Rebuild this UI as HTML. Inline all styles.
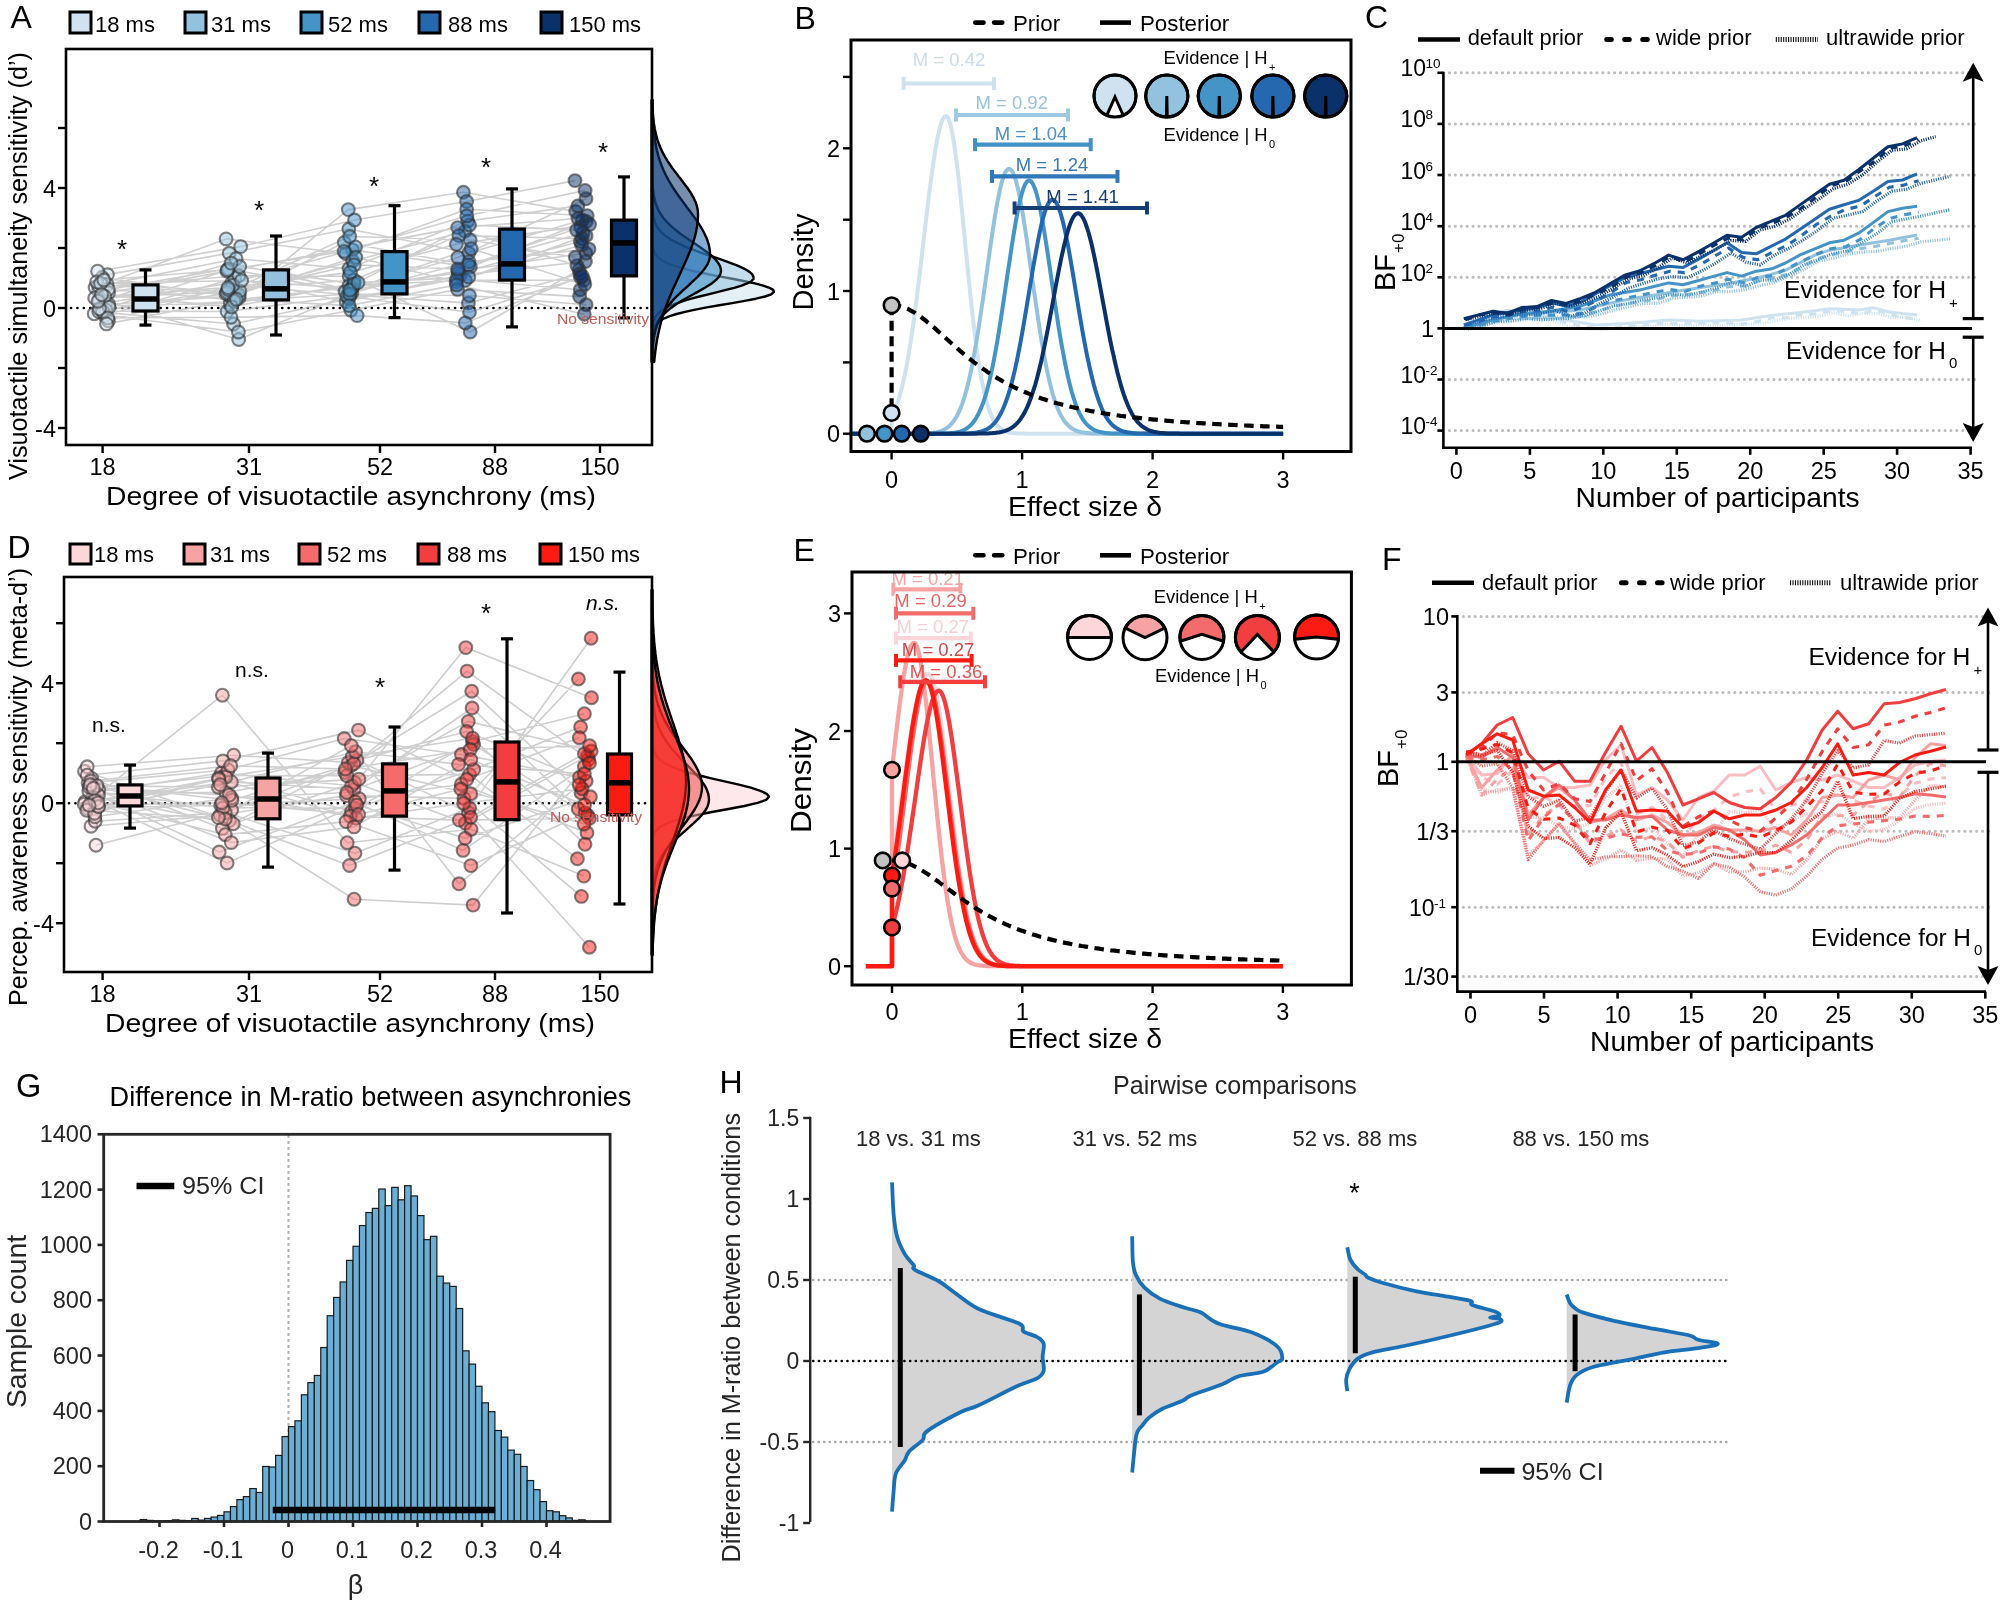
<!DOCTYPE html>
<html><head><meta charset="utf-8"><style>
html,body{margin:0;padding:0;background:#fff;overflow:hidden;width:2000px;height:1607px;}
svg{display:block;will-change:transform;}
text{font-family:"Liberation Sans",sans-serif;}
</style></head><body>
<svg width="2000" height="1607" viewBox="0 0 2000 1607">
<rect width="2000" height="1607" fill="#fff"/>
<text x="10.5" y="28.0" font-size="32" >A</text>
<rect x="70.0" y="12.0" width="21.0" height="21.0" fill="#cfe2ef" stroke="#000" stroke-width="3" />
<text x="95.0" y="32.0" font-size="22" textLength="59.9" lengthAdjust="spacingAndGlyphs" >18 ms</text>
<rect x="185.0" y="12.0" width="21.0" height="21.0" fill="#93c2df" stroke="#000" stroke-width="3" />
<text x="211.0" y="32.0" font-size="22" textLength="59.9" lengthAdjust="spacingAndGlyphs" >31 ms</text>
<rect x="301.0" y="12.0" width="21.0" height="21.0" fill="#4594c8" stroke="#000" stroke-width="3" />
<text x="328.0" y="32.0" font-size="22" textLength="59.9" lengthAdjust="spacingAndGlyphs" >52 ms</text>
<rect x="419.0" y="12.0" width="21.0" height="21.0" fill="#2468b0" stroke="#000" stroke-width="3" />
<text x="448.0" y="32.0" font-size="22" textLength="59.9" lengthAdjust="spacingAndGlyphs" >88 ms</text>
<rect x="541.0" y="12.0" width="21.0" height="21.0" fill="#0a3169" stroke="#000" stroke-width="3" />
<text x="569.0" y="32.0" font-size="22" textLength="72.1" lengthAdjust="spacingAndGlyphs" >150 ms</text>
<line x1="71" y1="308" x2="648" y2="308" stroke="#000" stroke-width="2.6" stroke-dasharray="0.1,6.3" stroke-linecap="round"/>
<path d="M105.9,302.8 L231.6,282.9 M107.4,274.6 L229.2,253.2 M104.6,315.6 L234.6,278.2 M102.3,277.5 L239.1,297.8 M98.6,291.1 L228.7,268.7 M99.5,299.8 L238.7,339.5 M97.6,271.2 L240.7,246.6 M95.1,287.5 L238.9,275.8 M103.4,284.8 L239.2,295.0 M98.6,285.8 L226.1,238.9 M107.0,284.4 L236.1,258.7 M94.7,298.1 L239.8,290.9 M108.5,292.8 L226.8,271.1 M105.1,305.8 L230.3,303.5 M108.8,304.2 L230.3,296.4 M108.3,289.3 L234.4,300.0 M108.4,320.7 L232.8,285.3 M103.2,312.4 L233.6,324.0 M94.2,313.8 L238.4,332.0 M105.9,310.2 L226.0,293.7 M96.7,281.9 L226.9,292.3 M98.8,311.5 L228.0,289.5 M104.6,296.4 L228.0,287.6 M102.4,311.1 L227.1,311.5 M100.6,283.4 L241.6,280.5 M109.0,307.2 L239.7,266.5 M103.8,280.0 L227.4,269.8 M99.5,308.8 L234.0,301.2 M98.0,301.2 L231.1,263.1 M107.8,317.9 L231.0,317.2 M101.6,294.6 L231.6,306.9 M106.5,323.9 L236.4,299.2 M231.6,282.9 L352.4,249.9 M229.2,253.2 L348.8,229.0 M234.6,278.2 L346.1,301.7 M239.1,297.8 L348.3,209.6 M228.7,268.7 L345.0,291.6 M238.7,339.5 L351.9,293.1 M240.7,246.6 L354.5,220.0 M238.9,275.8 L349.1,276.2 M239.2,295.0 L344.3,242.5 M226.1,238.9 L345.9,253.5 M236.1,258.7 L349.0,268.6 M239.8,290.9 L352.7,261.1 M226.8,271.1 L355.5,246.9 M230.3,303.5 L349.1,285.6 M230.3,296.4 L355.8,257.3 M234.4,300.0 L353.0,287.1 M232.8,285.3 L349.9,294.8 M233.6,324.0 L349.0,298.6 M238.4,332.0 L350.9,310.2 M226.0,293.7 L354.2,264.9 M226.9,292.3 L349.7,236.5 M228.0,289.5 L354.1,280.0 M228.0,287.6 L350.4,272.4 M227.1,311.5 L346.9,296.3 M241.6,280.5 L351.6,288.6 M239.7,266.5 L354.1,284.1 M227.4,269.8 L344.1,251.4 M234.0,301.2 L349.8,294.0 M231.1,263.1 L349.8,290.1 M231.0,317.2 L357.1,315.6 M231.6,306.9 L358.0,282.6 M236.4,299.2 L349.0,305.6 M352.4,249.9 L470.4,266.9 M348.8,229.0 L468.7,253.0 M346.1,301.7 L460.2,275.0 M348.3,209.6 L463.4,192.3 M345.0,291.6 L458.0,271.0 M351.9,293.1 L469.0,261.7 M354.5,220.0 L466.6,201.5 M349.1,276.2 L470.2,332.0 M344.3,242.5 L468.7,264.9 M345.9,253.5 L466.7,209.3 M349.0,268.6 L467.7,221.1 M352.7,261.1 L465.0,231.3 M355.5,246.9 L457.7,227.6 M349.1,285.6 L465.4,280.3 M355.8,257.3 L456.1,281.8 M353.0,287.1 L458.3,273.0 M349.9,294.8 L468.4,303.1 M349.0,298.6 L456.7,279.1 M350.9,310.2 L457.5,289.4 M354.2,264.9 L457.6,269.0 M349.7,236.5 L470.1,240.0 M354.1,280.0 L458.9,235.6 M350.4,272.4 L456.4,244.3 M346.9,296.3 L469.5,312.3 M351.6,288.6 L457.9,257.4 M354.1,284.1 L469.5,225.0 M344.1,251.4 L466.8,215.9 M349.8,294.0 L469.4,295.5 M349.8,290.1 L471.2,248.7 M357.1,315.6 L465.3,322.9 M358.0,282.6 L468.8,277.1 M349.0,305.6 L456.6,284.9 M470.4,266.9 L586.3,221.5 M468.7,253.0 L582.2,219.9 M460.2,275.0 L585.4,261.5 M463.4,192.3 L575.7,211.5 M458.0,271.0 L586.0,253.2 M469.0,261.7 L589.0,249.1 M466.6,201.5 L575.0,180.6 M470.2,332.0 L579.2,269.7 M468.7,264.9 L583.0,232.9 M466.7,209.3 L587.2,215.7 M467.7,221.1 L577.9,205.9 M465.0,231.3 L576.9,265.6 M457.7,227.6 L578.0,218.5 M465.4,280.3 L583.9,280.2 M456.1,281.8 L586.1,235.8 M458.3,273.0 L580.3,241.5 M468.4,303.1 L579.9,273.8 M456.7,279.1 L580.3,289.7 M457.5,289.4 L579.6,296.6 M457.6,269.0 L580.7,227.2 M470.1,240.0 L575.3,257.3 M458.9,235.6 L582.0,238.6 M456.4,244.3 L589.6,224.4 M469.5,312.3 L580.6,277.4 M457.9,257.4 L586.0,198.8 M469.5,225.0 L576.6,230.1 M466.8,215.9 L585.1,190.4 M469.4,295.5 L586.1,304.8 M471.2,248.7 L584.8,284.3 M465.3,322.9 L582.3,276.1 M468.8,277.1 L581.7,245.0 M456.6,284.9 L584.3,314.3" fill="none" stroke="#bdbdbd" stroke-width="1.6" stroke-opacity="0.72"/>
<circle cx="105.9" cy="302.8" r="6.4" fill="#cfe2ef" stroke="#303030" stroke-width="2.1" fill-opacity="0.5" stroke-opacity="0.6"/>
<circle cx="107.4" cy="274.6" r="6.4" fill="#cfe2ef" stroke="#303030" stroke-width="2.1" fill-opacity="0.5" stroke-opacity="0.6"/>
<circle cx="104.6" cy="315.6" r="6.4" fill="#cfe2ef" stroke="#303030" stroke-width="2.1" fill-opacity="0.5" stroke-opacity="0.6"/>
<circle cx="102.3" cy="277.5" r="6.4" fill="#cfe2ef" stroke="#303030" stroke-width="2.1" fill-opacity="0.5" stroke-opacity="0.6"/>
<circle cx="98.6" cy="291.1" r="6.4" fill="#cfe2ef" stroke="#303030" stroke-width="2.1" fill-opacity="0.5" stroke-opacity="0.6"/>
<circle cx="99.5" cy="299.8" r="6.4" fill="#cfe2ef" stroke="#303030" stroke-width="2.1" fill-opacity="0.5" stroke-opacity="0.6"/>
<circle cx="97.6" cy="271.2" r="6.4" fill="#cfe2ef" stroke="#303030" stroke-width="2.1" fill-opacity="0.5" stroke-opacity="0.6"/>
<circle cx="95.1" cy="287.5" r="6.4" fill="#cfe2ef" stroke="#303030" stroke-width="2.1" fill-opacity="0.5" stroke-opacity="0.6"/>
<circle cx="103.4" cy="284.8" r="6.4" fill="#cfe2ef" stroke="#303030" stroke-width="2.1" fill-opacity="0.5" stroke-opacity="0.6"/>
<circle cx="98.6" cy="285.8" r="6.4" fill="#cfe2ef" stroke="#303030" stroke-width="2.1" fill-opacity="0.5" stroke-opacity="0.6"/>
<circle cx="107.0" cy="284.4" r="6.4" fill="#cfe2ef" stroke="#303030" stroke-width="2.1" fill-opacity="0.5" stroke-opacity="0.6"/>
<circle cx="94.7" cy="298.1" r="6.4" fill="#cfe2ef" stroke="#303030" stroke-width="2.1" fill-opacity="0.5" stroke-opacity="0.6"/>
<circle cx="108.5" cy="292.8" r="6.4" fill="#cfe2ef" stroke="#303030" stroke-width="2.1" fill-opacity="0.5" stroke-opacity="0.6"/>
<circle cx="105.1" cy="305.8" r="6.4" fill="#cfe2ef" stroke="#303030" stroke-width="2.1" fill-opacity="0.5" stroke-opacity="0.6"/>
<circle cx="108.8" cy="304.2" r="6.4" fill="#cfe2ef" stroke="#303030" stroke-width="2.1" fill-opacity="0.5" stroke-opacity="0.6"/>
<circle cx="108.3" cy="289.3" r="6.4" fill="#cfe2ef" stroke="#303030" stroke-width="2.1" fill-opacity="0.5" stroke-opacity="0.6"/>
<circle cx="108.4" cy="320.7" r="6.4" fill="#cfe2ef" stroke="#303030" stroke-width="2.1" fill-opacity="0.5" stroke-opacity="0.6"/>
<circle cx="103.2" cy="312.4" r="6.4" fill="#cfe2ef" stroke="#303030" stroke-width="2.1" fill-opacity="0.5" stroke-opacity="0.6"/>
<circle cx="94.2" cy="313.8" r="6.4" fill="#cfe2ef" stroke="#303030" stroke-width="2.1" fill-opacity="0.5" stroke-opacity="0.6"/>
<circle cx="105.9" cy="310.2" r="6.4" fill="#cfe2ef" stroke="#303030" stroke-width="2.1" fill-opacity="0.5" stroke-opacity="0.6"/>
<circle cx="96.7" cy="281.9" r="6.4" fill="#cfe2ef" stroke="#303030" stroke-width="2.1" fill-opacity="0.5" stroke-opacity="0.6"/>
<circle cx="98.8" cy="311.5" r="6.4" fill="#cfe2ef" stroke="#303030" stroke-width="2.1" fill-opacity="0.5" stroke-opacity="0.6"/>
<circle cx="104.6" cy="296.4" r="6.4" fill="#cfe2ef" stroke="#303030" stroke-width="2.1" fill-opacity="0.5" stroke-opacity="0.6"/>
<circle cx="102.4" cy="311.1" r="6.4" fill="#cfe2ef" stroke="#303030" stroke-width="2.1" fill-opacity="0.5" stroke-opacity="0.6"/>
<circle cx="100.6" cy="283.4" r="6.4" fill="#cfe2ef" stroke="#303030" stroke-width="2.1" fill-opacity="0.5" stroke-opacity="0.6"/>
<circle cx="109.0" cy="307.2" r="6.4" fill="#cfe2ef" stroke="#303030" stroke-width="2.1" fill-opacity="0.5" stroke-opacity="0.6"/>
<circle cx="103.8" cy="280.0" r="6.4" fill="#cfe2ef" stroke="#303030" stroke-width="2.1" fill-opacity="0.5" stroke-opacity="0.6"/>
<circle cx="99.5" cy="308.8" r="6.4" fill="#cfe2ef" stroke="#303030" stroke-width="2.1" fill-opacity="0.5" stroke-opacity="0.6"/>
<circle cx="98.0" cy="301.2" r="6.4" fill="#cfe2ef" stroke="#303030" stroke-width="2.1" fill-opacity="0.5" stroke-opacity="0.6"/>
<circle cx="107.8" cy="317.9" r="6.4" fill="#cfe2ef" stroke="#303030" stroke-width="2.1" fill-opacity="0.5" stroke-opacity="0.6"/>
<circle cx="101.6" cy="294.6" r="6.4" fill="#cfe2ef" stroke="#303030" stroke-width="2.1" fill-opacity="0.5" stroke-opacity="0.6"/>
<circle cx="106.5" cy="323.9" r="6.4" fill="#cfe2ef" stroke="#303030" stroke-width="2.1" fill-opacity="0.5" stroke-opacity="0.6"/>
<circle cx="231.6" cy="282.9" r="6.4" fill="#93c2df" stroke="#303030" stroke-width="2.1" fill-opacity="0.5" stroke-opacity="0.6"/>
<circle cx="229.2" cy="253.2" r="6.4" fill="#93c2df" stroke="#303030" stroke-width="2.1" fill-opacity="0.5" stroke-opacity="0.6"/>
<circle cx="234.6" cy="278.2" r="6.4" fill="#93c2df" stroke="#303030" stroke-width="2.1" fill-opacity="0.5" stroke-opacity="0.6"/>
<circle cx="239.1" cy="297.8" r="6.4" fill="#93c2df" stroke="#303030" stroke-width="2.1" fill-opacity="0.5" stroke-opacity="0.6"/>
<circle cx="228.7" cy="268.7" r="6.4" fill="#93c2df" stroke="#303030" stroke-width="2.1" fill-opacity="0.5" stroke-opacity="0.6"/>
<circle cx="238.7" cy="339.5" r="6.4" fill="#93c2df" stroke="#303030" stroke-width="2.1" fill-opacity="0.5" stroke-opacity="0.6"/>
<circle cx="240.7" cy="246.6" r="6.4" fill="#93c2df" stroke="#303030" stroke-width="2.1" fill-opacity="0.5" stroke-opacity="0.6"/>
<circle cx="238.9" cy="275.8" r="6.4" fill="#93c2df" stroke="#303030" stroke-width="2.1" fill-opacity="0.5" stroke-opacity="0.6"/>
<circle cx="239.2" cy="295.0" r="6.4" fill="#93c2df" stroke="#303030" stroke-width="2.1" fill-opacity="0.5" stroke-opacity="0.6"/>
<circle cx="226.1" cy="238.9" r="6.4" fill="#93c2df" stroke="#303030" stroke-width="2.1" fill-opacity="0.5" stroke-opacity="0.6"/>
<circle cx="236.1" cy="258.7" r="6.4" fill="#93c2df" stroke="#303030" stroke-width="2.1" fill-opacity="0.5" stroke-opacity="0.6"/>
<circle cx="239.8" cy="290.9" r="6.4" fill="#93c2df" stroke="#303030" stroke-width="2.1" fill-opacity="0.5" stroke-opacity="0.6"/>
<circle cx="226.8" cy="271.1" r="6.4" fill="#93c2df" stroke="#303030" stroke-width="2.1" fill-opacity="0.5" stroke-opacity="0.6"/>
<circle cx="230.3" cy="303.5" r="6.4" fill="#93c2df" stroke="#303030" stroke-width="2.1" fill-opacity="0.5" stroke-opacity="0.6"/>
<circle cx="230.3" cy="296.4" r="6.4" fill="#93c2df" stroke="#303030" stroke-width="2.1" fill-opacity="0.5" stroke-opacity="0.6"/>
<circle cx="234.4" cy="300.0" r="6.4" fill="#93c2df" stroke="#303030" stroke-width="2.1" fill-opacity="0.5" stroke-opacity="0.6"/>
<circle cx="232.8" cy="285.3" r="6.4" fill="#93c2df" stroke="#303030" stroke-width="2.1" fill-opacity="0.5" stroke-opacity="0.6"/>
<circle cx="233.6" cy="324.0" r="6.4" fill="#93c2df" stroke="#303030" stroke-width="2.1" fill-opacity="0.5" stroke-opacity="0.6"/>
<circle cx="238.4" cy="332.0" r="6.4" fill="#93c2df" stroke="#303030" stroke-width="2.1" fill-opacity="0.5" stroke-opacity="0.6"/>
<circle cx="226.0" cy="293.7" r="6.4" fill="#93c2df" stroke="#303030" stroke-width="2.1" fill-opacity="0.5" stroke-opacity="0.6"/>
<circle cx="226.9" cy="292.3" r="6.4" fill="#93c2df" stroke="#303030" stroke-width="2.1" fill-opacity="0.5" stroke-opacity="0.6"/>
<circle cx="228.0" cy="289.5" r="6.4" fill="#93c2df" stroke="#303030" stroke-width="2.1" fill-opacity="0.5" stroke-opacity="0.6"/>
<circle cx="228.0" cy="287.6" r="6.4" fill="#93c2df" stroke="#303030" stroke-width="2.1" fill-opacity="0.5" stroke-opacity="0.6"/>
<circle cx="227.1" cy="311.5" r="6.4" fill="#93c2df" stroke="#303030" stroke-width="2.1" fill-opacity="0.5" stroke-opacity="0.6"/>
<circle cx="241.6" cy="280.5" r="6.4" fill="#93c2df" stroke="#303030" stroke-width="2.1" fill-opacity="0.5" stroke-opacity="0.6"/>
<circle cx="239.7" cy="266.5" r="6.4" fill="#93c2df" stroke="#303030" stroke-width="2.1" fill-opacity="0.5" stroke-opacity="0.6"/>
<circle cx="227.4" cy="269.8" r="6.4" fill="#93c2df" stroke="#303030" stroke-width="2.1" fill-opacity="0.5" stroke-opacity="0.6"/>
<circle cx="234.0" cy="301.2" r="6.4" fill="#93c2df" stroke="#303030" stroke-width="2.1" fill-opacity="0.5" stroke-opacity="0.6"/>
<circle cx="231.1" cy="263.1" r="6.4" fill="#93c2df" stroke="#303030" stroke-width="2.1" fill-opacity="0.5" stroke-opacity="0.6"/>
<circle cx="231.0" cy="317.2" r="6.4" fill="#93c2df" stroke="#303030" stroke-width="2.1" fill-opacity="0.5" stroke-opacity="0.6"/>
<circle cx="231.6" cy="306.9" r="6.4" fill="#93c2df" stroke="#303030" stroke-width="2.1" fill-opacity="0.5" stroke-opacity="0.6"/>
<circle cx="236.4" cy="299.2" r="6.4" fill="#93c2df" stroke="#303030" stroke-width="2.1" fill-opacity="0.5" stroke-opacity="0.6"/>
<circle cx="352.4" cy="249.9" r="6.4" fill="#4594c8" stroke="#303030" stroke-width="2.1" fill-opacity="0.5" stroke-opacity="0.6"/>
<circle cx="348.8" cy="229.0" r="6.4" fill="#4594c8" stroke="#303030" stroke-width="2.1" fill-opacity="0.5" stroke-opacity="0.6"/>
<circle cx="346.1" cy="301.7" r="6.4" fill="#4594c8" stroke="#303030" stroke-width="2.1" fill-opacity="0.5" stroke-opacity="0.6"/>
<circle cx="348.3" cy="209.6" r="6.4" fill="#4594c8" stroke="#303030" stroke-width="2.1" fill-opacity="0.5" stroke-opacity="0.6"/>
<circle cx="345.0" cy="291.6" r="6.4" fill="#4594c8" stroke="#303030" stroke-width="2.1" fill-opacity="0.5" stroke-opacity="0.6"/>
<circle cx="351.9" cy="293.1" r="6.4" fill="#4594c8" stroke="#303030" stroke-width="2.1" fill-opacity="0.5" stroke-opacity="0.6"/>
<circle cx="354.5" cy="220.0" r="6.4" fill="#4594c8" stroke="#303030" stroke-width="2.1" fill-opacity="0.5" stroke-opacity="0.6"/>
<circle cx="349.1" cy="276.2" r="6.4" fill="#4594c8" stroke="#303030" stroke-width="2.1" fill-opacity="0.5" stroke-opacity="0.6"/>
<circle cx="344.3" cy="242.5" r="6.4" fill="#4594c8" stroke="#303030" stroke-width="2.1" fill-opacity="0.5" stroke-opacity="0.6"/>
<circle cx="345.9" cy="253.5" r="6.4" fill="#4594c8" stroke="#303030" stroke-width="2.1" fill-opacity="0.5" stroke-opacity="0.6"/>
<circle cx="349.0" cy="268.6" r="6.4" fill="#4594c8" stroke="#303030" stroke-width="2.1" fill-opacity="0.5" stroke-opacity="0.6"/>
<circle cx="352.7" cy="261.1" r="6.4" fill="#4594c8" stroke="#303030" stroke-width="2.1" fill-opacity="0.5" stroke-opacity="0.6"/>
<circle cx="355.5" cy="246.9" r="6.4" fill="#4594c8" stroke="#303030" stroke-width="2.1" fill-opacity="0.5" stroke-opacity="0.6"/>
<circle cx="349.1" cy="285.6" r="6.4" fill="#4594c8" stroke="#303030" stroke-width="2.1" fill-opacity="0.5" stroke-opacity="0.6"/>
<circle cx="355.8" cy="257.3" r="6.4" fill="#4594c8" stroke="#303030" stroke-width="2.1" fill-opacity="0.5" stroke-opacity="0.6"/>
<circle cx="353.0" cy="287.1" r="6.4" fill="#4594c8" stroke="#303030" stroke-width="2.1" fill-opacity="0.5" stroke-opacity="0.6"/>
<circle cx="349.9" cy="294.8" r="6.4" fill="#4594c8" stroke="#303030" stroke-width="2.1" fill-opacity="0.5" stroke-opacity="0.6"/>
<circle cx="349.0" cy="298.6" r="6.4" fill="#4594c8" stroke="#303030" stroke-width="2.1" fill-opacity="0.5" stroke-opacity="0.6"/>
<circle cx="350.9" cy="310.2" r="6.4" fill="#4594c8" stroke="#303030" stroke-width="2.1" fill-opacity="0.5" stroke-opacity="0.6"/>
<circle cx="354.2" cy="264.9" r="6.4" fill="#4594c8" stroke="#303030" stroke-width="2.1" fill-opacity="0.5" stroke-opacity="0.6"/>
<circle cx="349.7" cy="236.5" r="6.4" fill="#4594c8" stroke="#303030" stroke-width="2.1" fill-opacity="0.5" stroke-opacity="0.6"/>
<circle cx="354.1" cy="280.0" r="6.4" fill="#4594c8" stroke="#303030" stroke-width="2.1" fill-opacity="0.5" stroke-opacity="0.6"/>
<circle cx="350.4" cy="272.4" r="6.4" fill="#4594c8" stroke="#303030" stroke-width="2.1" fill-opacity="0.5" stroke-opacity="0.6"/>
<circle cx="346.9" cy="296.3" r="6.4" fill="#4594c8" stroke="#303030" stroke-width="2.1" fill-opacity="0.5" stroke-opacity="0.6"/>
<circle cx="351.6" cy="288.6" r="6.4" fill="#4594c8" stroke="#303030" stroke-width="2.1" fill-opacity="0.5" stroke-opacity="0.6"/>
<circle cx="354.1" cy="284.1" r="6.4" fill="#4594c8" stroke="#303030" stroke-width="2.1" fill-opacity="0.5" stroke-opacity="0.6"/>
<circle cx="344.1" cy="251.4" r="6.4" fill="#4594c8" stroke="#303030" stroke-width="2.1" fill-opacity="0.5" stroke-opacity="0.6"/>
<circle cx="349.8" cy="294.0" r="6.4" fill="#4594c8" stroke="#303030" stroke-width="2.1" fill-opacity="0.5" stroke-opacity="0.6"/>
<circle cx="349.8" cy="290.1" r="6.4" fill="#4594c8" stroke="#303030" stroke-width="2.1" fill-opacity="0.5" stroke-opacity="0.6"/>
<circle cx="357.1" cy="315.6" r="6.4" fill="#4594c8" stroke="#303030" stroke-width="2.1" fill-opacity="0.5" stroke-opacity="0.6"/>
<circle cx="358.0" cy="282.6" r="6.4" fill="#4594c8" stroke="#303030" stroke-width="2.1" fill-opacity="0.5" stroke-opacity="0.6"/>
<circle cx="349.0" cy="305.6" r="6.4" fill="#4594c8" stroke="#303030" stroke-width="2.1" fill-opacity="0.5" stroke-opacity="0.6"/>
<circle cx="470.4" cy="266.9" r="6.4" fill="#2468b0" stroke="#303030" stroke-width="2.1" fill-opacity="0.5" stroke-opacity="0.6"/>
<circle cx="468.7" cy="253.0" r="6.4" fill="#2468b0" stroke="#303030" stroke-width="2.1" fill-opacity="0.5" stroke-opacity="0.6"/>
<circle cx="460.2" cy="275.0" r="6.4" fill="#2468b0" stroke="#303030" stroke-width="2.1" fill-opacity="0.5" stroke-opacity="0.6"/>
<circle cx="463.4" cy="192.3" r="6.4" fill="#2468b0" stroke="#303030" stroke-width="2.1" fill-opacity="0.5" stroke-opacity="0.6"/>
<circle cx="458.0" cy="271.0" r="6.4" fill="#2468b0" stroke="#303030" stroke-width="2.1" fill-opacity="0.5" stroke-opacity="0.6"/>
<circle cx="469.0" cy="261.7" r="6.4" fill="#2468b0" stroke="#303030" stroke-width="2.1" fill-opacity="0.5" stroke-opacity="0.6"/>
<circle cx="466.6" cy="201.5" r="6.4" fill="#2468b0" stroke="#303030" stroke-width="2.1" fill-opacity="0.5" stroke-opacity="0.6"/>
<circle cx="470.2" cy="332.0" r="6.4" fill="#2468b0" stroke="#303030" stroke-width="2.1" fill-opacity="0.5" stroke-opacity="0.6"/>
<circle cx="468.7" cy="264.9" r="6.4" fill="#2468b0" stroke="#303030" stroke-width="2.1" fill-opacity="0.5" stroke-opacity="0.6"/>
<circle cx="466.7" cy="209.3" r="6.4" fill="#2468b0" stroke="#303030" stroke-width="2.1" fill-opacity="0.5" stroke-opacity="0.6"/>
<circle cx="467.7" cy="221.1" r="6.4" fill="#2468b0" stroke="#303030" stroke-width="2.1" fill-opacity="0.5" stroke-opacity="0.6"/>
<circle cx="465.0" cy="231.3" r="6.4" fill="#2468b0" stroke="#303030" stroke-width="2.1" fill-opacity="0.5" stroke-opacity="0.6"/>
<circle cx="457.7" cy="227.6" r="6.4" fill="#2468b0" stroke="#303030" stroke-width="2.1" fill-opacity="0.5" stroke-opacity="0.6"/>
<circle cx="465.4" cy="280.3" r="6.4" fill="#2468b0" stroke="#303030" stroke-width="2.1" fill-opacity="0.5" stroke-opacity="0.6"/>
<circle cx="456.1" cy="281.8" r="6.4" fill="#2468b0" stroke="#303030" stroke-width="2.1" fill-opacity="0.5" stroke-opacity="0.6"/>
<circle cx="458.3" cy="273.0" r="6.4" fill="#2468b0" stroke="#303030" stroke-width="2.1" fill-opacity="0.5" stroke-opacity="0.6"/>
<circle cx="468.4" cy="303.1" r="6.4" fill="#2468b0" stroke="#303030" stroke-width="2.1" fill-opacity="0.5" stroke-opacity="0.6"/>
<circle cx="456.7" cy="279.1" r="6.4" fill="#2468b0" stroke="#303030" stroke-width="2.1" fill-opacity="0.5" stroke-opacity="0.6"/>
<circle cx="457.5" cy="289.4" r="6.4" fill="#2468b0" stroke="#303030" stroke-width="2.1" fill-opacity="0.5" stroke-opacity="0.6"/>
<circle cx="457.6" cy="269.0" r="6.4" fill="#2468b0" stroke="#303030" stroke-width="2.1" fill-opacity="0.5" stroke-opacity="0.6"/>
<circle cx="470.1" cy="240.0" r="6.4" fill="#2468b0" stroke="#303030" stroke-width="2.1" fill-opacity="0.5" stroke-opacity="0.6"/>
<circle cx="458.9" cy="235.6" r="6.4" fill="#2468b0" stroke="#303030" stroke-width="2.1" fill-opacity="0.5" stroke-opacity="0.6"/>
<circle cx="456.4" cy="244.3" r="6.4" fill="#2468b0" stroke="#303030" stroke-width="2.1" fill-opacity="0.5" stroke-opacity="0.6"/>
<circle cx="469.5" cy="312.3" r="6.4" fill="#2468b0" stroke="#303030" stroke-width="2.1" fill-opacity="0.5" stroke-opacity="0.6"/>
<circle cx="457.9" cy="257.4" r="6.4" fill="#2468b0" stroke="#303030" stroke-width="2.1" fill-opacity="0.5" stroke-opacity="0.6"/>
<circle cx="469.5" cy="225.0" r="6.4" fill="#2468b0" stroke="#303030" stroke-width="2.1" fill-opacity="0.5" stroke-opacity="0.6"/>
<circle cx="466.8" cy="215.9" r="6.4" fill="#2468b0" stroke="#303030" stroke-width="2.1" fill-opacity="0.5" stroke-opacity="0.6"/>
<circle cx="469.4" cy="295.5" r="6.4" fill="#2468b0" stroke="#303030" stroke-width="2.1" fill-opacity="0.5" stroke-opacity="0.6"/>
<circle cx="471.2" cy="248.7" r="6.4" fill="#2468b0" stroke="#303030" stroke-width="2.1" fill-opacity="0.5" stroke-opacity="0.6"/>
<circle cx="465.3" cy="322.9" r="6.4" fill="#2468b0" stroke="#303030" stroke-width="2.1" fill-opacity="0.5" stroke-opacity="0.6"/>
<circle cx="468.8" cy="277.1" r="6.4" fill="#2468b0" stroke="#303030" stroke-width="2.1" fill-opacity="0.5" stroke-opacity="0.6"/>
<circle cx="456.6" cy="284.9" r="6.4" fill="#2468b0" stroke="#303030" stroke-width="2.1" fill-opacity="0.5" stroke-opacity="0.6"/>
<circle cx="586.3" cy="221.5" r="6.4" fill="#0a3169" stroke="#303030" stroke-width="2.1" fill-opacity="0.5" stroke-opacity="0.6"/>
<circle cx="582.2" cy="219.9" r="6.4" fill="#0a3169" stroke="#303030" stroke-width="2.1" fill-opacity="0.5" stroke-opacity="0.6"/>
<circle cx="585.4" cy="261.5" r="6.4" fill="#0a3169" stroke="#303030" stroke-width="2.1" fill-opacity="0.5" stroke-opacity="0.6"/>
<circle cx="575.7" cy="211.5" r="6.4" fill="#0a3169" stroke="#303030" stroke-width="2.1" fill-opacity="0.5" stroke-opacity="0.6"/>
<circle cx="586.0" cy="253.2" r="6.4" fill="#0a3169" stroke="#303030" stroke-width="2.1" fill-opacity="0.5" stroke-opacity="0.6"/>
<circle cx="589.0" cy="249.1" r="6.4" fill="#0a3169" stroke="#303030" stroke-width="2.1" fill-opacity="0.5" stroke-opacity="0.6"/>
<circle cx="575.0" cy="180.6" r="6.4" fill="#0a3169" stroke="#303030" stroke-width="2.1" fill-opacity="0.5" stroke-opacity="0.6"/>
<circle cx="579.2" cy="269.7" r="6.4" fill="#0a3169" stroke="#303030" stroke-width="2.1" fill-opacity="0.5" stroke-opacity="0.6"/>
<circle cx="583.0" cy="232.9" r="6.4" fill="#0a3169" stroke="#303030" stroke-width="2.1" fill-opacity="0.5" stroke-opacity="0.6"/>
<circle cx="587.2" cy="215.7" r="6.4" fill="#0a3169" stroke="#303030" stroke-width="2.1" fill-opacity="0.5" stroke-opacity="0.6"/>
<circle cx="577.9" cy="205.9" r="6.4" fill="#0a3169" stroke="#303030" stroke-width="2.1" fill-opacity="0.5" stroke-opacity="0.6"/>
<circle cx="576.9" cy="265.6" r="6.4" fill="#0a3169" stroke="#303030" stroke-width="2.1" fill-opacity="0.5" stroke-opacity="0.6"/>
<circle cx="578.0" cy="218.5" r="6.4" fill="#0a3169" stroke="#303030" stroke-width="2.1" fill-opacity="0.5" stroke-opacity="0.6"/>
<circle cx="583.9" cy="280.2" r="6.4" fill="#0a3169" stroke="#303030" stroke-width="2.1" fill-opacity="0.5" stroke-opacity="0.6"/>
<circle cx="586.1" cy="235.8" r="6.4" fill="#0a3169" stroke="#303030" stroke-width="2.1" fill-opacity="0.5" stroke-opacity="0.6"/>
<circle cx="580.3" cy="241.5" r="6.4" fill="#0a3169" stroke="#303030" stroke-width="2.1" fill-opacity="0.5" stroke-opacity="0.6"/>
<circle cx="579.9" cy="273.8" r="6.4" fill="#0a3169" stroke="#303030" stroke-width="2.1" fill-opacity="0.5" stroke-opacity="0.6"/>
<circle cx="580.3" cy="289.7" r="6.4" fill="#0a3169" stroke="#303030" stroke-width="2.1" fill-opacity="0.5" stroke-opacity="0.6"/>
<circle cx="579.6" cy="296.6" r="6.4" fill="#0a3169" stroke="#303030" stroke-width="2.1" fill-opacity="0.5" stroke-opacity="0.6"/>
<circle cx="580.7" cy="227.2" r="6.4" fill="#0a3169" stroke="#303030" stroke-width="2.1" fill-opacity="0.5" stroke-opacity="0.6"/>
<circle cx="575.3" cy="257.3" r="6.4" fill="#0a3169" stroke="#303030" stroke-width="2.1" fill-opacity="0.5" stroke-opacity="0.6"/>
<circle cx="582.0" cy="238.6" r="6.4" fill="#0a3169" stroke="#303030" stroke-width="2.1" fill-opacity="0.5" stroke-opacity="0.6"/>
<circle cx="589.6" cy="224.4" r="6.4" fill="#0a3169" stroke="#303030" stroke-width="2.1" fill-opacity="0.5" stroke-opacity="0.6"/>
<circle cx="580.6" cy="277.4" r="6.4" fill="#0a3169" stroke="#303030" stroke-width="2.1" fill-opacity="0.5" stroke-opacity="0.6"/>
<circle cx="586.0" cy="198.8" r="6.4" fill="#0a3169" stroke="#303030" stroke-width="2.1" fill-opacity="0.5" stroke-opacity="0.6"/>
<circle cx="576.6" cy="230.1" r="6.4" fill="#0a3169" stroke="#303030" stroke-width="2.1" fill-opacity="0.5" stroke-opacity="0.6"/>
<circle cx="585.1" cy="190.4" r="6.4" fill="#0a3169" stroke="#303030" stroke-width="2.1" fill-opacity="0.5" stroke-opacity="0.6"/>
<circle cx="586.1" cy="304.8" r="6.4" fill="#0a3169" stroke="#303030" stroke-width="2.1" fill-opacity="0.5" stroke-opacity="0.6"/>
<circle cx="584.8" cy="284.3" r="6.4" fill="#0a3169" stroke="#303030" stroke-width="2.1" fill-opacity="0.5" stroke-opacity="0.6"/>
<circle cx="582.3" cy="276.1" r="6.4" fill="#0a3169" stroke="#303030" stroke-width="2.1" fill-opacity="0.5" stroke-opacity="0.6"/>
<circle cx="581.7" cy="245.0" r="6.4" fill="#0a3169" stroke="#303030" stroke-width="2.1" fill-opacity="0.5" stroke-opacity="0.6"/>
<circle cx="584.3" cy="314.3" r="6.4" fill="#0a3169" stroke="#303030" stroke-width="2.1" fill-opacity="0.5" stroke-opacity="0.6"/>
<line x1="145.5" y1="269.9" x2="145.5" y2="284.9" stroke="#000" stroke-width="3.2" />
<line x1="145.5" y1="311.0" x2="145.5" y2="325.1" stroke="#000" stroke-width="3.2" />
<line x1="139.5" y1="269.9" x2="151.5" y2="269.9" stroke="#000" stroke-width="3.2" />
<line x1="139.5" y1="325.1" x2="151.5" y2="325.1" stroke="#000" stroke-width="3.2" />
<rect x="133.0" y="284.9" width="25.0" height="26.1" fill="#cfe2ef" stroke="#000" stroke-width="3.2" />
<line x1="133.0" y1="299.0" x2="158.0" y2="299.0" stroke="#000" stroke-width="5.5" />
<line x1="276.0" y1="236.0" x2="276.0" y2="269.9" stroke="#000" stroke-width="3.2" />
<line x1="276.0" y1="299.9" x2="276.0" y2="335.0" stroke="#000" stroke-width="3.2" />
<line x1="270.0" y1="236.0" x2="282.0" y2="236.0" stroke="#000" stroke-width="3.2" />
<line x1="270.0" y1="335.0" x2="282.0" y2="335.0" stroke="#000" stroke-width="3.2" />
<rect x="263.5" y="269.9" width="25.0" height="30.0" fill="#93c2df" stroke="#000" stroke-width="3.2" />
<line x1="263.5" y1="288.8" x2="288.5" y2="288.8" stroke="#000" stroke-width="5.5" />
<line x1="394.5" y1="205.7" x2="394.5" y2="251.6" stroke="#000" stroke-width="3.2" />
<line x1="394.5" y1="293.9" x2="394.5" y2="317.6" stroke="#000" stroke-width="3.2" />
<line x1="388.5" y1="205.7" x2="400.5" y2="205.7" stroke="#000" stroke-width="3.2" />
<line x1="388.5" y1="317.6" x2="400.5" y2="317.6" stroke="#000" stroke-width="3.2" />
<rect x="382.0" y="251.6" width="25.0" height="42.3" fill="#4594c8" stroke="#000" stroke-width="3.2" />
<line x1="382.0" y1="281.9" x2="407.0" y2="281.9" stroke="#000" stroke-width="5.5" />
<line x1="512.0" y1="188.9" x2="512.0" y2="229.1" stroke="#000" stroke-width="3.2" />
<line x1="512.0" y1="280.1" x2="512.0" y2="326.9" stroke="#000" stroke-width="3.2" />
<line x1="506.0" y1="188.9" x2="518.0" y2="188.9" stroke="#000" stroke-width="3.2" />
<line x1="506.0" y1="326.9" x2="518.0" y2="326.9" stroke="#000" stroke-width="3.2" />
<rect x="499.5" y="229.1" width="25.0" height="51.0" fill="#2468b0" stroke="#000" stroke-width="3.2" />
<line x1="499.5" y1="263.9" x2="524.5" y2="263.9" stroke="#000" stroke-width="5.5" />
<line x1="624.0" y1="176.9" x2="624.0" y2="220.1" stroke="#000" stroke-width="3.2" />
<line x1="624.0" y1="275.9" x2="624.0" y2="317.9" stroke="#000" stroke-width="3.2" />
<line x1="618.0" y1="176.9" x2="630.0" y2="176.9" stroke="#000" stroke-width="3.2" />
<line x1="618.0" y1="317.9" x2="630.0" y2="317.9" stroke="#000" stroke-width="3.2" />
<rect x="611.5" y="220.1" width="25.0" height="55.8" fill="#0a3169" stroke="#000" stroke-width="3.2" />
<line x1="611.5" y1="242.9" x2="636.5" y2="242.9" stroke="#000" stroke-width="5.5" />
<text x="122.0" y="258.0" font-size="26" text-anchor="middle" >*</text>
<text x="259.0" y="219.0" font-size="26" text-anchor="middle" >*</text>
<text x="374.0" y="195.0" font-size="26" text-anchor="middle" >*</text>
<text x="486.0" y="176.0" font-size="26" text-anchor="middle" >*</text>
<text x="603.0" y="161.0" font-size="26" text-anchor="middle" >*</text>
<text x="557.0" y="324.0" font-size="15.5" fill="#c25b56" textLength="92.0" lengthAdjust="spacingAndGlyphs" >No sensitivity</text>
<path d="M652.0,100.0 L652.0,100.0 L652.0,102.2 L652.0,104.4 L652.0,106.5 L652.0,108.7 L652.0,110.9 L652.0,113.1 L652.0,115.3 L652.0,117.5 L652.0,119.7 L652.0,121.8 L652.0,124.0 L652.0,126.2 L652.0,128.4 L652.0,130.6 L652.0,132.8 L652.0,134.9 L652.0,137.1 L652.0,139.3 L652.0,141.5 L652.0,143.7 L652.0,145.8 L652.0,148.0 L652.0,150.2 L652.0,152.4 L652.0,154.6 L652.0,156.8 L652.0,158.9 L652.0,161.1 L652.0,163.3 L652.0,165.5 L652.0,167.7 L652.0,169.9 L652.0,172.1 L652.0,174.2 L652.0,176.4 L652.0,178.6 L652.0,180.8 L652.0,183.0 L652.0,185.2 L652.0,187.3 L652.0,189.5 L652.0,191.7 L652.0,193.9 L652.0,196.1 L652.0,198.2 L652.0,200.4 L652.0,202.6 L652.0,204.8 L652.0,207.0 L652.0,209.2 L652.0,211.3 L652.0,213.5 L652.0,215.7 L652.0,217.9 L652.0,220.1 L652.0,222.3 L652.0,224.4 L652.0,226.6 L652.0,228.8 L652.0,231.0 L652.0,233.2 L652.0,235.4 L652.1,237.6 L652.1,239.7 L652.2,241.9 L652.4,244.1 L652.6,246.3 L653.1,248.5 L653.7,250.7 L654.6,252.8 L656.0,255.0 L658.0,257.2 L660.6,259.4 L664.2,261.6 L668.9,263.8 L674.7,265.9 L681.9,268.1 L690.3,270.3 L700.0,272.5 L710.7,274.7 L722.0,276.9 L733.5,279.0 L744.7,281.2 L754.8,283.4 L763.2,285.6 L769.5,287.8 L773.2,289.9 L773.9,292.1 L771.2,294.3 L765.0,296.5 L755.9,298.7 L744.7,300.9 L732.2,303.1 L719.3,305.2 L706.8,307.4 L695.3,309.6 L685.1,311.8 L676.6,314.0 L669.7,316.1 L664.4,318.3 L660.4,320.5 L657.5,322.7 L655.5,324.9 L654.2,327.1 L653.3,329.2 L652.8,331.4 L652.4,333.6 L652.2,335.8 L652.1,338.0 L652.1,340.2 L652.0,342.4 L652.0,344.5 L652.0,346.7 L652.0,348.9 L652.0,351.1 L652.0,353.3 L652.0,355.4 L652.0,357.6 L652.0,359.8 L652.0,362.0 L652.0,362.0 Z" fill="#cfe2ef" stroke="#000" stroke-width="2.4" fill-opacity="0.55" stroke-linejoin="round"/>
<path d="M652.0,100.0 L652.0,100.0 L652.0,102.2 L652.0,104.4 L652.0,106.5 L652.0,108.7 L652.0,110.9 L652.0,113.1 L652.0,115.3 L652.0,117.5 L652.0,119.7 L652.0,121.8 L652.0,124.0 L652.0,126.2 L652.0,128.4 L652.0,130.6 L652.0,132.8 L652.0,134.9 L652.0,137.1 L652.0,139.3 L652.0,141.5 L652.0,143.7 L652.0,145.8 L652.0,148.0 L652.0,150.2 L652.0,152.4 L652.0,154.6 L652.0,156.8 L652.0,158.9 L652.0,161.1 L652.0,163.3 L652.0,165.5 L652.0,167.7 L652.0,169.9 L652.0,172.1 L652.0,174.2 L652.0,176.4 L652.0,178.6 L652.0,180.8 L652.0,183.0 L652.0,185.2 L652.0,187.3 L652.0,189.5 L652.0,191.7 L652.0,193.9 L652.1,196.1 L652.1,198.2 L652.1,200.4 L652.2,202.6 L652.2,204.8 L652.3,207.0 L652.5,209.2 L652.7,211.3 L652.9,213.5 L653.3,215.7 L653.7,217.9 L654.3,220.1 L655.0,222.3 L655.9,224.4 L657.1,226.6 L658.5,228.8 L660.3,231.0 L662.4,233.2 L665.0,235.4 L667.9,237.6 L671.3,239.7 L675.2,241.9 L679.6,244.1 L684.5,246.3 L689.8,248.5 L695.6,250.7 L701.6,252.8 L707.9,255.0 L714.3,257.2 L720.7,259.4 L726.9,261.6 L732.8,263.8 L738.2,265.9 L743.0,268.1 L747.1,270.3 L750.3,272.5 L752.4,274.7 L753.5,276.9 L753.5,279.0 L751.4,281.2 L747.3,283.4 L741.5,285.6 L734.3,287.8 L726.0,289.9 L717.2,292.1 L708.3,294.3 L699.5,296.5 L691.3,298.7 L683.8,300.9 L677.2,303.1 L671.6,305.2 L666.9,307.4 L663.1,309.6 L660.1,311.8 L657.7,314.0 L656.0,316.1 L654.7,318.3 L653.8,320.5 L653.2,322.7 L652.8,324.9 L652.5,327.1 L652.3,329.2 L652.2,331.4 L652.1,333.6 L652.1,335.8 L652.0,338.0 L652.0,340.2 L652.0,342.4 L652.0,344.5 L652.0,346.7 L652.0,348.9 L652.0,351.1 L652.0,353.3 L652.0,355.4 L652.0,357.6 L652.0,359.8 L652.0,362.0 L652.0,362.0 Z" fill="#93c2df" stroke="#000" stroke-width="2.4" fill-opacity="0.55" stroke-linejoin="round"/>
<path d="M652.0,100.0 L652.0,100.0 L652.0,102.2 L652.0,104.4 L652.0,106.5 L652.0,108.7 L652.0,110.9 L652.0,113.1 L652.0,115.3 L652.0,117.5 L652.0,119.7 L652.0,121.8 L652.0,124.0 L652.0,126.2 L652.0,128.4 L652.0,130.6 L652.0,132.8 L652.0,134.9 L652.0,137.1 L652.0,139.3 L652.0,141.5 L652.0,143.7 L652.0,145.8 L652.0,148.0 L652.0,150.2 L652.0,152.4 L652.0,154.6 L652.0,156.8 L652.0,158.9 L652.0,161.1 L652.0,163.3 L652.1,165.5 L652.1,167.7 L652.1,169.9 L652.1,172.1 L652.2,174.2 L652.2,176.4 L652.3,178.6 L652.4,180.8 L652.5,183.0 L652.6,185.2 L652.8,187.3 L653.0,189.5 L653.3,191.7 L653.6,193.9 L653.9,196.1 L654.4,198.2 L654.9,200.4 L655.5,202.6 L656.2,204.8 L657.1,207.0 L658.0,209.2 L659.1,211.3 L660.4,213.5 L661.8,215.7 L663.4,217.9 L665.2,220.1 L667.2,222.3 L669.3,224.4 L671.7,226.6 L674.2,228.8 L676.9,231.0 L679.7,233.2 L682.7,235.4 L685.8,237.6 L689.0,239.7 L692.2,241.9 L695.5,244.1 L698.7,246.3 L701.9,248.5 L705.0,250.7 L707.9,252.8 L710.6,255.0 L713.1,257.2 L715.3,259.4 L717.2,261.6 L718.7,263.8 L719.9,265.9 L720.6,268.1 L721.0,270.3 L720.9,272.5 L720.1,274.7 L718.8,276.9 L716.9,279.0 L714.5,281.2 L711.7,283.4 L708.4,285.6 L704.9,287.8 L701.1,289.9 L697.2,292.1 L693.3,294.3 L689.3,296.5 L685.4,298.7 L681.7,300.9 L678.1,303.1 L674.8,305.2 L671.7,307.4 L668.9,309.6 L666.3,311.8 L664.1,314.0 L662.0,316.1 L660.3,318.3 L658.8,320.5 L657.5,322.7 L656.4,324.9 L655.5,327.1 L654.8,329.2 L654.2,331.4 L653.7,333.6 L653.3,335.8 L653.0,338.0 L652.8,340.2 L652.6,342.4 L652.4,344.5 L652.3,346.7 L652.2,348.9 L652.2,351.1 L652.1,353.3 L652.1,355.4 L652.1,357.6 L652.0,359.8 L652.0,362.0 L652.0,362.0 Z" fill="#4594c8" stroke="#000" stroke-width="2.4" fill-opacity="0.55" stroke-linejoin="round"/>
<path d="M652.0,100.0 L652.3,100.0 L652.3,102.2 L652.4,104.4 L652.4,106.5 L652.5,108.7 L652.5,110.9 L652.6,113.1 L652.7,115.3 L652.8,117.5 L652.9,119.7 L653.1,121.8 L653.2,124.0 L653.4,126.2 L653.6,128.4 L653.8,130.6 L654.0,132.8 L654.3,134.9 L654.6,137.1 L654.9,139.3 L655.2,141.5 L655.6,143.7 L656.0,145.8 L656.4,148.0 L656.9,150.2 L657.5,152.4 L658.0,154.6 L658.6,156.8 L659.3,158.9 L660.0,161.1 L660.8,163.3 L661.6,165.5 L662.5,167.7 L663.4,169.9 L664.4,172.1 L665.4,174.2 L666.5,176.4 L667.7,178.6 L668.9,180.8 L670.2,183.0 L671.5,185.2 L672.8,187.3 L674.2,189.5 L675.7,191.7 L677.2,193.9 L678.7,196.1 L680.3,198.2 L681.9,200.4 L683.5,202.6 L685.1,204.8 L686.7,207.0 L688.4,209.2 L690.0,211.3 L691.6,213.5 L693.2,215.7 L694.8,217.9 L696.3,220.1 L697.8,222.3 L699.2,224.4 L700.6,226.6 L701.9,228.8 L703.1,231.0 L704.3,233.2 L705.3,235.4 L706.3,237.6 L707.2,239.7 L707.9,241.9 L708.6,244.1 L709.1,246.3 L709.5,248.5 L709.8,250.7 L710.0,252.8 L710.0,255.0 L709.8,257.2 L709.4,259.4 L708.6,261.6 L707.7,263.8 L706.5,265.9 L705.0,268.1 L703.4,270.3 L701.6,272.5 L699.6,274.7 L697.5,276.9 L695.3,279.0 L693.0,281.2 L690.7,283.4 L688.3,285.6 L685.9,287.8 L683.5,289.9 L681.2,292.1 L678.8,294.3 L676.6,296.5 L674.5,298.7 L672.4,300.9 L670.4,303.1 L668.6,305.2 L666.9,307.4 L665.2,309.6 L663.7,311.8 L662.4,314.0 L661.1,316.1 L660.0,318.3 L659.0,320.5 L658.0,322.7 L657.2,324.9 L656.5,327.1 L655.8,329.2 L655.2,331.4 L654.8,333.6 L654.3,335.8 L653.9,338.0 L653.6,340.2 L653.4,342.4 L653.1,344.5 L652.9,346.7 L652.8,348.9 L652.6,351.1 L652.5,353.3 L652.4,355.4 L652.3,357.6 L652.3,359.8 L652.2,362.0 L652.0,362.0 Z" fill="#2468b0" stroke="#000" stroke-width="2.4" fill-opacity="0.55" stroke-linejoin="round"/>
<path d="M652.0,100.0 L652.3,100.0 L652.4,102.2 L652.4,104.4 L652.5,106.5 L652.6,108.7 L652.8,110.9 L652.9,113.1 L653.1,115.3 L653.3,117.5 L653.5,119.7 L653.7,121.8 L654.0,124.0 L654.4,126.2 L654.7,128.4 L655.1,130.6 L655.6,132.8 L656.1,134.9 L656.7,137.1 L657.3,139.3 L658.0,141.5 L658.8,143.7 L659.7,145.8 L660.6,148.0 L661.6,150.2 L662.6,152.4 L663.8,154.6 L665.0,156.8 L666.3,158.9 L667.6,161.1 L669.1,163.3 L670.6,165.5 L672.1,167.7 L673.7,169.9 L675.3,172.1 L677.0,174.2 L678.7,176.4 L680.4,178.6 L682.1,180.8 L683.7,183.0 L685.4,185.2 L687.0,187.3 L688.5,189.5 L690.0,191.7 L691.4,193.9 L692.6,196.1 L693.8,198.2 L694.8,200.4 L695.8,202.6 L696.5,204.8 L697.1,207.0 L697.6,209.2 L697.9,211.3 L698.0,213.5 L698.0,215.7 L697.9,217.9 L697.8,220.1 L697.6,222.3 L697.3,224.4 L697.0,226.6 L696.6,228.8 L696.2,231.0 L695.7,233.2 L695.2,235.4 L694.6,237.6 L694.0,239.7 L693.3,241.9 L692.6,244.1 L691.8,246.3 L691.0,248.5 L690.2,250.7 L689.3,252.8 L688.4,255.0 L687.5,257.2 L686.6,259.4 L685.6,261.6 L684.6,263.8 L683.6,265.9 L682.6,268.1 L681.6,270.3 L680.6,272.5 L679.6,274.7 L678.6,276.9 L677.6,279.0 L676.6,281.2 L675.6,283.4 L674.6,285.6 L673.6,287.8 L672.6,289.9 L671.7,292.1 L670.8,294.3 L669.9,296.5 L669.0,298.7 L668.1,300.9 L667.3,303.1 L666.5,305.2 L665.7,307.4 L664.9,309.6 L664.2,311.8 L663.5,314.0 L662.8,316.1 L662.1,318.3 L661.5,320.5 L660.9,322.7 L660.3,324.9 L659.8,327.1 L659.3,329.2 L658.8,331.4 L658.3,333.6 L657.9,335.8 L657.4,338.0 L657.0,340.2 L656.7,342.4 L656.3,344.5 L656.0,346.7 L655.7,348.9 L655.4,351.1 L655.1,353.3 L654.9,355.4 L654.6,357.6 L654.4,359.8 L654.2,362.0 L652.0,362.0 Z" fill="#0a3169" stroke="#000" stroke-width="2.4" fill-opacity="0.55" stroke-linejoin="round"/>
<rect x="66.0" y="49.0" width="586.0" height="396.0" fill="none" stroke="#000" stroke-width="2.6" />
<line x1="58.0" y1="128.0" x2="66.0" y2="128.0" stroke="#000" stroke-width="2.4" />
<line x1="58.0" y1="188.0" x2="66.0" y2="188.0" stroke="#000" stroke-width="2.4" />
<text x="56.0" y="196.5" font-size="23.5" text-anchor="end" >4</text>
<line x1="58.0" y1="248.0" x2="66.0" y2="248.0" stroke="#000" stroke-width="2.4" />
<line x1="58.0" y1="308.0" x2="66.0" y2="308.0" stroke="#000" stroke-width="2.4" />
<text x="56.0" y="316.5" font-size="23.5" text-anchor="end" >0</text>
<line x1="58.0" y1="368.0" x2="66.0" y2="368.0" stroke="#000" stroke-width="2.4" />
<line x1="58.0" y1="428.0" x2="66.0" y2="428.0" stroke="#000" stroke-width="2.4" />
<text x="56.0" y="436.5" font-size="23.5" text-anchor="end" >-4</text>
<line x1="102.6" y1="445.0" x2="102.6" y2="453.0" stroke="#000" stroke-width="2.4" />
<text x="102.6" y="475.0" font-size="23.5" text-anchor="middle" >18</text>
<line x1="249.0" y1="445.0" x2="249.0" y2="453.0" stroke="#000" stroke-width="2.4" />
<text x="249.0" y="475.0" font-size="23.5" text-anchor="middle" >31</text>
<line x1="380.0" y1="445.0" x2="380.0" y2="453.0" stroke="#000" stroke-width="2.4" />
<text x="380.0" y="475.0" font-size="23.5" text-anchor="middle" >52</text>
<line x1="495.0" y1="445.0" x2="495.0" y2="453.0" stroke="#000" stroke-width="2.4" />
<text x="495.0" y="475.0" font-size="23.5" text-anchor="middle" >88</text>
<line x1="600.0" y1="445.0" x2="600.0" y2="453.0" stroke="#000" stroke-width="2.4" />
<text x="600.0" y="475.0" font-size="23.5" text-anchor="middle" >150</text>
<text x="351.0" y="505.0" font-size="26" text-anchor="middle" textLength="490.0" lengthAdjust="spacingAndGlyphs" >Degree of visuotactile asynchrony (ms)</text>
<text x="27.0" y="266.0" font-size="26" text-anchor="middle" textLength="428.0" lengthAdjust="spacingAndGlyphs" transform="rotate(-90 27.0 266.0)" >Visuotactile simultaneity sensitivity (d’)</text>
<text x="7.5" y="558.0" font-size="32" >D</text>
<rect x="70.0" y="544.0" width="21.0" height="20.0" fill="#fdd6da" stroke="#000" stroke-width="3" />
<text x="94.0" y="562.0" font-size="22" textLength="59.9" lengthAdjust="spacingAndGlyphs" >18 ms</text>
<rect x="184.0" y="544.0" width="21.0" height="20.0" fill="#f8a3a3" stroke="#000" stroke-width="3" />
<text x="210.0" y="562.0" font-size="22" textLength="59.9" lengthAdjust="spacingAndGlyphs" >31 ms</text>
<rect x="299.0" y="544.0" width="21.0" height="20.0" fill="#f46b6b" stroke="#000" stroke-width="3" />
<text x="327.0" y="562.0" font-size="22" textLength="59.9" lengthAdjust="spacingAndGlyphs" >52 ms</text>
<rect x="418.0" y="544.0" width="21.0" height="20.0" fill="#f23e3e" stroke="#000" stroke-width="3" />
<text x="447.0" y="562.0" font-size="22" textLength="59.9" lengthAdjust="spacingAndGlyphs" >88 ms</text>
<rect x="540.0" y="544.0" width="21.0" height="20.0" fill="#fa1c12" stroke="#000" stroke-width="3" />
<text x="568.0" y="562.0" font-size="22" textLength="72.1" lengthAdjust="spacingAndGlyphs" >150 ms</text>
<line x1="69" y1="803.2" x2="648" y2="803.2" stroke="#000" stroke-width="2.6" stroke-dasharray="0.1,6.3" stroke-linecap="round"/>
<path d="M91.0,826.2 L220.2,815.1 M97.4,793.9 L225.9,792.4 M85.3,801.6 L231.4,781.9 M96.0,845.2 L231.6,810.1 M84.5,771.3 L229.4,820.6 M93.6,796.6 L233.2,823.7 M91.7,778.4 L222.4,828.4 M87.7,808.2 L220.7,805.2 M95.2,821.2 L225.2,812.6 M92.0,799.1 L222.4,695.2 M93.8,792.5 L221.4,773.0 M98.7,789.8 L224.6,775.5 M88.1,782.9 L228.0,769.8 M84.2,804.0 L225.9,777.1 M88.8,791.1 L223.0,807.7 M94.9,816.8 L231.4,797.7 M87.2,766.8 L233.7,755.2 M86.7,810.3 L225.2,819.0 M98.5,795.3 L219.2,852.0 M94.6,813.2 L218.5,777.9 M91.1,784.2 L232.0,800.2 M98.3,806.0 L218.7,779.3 M89.2,787.0 L229.3,795.1 M94.7,800.3 L227.1,863.0 M87.2,775.2 L222.9,760.9 M90.9,781.0 L230.7,765.7 M96.9,785.6 L218.3,787.2 M98.6,806.7 L220.2,784.6 M98.1,802.8 L225.3,834.7 M90.2,784.8 L218.4,817.6 M93.3,788.4 L231.3,842.6 M89.1,805.3 L221.8,802.7 M220.2,815.1 L346.3,795.6 M225.9,792.4 L344.8,772.3 M231.4,781.9 L354.1,789.2 M231.6,810.1 L351.1,765.6 M229.4,820.6 L354.1,899.2 M233.2,823.7 L354.5,782.5 M222.4,828.4 L356.9,760.1 M220.7,805.2 L359.3,798.8 M225.2,812.6 L355.0,853.2 M222.4,695.2 L347.2,842.7 M221.4,773.0 L351.6,785.8 M224.6,775.5 L346.9,775.7 M228.0,769.8 L344.2,738.5 M225.9,777.1 L351.6,811.4 M223.0,807.7 L355.4,808.2 M231.4,797.7 L346.9,792.5 M233.7,755.2 L348.4,762.5 M225.2,819.0 L349.5,865.5 M219.2,852.0 L355.2,801.9 M218.5,777.9 L352.3,756.5 M232.0,800.2 L353.8,763.7 M218.7,779.3 L356.1,818.1 M229.3,795.1 L350.3,816.3 M227.1,863.0 L356.7,805.1 M222.9,760.9 L358.5,730.1 M230.7,765.7 L345.4,769.0 M218.3,787.2 L358.9,779.1 M220.2,784.6 L355.6,751.7 M225.3,834.7 L346.1,821.6 M218.4,817.6 L351.3,745.7 M231.3,842.6 L354.0,826.9 M221.8,802.7 L358.6,814.5 M346.3,795.6 L464.0,798.4 M344.8,772.3 L467.1,671.1 M354.1,789.2 L472.1,708.0 M351.1,765.6 L470.7,793.7 M354.1,899.2 L473.1,905.1 M354.5,782.5 L465.4,823.1 M356.9,760.1 L468.4,812.6 M359.3,798.8 L461.3,784.3 M355.0,853.2 L469.6,807.9 M347.2,842.7 L471.1,829.2 M351.6,785.8 L468.3,721.4 M346.9,775.7 L469.5,774.4 M344.2,738.5 L461.4,754.5 M351.6,811.4 L472.4,741.6 M355.4,808.2 L473.7,769.4 M346.9,792.5 L473.6,744.5 M348.4,762.5 L466.6,731.5 M349.5,865.5 L470.7,817.3 M355.2,801.9 L463.1,850.4 M352.3,756.5 L472.6,738.2 M353.8,763.7 L471.7,691.2 M356.1,818.1 L463.6,803.2 M350.3,816.3 L459.3,820.1 M356.7,805.1 L465.1,838.3 M358.5,730.1 L466.8,779.4 M345.4,769.0 L470.3,749.5 M358.9,779.1 L465.8,647.6 M355.6,751.7 L458.5,764.4 M346.1,821.6 L470.9,865.6 M351.3,745.7 L459.0,883.8 M354.0,826.9 L470.8,759.5 M358.6,814.5 L460.8,789.0 M464.0,798.4 L581.4,896.4 M467.1,671.1 L588.6,759.4 M472.1,708.0 L578.2,808.9 M470.7,793.7 L578.4,679.0 M473.1,905.1 L584.3,766.6 M465.4,823.1 L587.6,755.8 M468.4,812.6 L589.4,947.2 M461.3,784.3 L587.0,832.7 M469.6,807.9 L591.1,638.2 M471.1,829.2 L583.9,876.1 M468.3,721.4 L591.2,751.0 M469.5,774.4 L577.4,858.8 M461.4,754.5 L579.5,777.4 M472.4,741.6 L584.4,713.7 M473.7,769.4 L580.6,727.0 M473.6,744.5 L587.7,815.3 M466.6,731.5 L586.2,781.0 M470.7,817.3 L584.4,753.7 M463.1,850.4 L589.5,763.0 M472.6,738.2 L585.0,844.3 M471.7,691.2 L581.0,792.8 M463.6,803.2 L582.1,788.8 M459.3,820.1 L589.5,818.2 M465.1,838.3 L590.4,796.8 M466.8,779.4 L579.3,737.7 M470.3,749.5 L589.6,745.7 M465.8,647.6 L591.5,697.7 M458.5,764.4 L584.4,773.8 M470.9,865.6 L585.2,812.9 M459.0,883.8 L579.2,784.8 M470.8,759.5 L584.6,804.9 M460.8,789.0 L584.1,824.0" fill="none" stroke="#bdbdbd" stroke-width="1.6" stroke-opacity="0.72"/>
<circle cx="91.0" cy="826.2" r="6.4" fill="#fdd6da" stroke="#303030" stroke-width="2.1" fill-opacity="0.5" stroke-opacity="0.6"/>
<circle cx="97.4" cy="793.9" r="6.4" fill="#fdd6da" stroke="#303030" stroke-width="2.1" fill-opacity="0.5" stroke-opacity="0.6"/>
<circle cx="85.3" cy="801.6" r="6.4" fill="#fdd6da" stroke="#303030" stroke-width="2.1" fill-opacity="0.5" stroke-opacity="0.6"/>
<circle cx="96.0" cy="845.2" r="6.4" fill="#fdd6da" stroke="#303030" stroke-width="2.1" fill-opacity="0.5" stroke-opacity="0.6"/>
<circle cx="84.5" cy="771.3" r="6.4" fill="#fdd6da" stroke="#303030" stroke-width="2.1" fill-opacity="0.5" stroke-opacity="0.6"/>
<circle cx="93.6" cy="796.6" r="6.4" fill="#fdd6da" stroke="#303030" stroke-width="2.1" fill-opacity="0.5" stroke-opacity="0.6"/>
<circle cx="91.7" cy="778.4" r="6.4" fill="#fdd6da" stroke="#303030" stroke-width="2.1" fill-opacity="0.5" stroke-opacity="0.6"/>
<circle cx="87.7" cy="808.2" r="6.4" fill="#fdd6da" stroke="#303030" stroke-width="2.1" fill-opacity="0.5" stroke-opacity="0.6"/>
<circle cx="95.2" cy="821.2" r="6.4" fill="#fdd6da" stroke="#303030" stroke-width="2.1" fill-opacity="0.5" stroke-opacity="0.6"/>
<circle cx="92.0" cy="799.1" r="6.4" fill="#fdd6da" stroke="#303030" stroke-width="2.1" fill-opacity="0.5" stroke-opacity="0.6"/>
<circle cx="93.8" cy="792.5" r="6.4" fill="#fdd6da" stroke="#303030" stroke-width="2.1" fill-opacity="0.5" stroke-opacity="0.6"/>
<circle cx="98.7" cy="789.8" r="6.4" fill="#fdd6da" stroke="#303030" stroke-width="2.1" fill-opacity="0.5" stroke-opacity="0.6"/>
<circle cx="88.1" cy="782.9" r="6.4" fill="#fdd6da" stroke="#303030" stroke-width="2.1" fill-opacity="0.5" stroke-opacity="0.6"/>
<circle cx="84.2" cy="804.0" r="6.4" fill="#fdd6da" stroke="#303030" stroke-width="2.1" fill-opacity="0.5" stroke-opacity="0.6"/>
<circle cx="88.8" cy="791.1" r="6.4" fill="#fdd6da" stroke="#303030" stroke-width="2.1" fill-opacity="0.5" stroke-opacity="0.6"/>
<circle cx="94.9" cy="816.8" r="6.4" fill="#fdd6da" stroke="#303030" stroke-width="2.1" fill-opacity="0.5" stroke-opacity="0.6"/>
<circle cx="87.2" cy="766.8" r="6.4" fill="#fdd6da" stroke="#303030" stroke-width="2.1" fill-opacity="0.5" stroke-opacity="0.6"/>
<circle cx="86.7" cy="810.3" r="6.4" fill="#fdd6da" stroke="#303030" stroke-width="2.1" fill-opacity="0.5" stroke-opacity="0.6"/>
<circle cx="98.5" cy="795.3" r="6.4" fill="#fdd6da" stroke="#303030" stroke-width="2.1" fill-opacity="0.5" stroke-opacity="0.6"/>
<circle cx="94.6" cy="813.2" r="6.4" fill="#fdd6da" stroke="#303030" stroke-width="2.1" fill-opacity="0.5" stroke-opacity="0.6"/>
<circle cx="91.1" cy="784.2" r="6.4" fill="#fdd6da" stroke="#303030" stroke-width="2.1" fill-opacity="0.5" stroke-opacity="0.6"/>
<circle cx="98.3" cy="806.0" r="6.4" fill="#fdd6da" stroke="#303030" stroke-width="2.1" fill-opacity="0.5" stroke-opacity="0.6"/>
<circle cx="89.2" cy="787.0" r="6.4" fill="#fdd6da" stroke="#303030" stroke-width="2.1" fill-opacity="0.5" stroke-opacity="0.6"/>
<circle cx="94.7" cy="800.3" r="6.4" fill="#fdd6da" stroke="#303030" stroke-width="2.1" fill-opacity="0.5" stroke-opacity="0.6"/>
<circle cx="87.2" cy="775.2" r="6.4" fill="#fdd6da" stroke="#303030" stroke-width="2.1" fill-opacity="0.5" stroke-opacity="0.6"/>
<circle cx="90.9" cy="781.0" r="6.4" fill="#fdd6da" stroke="#303030" stroke-width="2.1" fill-opacity="0.5" stroke-opacity="0.6"/>
<circle cx="96.9" cy="785.6" r="6.4" fill="#fdd6da" stroke="#303030" stroke-width="2.1" fill-opacity="0.5" stroke-opacity="0.6"/>
<circle cx="98.6" cy="806.7" r="6.4" fill="#fdd6da" stroke="#303030" stroke-width="2.1" fill-opacity="0.5" stroke-opacity="0.6"/>
<circle cx="98.1" cy="802.8" r="6.4" fill="#fdd6da" stroke="#303030" stroke-width="2.1" fill-opacity="0.5" stroke-opacity="0.6"/>
<circle cx="90.2" cy="784.8" r="6.4" fill="#fdd6da" stroke="#303030" stroke-width="2.1" fill-opacity="0.5" stroke-opacity="0.6"/>
<circle cx="93.3" cy="788.4" r="6.4" fill="#fdd6da" stroke="#303030" stroke-width="2.1" fill-opacity="0.5" stroke-opacity="0.6"/>
<circle cx="89.1" cy="805.3" r="6.4" fill="#fdd6da" stroke="#303030" stroke-width="2.1" fill-opacity="0.5" stroke-opacity="0.6"/>
<circle cx="220.2" cy="815.1" r="6.4" fill="#f8a3a3" stroke="#303030" stroke-width="2.1" fill-opacity="0.5" stroke-opacity="0.6"/>
<circle cx="225.9" cy="792.4" r="6.4" fill="#f8a3a3" stroke="#303030" stroke-width="2.1" fill-opacity="0.5" stroke-opacity="0.6"/>
<circle cx="231.4" cy="781.9" r="6.4" fill="#f8a3a3" stroke="#303030" stroke-width="2.1" fill-opacity="0.5" stroke-opacity="0.6"/>
<circle cx="231.6" cy="810.1" r="6.4" fill="#f8a3a3" stroke="#303030" stroke-width="2.1" fill-opacity="0.5" stroke-opacity="0.6"/>
<circle cx="229.4" cy="820.6" r="6.4" fill="#f8a3a3" stroke="#303030" stroke-width="2.1" fill-opacity="0.5" stroke-opacity="0.6"/>
<circle cx="233.2" cy="823.7" r="6.4" fill="#f8a3a3" stroke="#303030" stroke-width="2.1" fill-opacity="0.5" stroke-opacity="0.6"/>
<circle cx="222.4" cy="828.4" r="6.4" fill="#f8a3a3" stroke="#303030" stroke-width="2.1" fill-opacity="0.5" stroke-opacity="0.6"/>
<circle cx="220.7" cy="805.2" r="6.4" fill="#f8a3a3" stroke="#303030" stroke-width="2.1" fill-opacity="0.5" stroke-opacity="0.6"/>
<circle cx="225.2" cy="812.6" r="6.4" fill="#f8a3a3" stroke="#303030" stroke-width="2.1" fill-opacity="0.5" stroke-opacity="0.6"/>
<circle cx="222.4" cy="695.2" r="6.4" fill="#f8a3a3" stroke="#303030" stroke-width="2.1" fill-opacity="0.5" stroke-opacity="0.6"/>
<circle cx="221.4" cy="773.0" r="6.4" fill="#f8a3a3" stroke="#303030" stroke-width="2.1" fill-opacity="0.5" stroke-opacity="0.6"/>
<circle cx="224.6" cy="775.5" r="6.4" fill="#f8a3a3" stroke="#303030" stroke-width="2.1" fill-opacity="0.5" stroke-opacity="0.6"/>
<circle cx="228.0" cy="769.8" r="6.4" fill="#f8a3a3" stroke="#303030" stroke-width="2.1" fill-opacity="0.5" stroke-opacity="0.6"/>
<circle cx="225.9" cy="777.1" r="6.4" fill="#f8a3a3" stroke="#303030" stroke-width="2.1" fill-opacity="0.5" stroke-opacity="0.6"/>
<circle cx="223.0" cy="807.7" r="6.4" fill="#f8a3a3" stroke="#303030" stroke-width="2.1" fill-opacity="0.5" stroke-opacity="0.6"/>
<circle cx="231.4" cy="797.7" r="6.4" fill="#f8a3a3" stroke="#303030" stroke-width="2.1" fill-opacity="0.5" stroke-opacity="0.6"/>
<circle cx="233.7" cy="755.2" r="6.4" fill="#f8a3a3" stroke="#303030" stroke-width="2.1" fill-opacity="0.5" stroke-opacity="0.6"/>
<circle cx="225.2" cy="819.0" r="6.4" fill="#f8a3a3" stroke="#303030" stroke-width="2.1" fill-opacity="0.5" stroke-opacity="0.6"/>
<circle cx="219.2" cy="852.0" r="6.4" fill="#f8a3a3" stroke="#303030" stroke-width="2.1" fill-opacity="0.5" stroke-opacity="0.6"/>
<circle cx="218.5" cy="777.9" r="6.4" fill="#f8a3a3" stroke="#303030" stroke-width="2.1" fill-opacity="0.5" stroke-opacity="0.6"/>
<circle cx="232.0" cy="800.2" r="6.4" fill="#f8a3a3" stroke="#303030" stroke-width="2.1" fill-opacity="0.5" stroke-opacity="0.6"/>
<circle cx="218.7" cy="779.3" r="6.4" fill="#f8a3a3" stroke="#303030" stroke-width="2.1" fill-opacity="0.5" stroke-opacity="0.6"/>
<circle cx="229.3" cy="795.1" r="6.4" fill="#f8a3a3" stroke="#303030" stroke-width="2.1" fill-opacity="0.5" stroke-opacity="0.6"/>
<circle cx="227.1" cy="863.0" r="6.4" fill="#f8a3a3" stroke="#303030" stroke-width="2.1" fill-opacity="0.5" stroke-opacity="0.6"/>
<circle cx="222.9" cy="760.9" r="6.4" fill="#f8a3a3" stroke="#303030" stroke-width="2.1" fill-opacity="0.5" stroke-opacity="0.6"/>
<circle cx="230.7" cy="765.7" r="6.4" fill="#f8a3a3" stroke="#303030" stroke-width="2.1" fill-opacity="0.5" stroke-opacity="0.6"/>
<circle cx="218.3" cy="787.2" r="6.4" fill="#f8a3a3" stroke="#303030" stroke-width="2.1" fill-opacity="0.5" stroke-opacity="0.6"/>
<circle cx="220.2" cy="784.6" r="6.4" fill="#f8a3a3" stroke="#303030" stroke-width="2.1" fill-opacity="0.5" stroke-opacity="0.6"/>
<circle cx="225.3" cy="834.7" r="6.4" fill="#f8a3a3" stroke="#303030" stroke-width="2.1" fill-opacity="0.5" stroke-opacity="0.6"/>
<circle cx="218.4" cy="817.6" r="6.4" fill="#f8a3a3" stroke="#303030" stroke-width="2.1" fill-opacity="0.5" stroke-opacity="0.6"/>
<circle cx="231.3" cy="842.6" r="6.4" fill="#f8a3a3" stroke="#303030" stroke-width="2.1" fill-opacity="0.5" stroke-opacity="0.6"/>
<circle cx="221.8" cy="802.7" r="6.4" fill="#f8a3a3" stroke="#303030" stroke-width="2.1" fill-opacity="0.5" stroke-opacity="0.6"/>
<circle cx="346.3" cy="795.6" r="6.4" fill="#f46b6b" stroke="#303030" stroke-width="2.1" fill-opacity="0.5" stroke-opacity="0.6"/>
<circle cx="344.8" cy="772.3" r="6.4" fill="#f46b6b" stroke="#303030" stroke-width="2.1" fill-opacity="0.5" stroke-opacity="0.6"/>
<circle cx="354.1" cy="789.2" r="6.4" fill="#f46b6b" stroke="#303030" stroke-width="2.1" fill-opacity="0.5" stroke-opacity="0.6"/>
<circle cx="351.1" cy="765.6" r="6.4" fill="#f46b6b" stroke="#303030" stroke-width="2.1" fill-opacity="0.5" stroke-opacity="0.6"/>
<circle cx="354.1" cy="899.2" r="6.4" fill="#f46b6b" stroke="#303030" stroke-width="2.1" fill-opacity="0.5" stroke-opacity="0.6"/>
<circle cx="354.5" cy="782.5" r="6.4" fill="#f46b6b" stroke="#303030" stroke-width="2.1" fill-opacity="0.5" stroke-opacity="0.6"/>
<circle cx="356.9" cy="760.1" r="6.4" fill="#f46b6b" stroke="#303030" stroke-width="2.1" fill-opacity="0.5" stroke-opacity="0.6"/>
<circle cx="359.3" cy="798.8" r="6.4" fill="#f46b6b" stroke="#303030" stroke-width="2.1" fill-opacity="0.5" stroke-opacity="0.6"/>
<circle cx="355.0" cy="853.2" r="6.4" fill="#f46b6b" stroke="#303030" stroke-width="2.1" fill-opacity="0.5" stroke-opacity="0.6"/>
<circle cx="347.2" cy="842.7" r="6.4" fill="#f46b6b" stroke="#303030" stroke-width="2.1" fill-opacity="0.5" stroke-opacity="0.6"/>
<circle cx="351.6" cy="785.8" r="6.4" fill="#f46b6b" stroke="#303030" stroke-width="2.1" fill-opacity="0.5" stroke-opacity="0.6"/>
<circle cx="346.9" cy="775.7" r="6.4" fill="#f46b6b" stroke="#303030" stroke-width="2.1" fill-opacity="0.5" stroke-opacity="0.6"/>
<circle cx="344.2" cy="738.5" r="6.4" fill="#f46b6b" stroke="#303030" stroke-width="2.1" fill-opacity="0.5" stroke-opacity="0.6"/>
<circle cx="351.6" cy="811.4" r="6.4" fill="#f46b6b" stroke="#303030" stroke-width="2.1" fill-opacity="0.5" stroke-opacity="0.6"/>
<circle cx="355.4" cy="808.2" r="6.4" fill="#f46b6b" stroke="#303030" stroke-width="2.1" fill-opacity="0.5" stroke-opacity="0.6"/>
<circle cx="346.9" cy="792.5" r="6.4" fill="#f46b6b" stroke="#303030" stroke-width="2.1" fill-opacity="0.5" stroke-opacity="0.6"/>
<circle cx="348.4" cy="762.5" r="6.4" fill="#f46b6b" stroke="#303030" stroke-width="2.1" fill-opacity="0.5" stroke-opacity="0.6"/>
<circle cx="349.5" cy="865.5" r="6.4" fill="#f46b6b" stroke="#303030" stroke-width="2.1" fill-opacity="0.5" stroke-opacity="0.6"/>
<circle cx="355.2" cy="801.9" r="6.4" fill="#f46b6b" stroke="#303030" stroke-width="2.1" fill-opacity="0.5" stroke-opacity="0.6"/>
<circle cx="352.3" cy="756.5" r="6.4" fill="#f46b6b" stroke="#303030" stroke-width="2.1" fill-opacity="0.5" stroke-opacity="0.6"/>
<circle cx="353.8" cy="763.7" r="6.4" fill="#f46b6b" stroke="#303030" stroke-width="2.1" fill-opacity="0.5" stroke-opacity="0.6"/>
<circle cx="356.1" cy="818.1" r="6.4" fill="#f46b6b" stroke="#303030" stroke-width="2.1" fill-opacity="0.5" stroke-opacity="0.6"/>
<circle cx="350.3" cy="816.3" r="6.4" fill="#f46b6b" stroke="#303030" stroke-width="2.1" fill-opacity="0.5" stroke-opacity="0.6"/>
<circle cx="356.7" cy="805.1" r="6.4" fill="#f46b6b" stroke="#303030" stroke-width="2.1" fill-opacity="0.5" stroke-opacity="0.6"/>
<circle cx="358.5" cy="730.1" r="6.4" fill="#f46b6b" stroke="#303030" stroke-width="2.1" fill-opacity="0.5" stroke-opacity="0.6"/>
<circle cx="345.4" cy="769.0" r="6.4" fill="#f46b6b" stroke="#303030" stroke-width="2.1" fill-opacity="0.5" stroke-opacity="0.6"/>
<circle cx="358.9" cy="779.1" r="6.4" fill="#f46b6b" stroke="#303030" stroke-width="2.1" fill-opacity="0.5" stroke-opacity="0.6"/>
<circle cx="355.6" cy="751.7" r="6.4" fill="#f46b6b" stroke="#303030" stroke-width="2.1" fill-opacity="0.5" stroke-opacity="0.6"/>
<circle cx="346.1" cy="821.6" r="6.4" fill="#f46b6b" stroke="#303030" stroke-width="2.1" fill-opacity="0.5" stroke-opacity="0.6"/>
<circle cx="351.3" cy="745.7" r="6.4" fill="#f46b6b" stroke="#303030" stroke-width="2.1" fill-opacity="0.5" stroke-opacity="0.6"/>
<circle cx="354.0" cy="826.9" r="6.4" fill="#f46b6b" stroke="#303030" stroke-width="2.1" fill-opacity="0.5" stroke-opacity="0.6"/>
<circle cx="358.6" cy="814.5" r="6.4" fill="#f46b6b" stroke="#303030" stroke-width="2.1" fill-opacity="0.5" stroke-opacity="0.6"/>
<circle cx="464.0" cy="798.4" r="6.4" fill="#f23e3e" stroke="#303030" stroke-width="2.1" fill-opacity="0.5" stroke-opacity="0.6"/>
<circle cx="467.1" cy="671.1" r="6.4" fill="#f23e3e" stroke="#303030" stroke-width="2.1" fill-opacity="0.5" stroke-opacity="0.6"/>
<circle cx="472.1" cy="708.0" r="6.4" fill="#f23e3e" stroke="#303030" stroke-width="2.1" fill-opacity="0.5" stroke-opacity="0.6"/>
<circle cx="470.7" cy="793.7" r="6.4" fill="#f23e3e" stroke="#303030" stroke-width="2.1" fill-opacity="0.5" stroke-opacity="0.6"/>
<circle cx="473.1" cy="905.1" r="6.4" fill="#f23e3e" stroke="#303030" stroke-width="2.1" fill-opacity="0.5" stroke-opacity="0.6"/>
<circle cx="465.4" cy="823.1" r="6.4" fill="#f23e3e" stroke="#303030" stroke-width="2.1" fill-opacity="0.5" stroke-opacity="0.6"/>
<circle cx="468.4" cy="812.6" r="6.4" fill="#f23e3e" stroke="#303030" stroke-width="2.1" fill-opacity="0.5" stroke-opacity="0.6"/>
<circle cx="461.3" cy="784.3" r="6.4" fill="#f23e3e" stroke="#303030" stroke-width="2.1" fill-opacity="0.5" stroke-opacity="0.6"/>
<circle cx="469.6" cy="807.9" r="6.4" fill="#f23e3e" stroke="#303030" stroke-width="2.1" fill-opacity="0.5" stroke-opacity="0.6"/>
<circle cx="471.1" cy="829.2" r="6.4" fill="#f23e3e" stroke="#303030" stroke-width="2.1" fill-opacity="0.5" stroke-opacity="0.6"/>
<circle cx="468.3" cy="721.4" r="6.4" fill="#f23e3e" stroke="#303030" stroke-width="2.1" fill-opacity="0.5" stroke-opacity="0.6"/>
<circle cx="469.5" cy="774.4" r="6.4" fill="#f23e3e" stroke="#303030" stroke-width="2.1" fill-opacity="0.5" stroke-opacity="0.6"/>
<circle cx="461.4" cy="754.5" r="6.4" fill="#f23e3e" stroke="#303030" stroke-width="2.1" fill-opacity="0.5" stroke-opacity="0.6"/>
<circle cx="472.4" cy="741.6" r="6.4" fill="#f23e3e" stroke="#303030" stroke-width="2.1" fill-opacity="0.5" stroke-opacity="0.6"/>
<circle cx="473.7" cy="769.4" r="6.4" fill="#f23e3e" stroke="#303030" stroke-width="2.1" fill-opacity="0.5" stroke-opacity="0.6"/>
<circle cx="473.6" cy="744.5" r="6.4" fill="#f23e3e" stroke="#303030" stroke-width="2.1" fill-opacity="0.5" stroke-opacity="0.6"/>
<circle cx="466.6" cy="731.5" r="6.4" fill="#f23e3e" stroke="#303030" stroke-width="2.1" fill-opacity="0.5" stroke-opacity="0.6"/>
<circle cx="470.7" cy="817.3" r="6.4" fill="#f23e3e" stroke="#303030" stroke-width="2.1" fill-opacity="0.5" stroke-opacity="0.6"/>
<circle cx="463.1" cy="850.4" r="6.4" fill="#f23e3e" stroke="#303030" stroke-width="2.1" fill-opacity="0.5" stroke-opacity="0.6"/>
<circle cx="472.6" cy="738.2" r="6.4" fill="#f23e3e" stroke="#303030" stroke-width="2.1" fill-opacity="0.5" stroke-opacity="0.6"/>
<circle cx="471.7" cy="691.2" r="6.4" fill="#f23e3e" stroke="#303030" stroke-width="2.1" fill-opacity="0.5" stroke-opacity="0.6"/>
<circle cx="463.6" cy="803.2" r="6.4" fill="#f23e3e" stroke="#303030" stroke-width="2.1" fill-opacity="0.5" stroke-opacity="0.6"/>
<circle cx="459.3" cy="820.1" r="6.4" fill="#f23e3e" stroke="#303030" stroke-width="2.1" fill-opacity="0.5" stroke-opacity="0.6"/>
<circle cx="465.1" cy="838.3" r="6.4" fill="#f23e3e" stroke="#303030" stroke-width="2.1" fill-opacity="0.5" stroke-opacity="0.6"/>
<circle cx="466.8" cy="779.4" r="6.4" fill="#f23e3e" stroke="#303030" stroke-width="2.1" fill-opacity="0.5" stroke-opacity="0.6"/>
<circle cx="470.3" cy="749.5" r="6.4" fill="#f23e3e" stroke="#303030" stroke-width="2.1" fill-opacity="0.5" stroke-opacity="0.6"/>
<circle cx="465.8" cy="647.6" r="6.4" fill="#f23e3e" stroke="#303030" stroke-width="2.1" fill-opacity="0.5" stroke-opacity="0.6"/>
<circle cx="458.5" cy="764.4" r="6.4" fill="#f23e3e" stroke="#303030" stroke-width="2.1" fill-opacity="0.5" stroke-opacity="0.6"/>
<circle cx="470.9" cy="865.6" r="6.4" fill="#f23e3e" stroke="#303030" stroke-width="2.1" fill-opacity="0.5" stroke-opacity="0.6"/>
<circle cx="459.0" cy="883.8" r="6.4" fill="#f23e3e" stroke="#303030" stroke-width="2.1" fill-opacity="0.5" stroke-opacity="0.6"/>
<circle cx="470.8" cy="759.5" r="6.4" fill="#f23e3e" stroke="#303030" stroke-width="2.1" fill-opacity="0.5" stroke-opacity="0.6"/>
<circle cx="460.8" cy="789.0" r="6.4" fill="#f23e3e" stroke="#303030" stroke-width="2.1" fill-opacity="0.5" stroke-opacity="0.6"/>
<circle cx="581.4" cy="896.4" r="6.4" fill="#fa1c12" stroke="#303030" stroke-width="2.1" fill-opacity="0.5" stroke-opacity="0.6"/>
<circle cx="588.6" cy="759.4" r="6.4" fill="#fa1c12" stroke="#303030" stroke-width="2.1" fill-opacity="0.5" stroke-opacity="0.6"/>
<circle cx="578.2" cy="808.9" r="6.4" fill="#fa1c12" stroke="#303030" stroke-width="2.1" fill-opacity="0.5" stroke-opacity="0.6"/>
<circle cx="578.4" cy="679.0" r="6.4" fill="#fa1c12" stroke="#303030" stroke-width="2.1" fill-opacity="0.5" stroke-opacity="0.6"/>
<circle cx="584.3" cy="766.6" r="6.4" fill="#fa1c12" stroke="#303030" stroke-width="2.1" fill-opacity="0.5" stroke-opacity="0.6"/>
<circle cx="587.6" cy="755.8" r="6.4" fill="#fa1c12" stroke="#303030" stroke-width="2.1" fill-opacity="0.5" stroke-opacity="0.6"/>
<circle cx="589.4" cy="947.2" r="6.4" fill="#fa1c12" stroke="#303030" stroke-width="2.1" fill-opacity="0.5" stroke-opacity="0.6"/>
<circle cx="587.0" cy="832.7" r="6.4" fill="#fa1c12" stroke="#303030" stroke-width="2.1" fill-opacity="0.5" stroke-opacity="0.6"/>
<circle cx="591.1" cy="638.2" r="6.4" fill="#fa1c12" stroke="#303030" stroke-width="2.1" fill-opacity="0.5" stroke-opacity="0.6"/>
<circle cx="583.9" cy="876.1" r="6.4" fill="#fa1c12" stroke="#303030" stroke-width="2.1" fill-opacity="0.5" stroke-opacity="0.6"/>
<circle cx="591.2" cy="751.0" r="6.4" fill="#fa1c12" stroke="#303030" stroke-width="2.1" fill-opacity="0.5" stroke-opacity="0.6"/>
<circle cx="577.4" cy="858.8" r="6.4" fill="#fa1c12" stroke="#303030" stroke-width="2.1" fill-opacity="0.5" stroke-opacity="0.6"/>
<circle cx="579.5" cy="777.4" r="6.4" fill="#fa1c12" stroke="#303030" stroke-width="2.1" fill-opacity="0.5" stroke-opacity="0.6"/>
<circle cx="584.4" cy="713.7" r="6.4" fill="#fa1c12" stroke="#303030" stroke-width="2.1" fill-opacity="0.5" stroke-opacity="0.6"/>
<circle cx="580.6" cy="727.0" r="6.4" fill="#fa1c12" stroke="#303030" stroke-width="2.1" fill-opacity="0.5" stroke-opacity="0.6"/>
<circle cx="587.7" cy="815.3" r="6.4" fill="#fa1c12" stroke="#303030" stroke-width="2.1" fill-opacity="0.5" stroke-opacity="0.6"/>
<circle cx="586.2" cy="781.0" r="6.4" fill="#fa1c12" stroke="#303030" stroke-width="2.1" fill-opacity="0.5" stroke-opacity="0.6"/>
<circle cx="584.4" cy="753.7" r="6.4" fill="#fa1c12" stroke="#303030" stroke-width="2.1" fill-opacity="0.5" stroke-opacity="0.6"/>
<circle cx="589.5" cy="763.0" r="6.4" fill="#fa1c12" stroke="#303030" stroke-width="2.1" fill-opacity="0.5" stroke-opacity="0.6"/>
<circle cx="585.0" cy="844.3" r="6.4" fill="#fa1c12" stroke="#303030" stroke-width="2.1" fill-opacity="0.5" stroke-opacity="0.6"/>
<circle cx="581.0" cy="792.8" r="6.4" fill="#fa1c12" stroke="#303030" stroke-width="2.1" fill-opacity="0.5" stroke-opacity="0.6"/>
<circle cx="582.1" cy="788.8" r="6.4" fill="#fa1c12" stroke="#303030" stroke-width="2.1" fill-opacity="0.5" stroke-opacity="0.6"/>
<circle cx="589.5" cy="818.2" r="6.4" fill="#fa1c12" stroke="#303030" stroke-width="2.1" fill-opacity="0.5" stroke-opacity="0.6"/>
<circle cx="590.4" cy="796.8" r="6.4" fill="#fa1c12" stroke="#303030" stroke-width="2.1" fill-opacity="0.5" stroke-opacity="0.6"/>
<circle cx="579.3" cy="737.7" r="6.4" fill="#fa1c12" stroke="#303030" stroke-width="2.1" fill-opacity="0.5" stroke-opacity="0.6"/>
<circle cx="589.6" cy="745.7" r="6.4" fill="#fa1c12" stroke="#303030" stroke-width="2.1" fill-opacity="0.5" stroke-opacity="0.6"/>
<circle cx="591.5" cy="697.7" r="6.4" fill="#fa1c12" stroke="#303030" stroke-width="2.1" fill-opacity="0.5" stroke-opacity="0.6"/>
<circle cx="584.4" cy="773.8" r="6.4" fill="#fa1c12" stroke="#303030" stroke-width="2.1" fill-opacity="0.5" stroke-opacity="0.6"/>
<circle cx="585.2" cy="812.9" r="6.4" fill="#fa1c12" stroke="#303030" stroke-width="2.1" fill-opacity="0.5" stroke-opacity="0.6"/>
<circle cx="579.2" cy="784.8" r="6.4" fill="#fa1c12" stroke="#303030" stroke-width="2.1" fill-opacity="0.5" stroke-opacity="0.6"/>
<circle cx="584.6" cy="804.9" r="6.4" fill="#fa1c12" stroke="#303030" stroke-width="2.1" fill-opacity="0.5" stroke-opacity="0.6"/>
<circle cx="584.1" cy="824.0" r="6.4" fill="#fa1c12" stroke="#303030" stroke-width="2.1" fill-opacity="0.5" stroke-opacity="0.6"/>
<line x1="130.0" y1="765.1" x2="130.0" y2="784.9" stroke="#000" stroke-width="3.2" />
<line x1="130.0" y1="805.9" x2="130.0" y2="828.1" stroke="#000" stroke-width="3.2" />
<line x1="124.0" y1="765.1" x2="136.0" y2="765.1" stroke="#000" stroke-width="3.2" />
<line x1="124.0" y1="828.1" x2="136.0" y2="828.1" stroke="#000" stroke-width="3.2" />
<rect x="118.0" y="784.9" width="24.0" height="21.0" fill="#fdd6da" stroke="#000" stroke-width="3.2" />
<line x1="118.0" y1="796.0" x2="142.0" y2="796.0" stroke="#000" stroke-width="5.5" />
<line x1="268.0" y1="753.1" x2="268.0" y2="778.0" stroke="#000" stroke-width="3.2" />
<line x1="268.0" y1="818.8" x2="268.0" y2="867.1" stroke="#000" stroke-width="3.2" />
<line x1="262.0" y1="753.1" x2="274.0" y2="753.1" stroke="#000" stroke-width="3.2" />
<line x1="262.0" y1="867.1" x2="274.0" y2="867.1" stroke="#000" stroke-width="3.2" />
<rect x="256.0" y="778.0" width="24.0" height="40.8" fill="#f8a3a3" stroke="#000" stroke-width="3.2" />
<line x1="256.0" y1="799.0" x2="280.0" y2="799.0" stroke="#000" stroke-width="5.5" />
<line x1="394.5" y1="727.0" x2="394.5" y2="763.9" stroke="#000" stroke-width="3.2" />
<line x1="394.5" y1="816.1" x2="394.5" y2="870.1" stroke="#000" stroke-width="3.2" />
<line x1="388.5" y1="727.0" x2="400.5" y2="727.0" stroke="#000" stroke-width="3.2" />
<line x1="388.5" y1="870.1" x2="400.5" y2="870.1" stroke="#000" stroke-width="3.2" />
<rect x="382.5" y="763.9" width="24.0" height="52.2" fill="#f46b6b" stroke="#000" stroke-width="3.2" />
<line x1="382.5" y1="790.9" x2="406.5" y2="790.9" stroke="#000" stroke-width="5.5" />
<line x1="507.0" y1="638.8" x2="507.0" y2="742.0" stroke="#000" stroke-width="3.2" />
<line x1="507.0" y1="819.7" x2="507.0" y2="913.0" stroke="#000" stroke-width="3.2" />
<line x1="501.0" y1="638.8" x2="513.0" y2="638.8" stroke="#000" stroke-width="3.2" />
<line x1="501.0" y1="913.0" x2="513.0" y2="913.0" stroke="#000" stroke-width="3.2" />
<rect x="495.0" y="742.0" width="24.0" height="77.7" fill="#f23e3e" stroke="#000" stroke-width="3.2" />
<line x1="495.0" y1="781.9" x2="519.0" y2="781.9" stroke="#000" stroke-width="5.5" />
<line x1="619.5" y1="672.1" x2="619.5" y2="754.0" stroke="#000" stroke-width="3.2" />
<line x1="619.5" y1="814.9" x2="619.5" y2="904.0" stroke="#000" stroke-width="3.2" />
<line x1="613.5" y1="672.1" x2="625.5" y2="672.1" stroke="#000" stroke-width="3.2" />
<line x1="613.5" y1="904.0" x2="625.5" y2="904.0" stroke="#000" stroke-width="3.2" />
<rect x="607.5" y="754.0" width="24.0" height="60.9" fill="#fa1c12" stroke="#000" stroke-width="3.2" />
<line x1="607.5" y1="782.8" x2="631.5" y2="782.8" stroke="#000" stroke-width="5.5" />
<text x="109.0" y="732.0" font-size="21" text-anchor="middle" >n.s.</text>
<text x="252.0" y="677.0" font-size="21" text-anchor="middle" >n.s.</text>
<text x="380.0" y="696.0" font-size="26" text-anchor="middle" >*</text>
<text x="486.0" y="622.0" font-size="26" text-anchor="middle" >*</text>
<text x="603.0" y="610.0" font-size="21" text-anchor="middle" font-style="italic" >n.s.</text>
<text x="550.0" y="822.0" font-size="15.5" fill="#c25b56" textLength="92.0" lengthAdjust="spacingAndGlyphs" >No sensitivity</text>
<path d="M652.0,590.0 L652.0,590.0 L652.0,593.0 L652.0,596.1 L652.0,599.1 L652.0,602.2 L652.0,605.2 L652.0,608.2 L652.0,611.3 L652.0,614.3 L652.0,617.4 L652.0,620.4 L652.0,623.5 L652.0,626.5 L652.0,629.5 L652.0,632.6 L652.0,635.6 L652.0,638.7 L652.0,641.7 L652.0,644.8 L652.0,647.8 L652.0,650.8 L652.0,653.9 L652.0,656.9 L652.0,660.0 L652.0,663.0 L652.0,666.0 L652.0,669.1 L652.0,672.1 L652.0,675.2 L652.0,678.2 L652.0,681.2 L652.0,684.3 L652.0,687.3 L652.0,690.4 L652.0,693.4 L652.0,696.5 L652.0,699.5 L652.0,702.5 L652.0,705.6 L652.0,708.6 L652.0,711.7 L652.0,714.7 L652.0,717.8 L652.0,720.8 L652.0,723.8 L652.0,726.9 L652.0,729.9 L652.0,733.0 L652.1,736.0 L652.2,739.0 L652.3,742.1 L652.6,745.1 L653.1,748.2 L653.9,751.2 L655.3,754.2 L657.4,757.3 L660.5,760.3 L664.9,763.4 L670.8,766.4 L678.6,769.5 L688.2,772.5 L699.6,775.5 L712.3,778.6 L725.7,781.6 L738.9,784.7 L750.8,787.7 L760.4,790.8 L766.7,793.8 L769.0,796.8 L766.2,799.9 L757.5,802.9 L744.3,806.0 L728.4,809.0 L711.9,812.0 L696.5,815.1 L683.2,818.1 L672.8,821.2 L665.1,824.2 L659.8,827.2 L656.4,830.3 L654.4,833.3 L653.2,836.4 L652.6,839.4 L652.3,842.5 L652.1,845.5 L652.0,848.5 L652.0,851.6 L652.0,854.6 L652.0,857.7 L652.0,860.7 L652.0,863.8 L652.0,866.8 L652.0,869.8 L652.0,872.9 L652.0,875.9 L652.0,879.0 L652.0,882.0 L652.0,885.0 L652.0,888.1 L652.0,891.1 L652.0,894.2 L652.0,897.2 L652.0,900.2 L652.0,903.3 L652.0,906.3 L652.0,909.4 L652.0,912.4 L652.0,915.5 L652.0,918.5 L652.0,921.5 L652.0,924.6 L652.0,927.6 L652.0,930.7 L652.0,933.7 L652.0,936.8 L652.0,939.8 L652.0,942.8 L652.0,945.9 L652.0,948.9 L652.0,952.0 L652.0,955.0 L652.0,955.0 Z" fill="#fdd6da" stroke="#000" stroke-width="2.4" fill-opacity="0.55" stroke-linejoin="round"/>
<path d="M652.0,590.0 L652.0,590.0 L652.0,593.0 L652.0,596.1 L652.0,599.1 L652.0,602.2 L652.0,605.2 L652.0,608.2 L652.0,611.3 L652.0,614.3 L652.0,617.4 L652.0,620.4 L652.0,623.5 L652.0,626.5 L652.0,629.5 L652.0,632.6 L652.0,635.6 L652.0,638.7 L652.0,641.7 L652.0,644.8 L652.0,647.8 L652.0,650.8 L652.0,653.9 L652.0,656.9 L652.0,660.0 L652.0,663.0 L652.0,666.0 L652.1,669.1 L652.1,672.1 L652.1,675.2 L652.1,678.2 L652.2,681.2 L652.3,684.3 L652.3,687.3 L652.4,690.4 L652.6,693.4 L652.7,696.5 L653.0,699.5 L653.2,702.5 L653.6,705.6 L654.0,708.6 L654.4,711.7 L655.0,714.7 L655.7,717.8 L656.5,720.8 L657.5,723.8 L658.6,726.9 L659.9,729.9 L661.4,733.0 L663.0,736.0 L664.8,739.0 L666.8,742.1 L669.1,745.1 L671.4,748.2 L674.0,751.2 L676.7,754.2 L679.5,757.3 L682.5,760.3 L685.5,763.4 L688.5,766.4 L691.4,769.5 L694.3,772.5 L697.1,775.5 L699.7,778.6 L702.0,781.6 L704.1,784.7 L705.9,787.7 L707.2,790.8 L708.2,793.8 L708.8,796.8 L709.0,799.9 L708.6,802.9 L707.7,806.0 L706.2,809.0 L704.2,812.0 L701.8,815.1 L699.0,818.1 L695.9,821.2 L692.6,824.2 L689.2,827.2 L685.7,830.3 L682.2,833.3 L678.8,836.4 L675.5,839.4 L672.4,842.5 L669.6,845.5 L667.0,848.5 L664.6,851.6 L662.5,854.6 L660.7,857.7 L659.1,860.7 L657.8,863.8 L656.6,866.8 L655.7,869.8 L654.9,872.9 L654.2,875.9 L653.7,879.0 L653.3,882.0 L653.0,885.0 L652.7,888.1 L652.5,891.1 L652.4,894.2 L652.3,897.2 L652.2,900.2 L652.1,903.3 L652.1,906.3 L652.1,909.4 L652.0,912.4 L652.0,915.5 L652.0,918.5 L652.0,921.5 L652.0,924.6 L652.0,927.6 L652.0,930.7 L652.0,933.7 L652.0,936.8 L652.0,939.8 L652.0,942.8 L652.0,945.9 L652.0,948.9 L652.0,952.0 L652.0,955.0 L652.0,955.0 Z" fill="#f8a3a3" stroke="#000" stroke-width="2.4" fill-opacity="0.55" stroke-linejoin="round"/>
<path d="M652.0,590.0 L652.0,590.0 L652.0,593.0 L652.0,596.1 L652.0,599.1 L652.0,602.2 L652.0,605.2 L652.0,608.2 L652.0,611.3 L652.0,614.3 L652.0,617.4 L652.0,620.4 L652.0,623.5 L652.0,626.5 L652.0,629.5 L652.0,632.6 L652.0,635.6 L652.1,638.7 L652.1,641.7 L652.1,644.8 L652.1,647.8 L652.2,650.8 L652.2,653.9 L652.3,656.9 L652.3,660.0 L652.4,663.0 L652.5,666.0 L652.7,669.1 L652.8,672.1 L653.0,675.2 L653.3,678.2 L653.5,681.2 L653.9,684.3 L654.3,687.3 L654.7,690.4 L655.3,693.4 L655.9,696.5 L656.6,699.5 L657.4,702.5 L658.4,705.6 L659.4,708.6 L660.6,711.7 L661.9,714.7 L663.3,717.8 L664.8,720.8 L666.5,723.8 L668.3,726.9 L670.2,729.9 L672.2,733.0 L674.3,736.0 L676.5,739.0 L678.8,742.1 L681.1,745.1 L683.4,748.2 L685.7,751.2 L687.9,754.2 L690.1,757.3 L692.2,760.3 L694.1,763.4 L695.9,766.4 L697.5,769.5 L698.9,772.5 L700.1,775.5 L701.0,778.6 L701.6,781.6 L701.9,784.7 L702.0,787.7 L701.8,790.8 L701.2,793.8 L700.5,796.8 L699.4,799.9 L698.1,802.9 L696.6,806.0 L694.9,809.0 L693.0,812.0 L690.9,815.1 L688.8,818.1 L686.6,821.2 L684.3,824.2 L682.0,827.2 L679.7,830.3 L677.4,833.3 L675.2,836.4 L673.0,839.4 L671.0,842.5 L669.0,845.5 L667.2,848.5 L665.5,851.6 L663.9,854.6 L662.4,857.7 L661.1,860.7 L659.9,863.8 L658.8,866.8 L657.8,869.8 L656.9,872.9 L656.2,875.9 L655.5,879.0 L654.9,882.0 L654.4,885.0 L654.0,888.1 L653.7,891.1 L653.4,894.2 L653.1,897.2 L652.9,900.2 L652.7,903.3 L652.6,906.3 L652.5,909.4 L652.4,912.4 L652.3,915.5 L652.2,918.5 L652.2,921.5 L652.1,924.6 L652.1,927.6 L652.1,930.7 L652.1,933.7 L652.0,936.8 L652.0,939.8 L652.0,942.8 L652.0,945.9 L652.0,948.9 L652.0,952.0 L652.0,955.0 L652.0,955.0 Z" fill="#f46b6b" stroke="#000" stroke-width="2.4" fill-opacity="0.55" stroke-linejoin="round"/>
<path d="M652.0,590.0 L652.2,590.0 L652.2,593.0 L652.3,596.1 L652.3,599.1 L652.4,602.2 L652.4,605.2 L652.5,608.2 L652.6,611.3 L652.7,614.3 L652.8,617.4 L652.9,620.4 L653.0,623.5 L653.2,626.5 L653.4,629.5 L653.5,632.6 L653.8,635.6 L654.0,638.7 L654.2,641.7 L654.5,644.8 L654.8,647.8 L655.2,650.8 L655.5,653.9 L655.9,656.9 L656.3,660.0 L656.8,663.0 L657.3,666.0 L657.8,669.1 L658.4,672.1 L659.0,675.2 L659.7,678.2 L660.4,681.2 L661.1,684.3 L661.9,687.3 L662.7,690.4 L663.5,693.4 L664.4,696.5 L665.3,699.5 L666.2,702.5 L667.2,705.6 L668.2,708.6 L669.2,711.7 L670.2,714.7 L671.3,717.8 L672.3,720.8 L673.4,723.8 L674.4,726.9 L675.4,729.9 L676.4,733.0 L677.4,736.0 L678.4,739.0 L679.3,742.1 L680.2,745.1 L681.1,748.2 L681.9,751.2 L682.6,754.2 L683.3,757.3 L683.9,760.3 L684.5,763.4 L684.9,766.4 L685.3,769.5 L685.6,772.5 L685.8,775.5 L686.0,778.6 L686.0,781.6 L686.0,784.7 L685.8,787.7 L685.6,790.8 L685.3,793.8 L684.9,796.8 L684.5,799.9 L683.9,802.9 L683.3,806.0 L682.7,809.0 L681.9,812.0 L681.1,815.1 L680.3,818.1 L679.4,821.2 L678.5,824.2 L677.5,827.2 L676.5,830.3 L675.5,833.3 L674.4,836.4 L673.4,839.4 L672.4,842.5 L671.3,845.5 L670.3,848.5 L669.3,851.6 L668.2,854.6 L667.3,857.7 L666.3,860.7 L665.3,863.8 L664.4,866.8 L663.6,869.8 L662.7,872.9 L661.9,875.9 L661.1,879.0 L660.4,882.0 L659.7,885.0 L659.1,888.1 L658.4,891.1 L657.9,894.2 L657.3,897.2 L656.8,900.2 L656.4,903.3 L655.9,906.3 L655.5,909.4 L655.2,912.4 L654.8,915.5 L654.5,918.5 L654.2,921.5 L654.0,924.6 L653.8,927.6 L653.6,930.7 L653.4,933.7 L653.2,936.8 L653.1,939.8 L652.9,942.8 L652.8,945.9 L652.7,948.9 L652.6,952.0 L652.5,955.0 L652.0,955.0 Z" fill="#f23e3e" stroke="#000" stroke-width="2.4" fill-opacity="0.55" stroke-linejoin="round"/>
<path d="M652.0,590.0 L652.1,590.0 L652.1,593.0 L652.1,596.1 L652.1,599.1 L652.1,602.2 L652.1,605.2 L652.2,608.2 L652.2,611.3 L652.2,614.3 L652.3,617.4 L652.3,620.4 L652.4,623.5 L652.5,626.5 L652.6,629.5 L652.6,632.6 L652.8,635.6 L652.9,638.7 L653.0,641.7 L653.2,644.8 L653.4,647.8 L653.6,650.8 L653.8,653.9 L654.1,656.9 L654.4,660.0 L654.7,663.0 L655.0,666.0 L655.4,669.1 L655.9,672.1 L656.3,675.2 L656.9,678.2 L657.4,681.2 L658.0,684.3 L658.7,687.3 L659.4,690.4 L660.2,693.4 L661.0,696.5 L661.8,699.5 L662.8,702.5 L663.7,705.6 L664.7,708.6 L665.8,711.7 L666.9,714.7 L668.0,717.8 L669.1,720.8 L670.3,723.8 L671.6,726.9 L672.8,729.9 L674.0,733.0 L675.3,736.0 L676.5,739.0 L677.7,742.1 L678.9,745.1 L680.1,748.2 L681.2,751.2 L682.3,754.2 L683.3,757.3 L684.3,760.3 L685.2,763.4 L686.0,766.4 L686.7,769.5 L687.4,772.5 L687.9,775.5 L688.3,778.6 L688.7,781.6 L688.9,784.7 L689.0,787.7 L689.0,790.8 L688.9,793.8 L688.6,796.8 L688.3,799.9 L687.8,802.9 L687.3,806.0 L686.6,809.0 L685.9,812.0 L685.1,815.1 L684.2,818.1 L683.2,821.2 L682.1,824.2 L681.1,827.2 L679.9,830.3 L678.7,833.3 L677.5,836.4 L676.3,839.4 L675.1,842.5 L673.8,845.5 L672.6,848.5 L671.4,851.6 L670.2,854.6 L669.0,857.7 L667.8,860.7 L666.7,863.8 L665.6,866.8 L664.6,869.8 L663.6,872.9 L662.6,875.9 L661.7,879.0 L660.9,882.0 L660.1,885.0 L659.3,888.1 L658.6,891.1 L657.9,894.2 L657.3,897.2 L656.8,900.2 L656.3,903.3 L655.8,906.3 L655.4,909.4 L655.0,912.4 L654.6,915.5 L654.3,918.5 L654.0,921.5 L653.8,924.6 L653.5,927.6 L653.3,930.7 L653.2,933.7 L653.0,936.8 L652.9,939.8 L652.7,942.8 L652.6,945.9 L652.5,948.9 L652.5,952.0 L652.4,955.0 L652.0,955.0 Z" fill="#fa1c12" stroke="#000" stroke-width="2.4" fill-opacity="0.55" stroke-linejoin="round"/>
<rect x="64.0" y="577.0" width="588.0" height="395.0" fill="none" stroke="#000" stroke-width="2.6" />
<line x1="56.0" y1="623.2" x2="64.0" y2="623.2" stroke="#000" stroke-width="2.4" />
<line x1="56.0" y1="683.2" x2="64.0" y2="683.2" stroke="#000" stroke-width="2.4" />
<text x="54.0" y="691.7" font-size="23.5" text-anchor="end" >4</text>
<line x1="56.0" y1="743.2" x2="64.0" y2="743.2" stroke="#000" stroke-width="2.4" />
<line x1="56.0" y1="803.2" x2="64.0" y2="803.2" stroke="#000" stroke-width="2.4" />
<text x="54.0" y="811.7" font-size="23.5" text-anchor="end" >0</text>
<line x1="56.0" y1="863.2" x2="64.0" y2="863.2" stroke="#000" stroke-width="2.4" />
<line x1="56.0" y1="923.2" x2="64.0" y2="923.2" stroke="#000" stroke-width="2.4" />
<text x="54.0" y="931.7" font-size="23.5" text-anchor="end" >-4</text>
<line x1="102.6" y1="972.0" x2="102.6" y2="980.0" stroke="#000" stroke-width="2.4" />
<text x="102.6" y="1002.0" font-size="23.5" text-anchor="middle" >18</text>
<line x1="249.0" y1="972.0" x2="249.0" y2="980.0" stroke="#000" stroke-width="2.4" />
<text x="249.0" y="1002.0" font-size="23.5" text-anchor="middle" >31</text>
<line x1="380.0" y1="972.0" x2="380.0" y2="980.0" stroke="#000" stroke-width="2.4" />
<text x="380.0" y="1002.0" font-size="23.5" text-anchor="middle" >52</text>
<line x1="495.0" y1="972.0" x2="495.0" y2="980.0" stroke="#000" stroke-width="2.4" />
<text x="495.0" y="1002.0" font-size="23.5" text-anchor="middle" >88</text>
<line x1="600.0" y1="972.0" x2="600.0" y2="980.0" stroke="#000" stroke-width="2.4" />
<text x="600.0" y="1002.0" font-size="23.5" text-anchor="middle" >150</text>
<text x="350.0" y="1032.0" font-size="26" text-anchor="middle" textLength="490.0" lengthAdjust="spacingAndGlyphs" >Degree of visuotactile asynchrony (ms)</text>
<text x="27.0" y="787.0" font-size="26" text-anchor="middle" textLength="438.0" lengthAdjust="spacingAndGlyphs" transform="rotate(-90 27.0 787.0)" >Percep. awareness sensitivity (meta-d’)</text>
<text x="794.5" y="28.8" font-size="32" >B</text>
<line x1="975.3" y1="22.6" x2="1004" y2="22.6" stroke="#000" stroke-width="4.6" stroke-dasharray="8.2,10.6" stroke-linecap="round"/>
<text x="1013.0" y="31.0" font-size="22.3" >Prior</text>
<line x1="1100.0" y1="22.6" x2="1131.0" y2="22.6" stroke="#000" stroke-width="4.6" />
<text x="1140.0" y="31.0" font-size="22.3" >Posterior</text>
<path d="M849.8,433.7 L891.6,433.7 L891.6,416.9 L892.9,414.4 L894.2,411.6 L895.5,408.4 L896.8,404.9 L898.1,401.1 L899.4,396.8 L900.7,392.2 L902.0,387.1 L903.3,381.5 L904.6,375.5 L906.0,369.1 L907.3,362.1 L908.6,354.7 L909.9,346.8 L911.2,338.4 L912.5,329.6 L913.8,320.4 L915.1,310.7 L916.4,300.7 L917.7,290.3 L919.0,279.7 L920.3,268.8 L921.6,257.7 L922.9,246.6 L924.2,235.3 L925.5,224.2 L926.8,213.1 L928.1,202.3 L929.4,191.7 L930.8,181.5 L932.1,171.8 L933.4,162.6 L934.7,154.1 L936.0,146.2 L937.3,139.1 L938.6,132.9 L939.9,127.6 L941.2,123.2 L942.5,119.8 L943.8,117.5 L945.1,116.2 L946.4,116.0 L947.7,117.2 L949.0,119.9 L950.3,124.0 L951.6,129.6 L952.9,136.4 L954.2,144.5 L955.5,153.7 L956.9,163.9 L958.2,175.0 L959.5,186.8 L960.8,199.1 L962.1,211.9 L963.4,225.0 L964.7,238.3 L966.0,251.6 L967.3,264.8 L968.6,277.7 L969.9,290.4 L971.2,302.7 L972.5,314.4 L973.8,325.7 L975.1,336.3 L976.4,346.3 L977.7,355.7 L979.0,364.3 L980.3,372.4 L981.6,379.7 L983.0,386.4 L984.3,392.4 L985.6,397.9 L986.9,402.8 L988.2,407.1 L989.5,411.0 L990.8,414.3 L992.1,417.3 L993.4,419.9 L994.7,422.1 L996.0,424.0 L997.3,425.6 L998.6,427.0 L999.9,428.2 L1001.2,429.2 L1002.5,430.0 L1003.8,430.7 L1005.1,431.3 L1006.4,431.8 L1007.7,432.1 L1009.1,432.5 L1010.4,432.7 L1011.7,432.9 L1013.0,433.1 L1014.3,433.2 L1015.6,433.3 L1016.9,433.4 L1018.2,433.5 L1019.5,433.5 L1020.8,433.6 L1022.1,433.6 L1023.4,433.6 L1024.7,433.6 L1026.0,433.7 L1027.3,433.7 L1028.6,433.7 L1029.9,433.7 L1031.2,433.7 L1032.5,433.7 L1033.8,433.7 L1035.2,433.7 L1036.5,433.7 L1037.8,433.7 L1039.1,433.7 L1040.4,433.7 L1041.7,433.7 L1043.0,433.7 L1044.3,433.7 L1045.6,433.7 L1046.9,433.7 L1048.2,433.7 L1049.5,433.7 L1050.8,433.7 L1052.1,433.7 L1053.4,433.7 L1054.7,433.7 L1056.0,433.7 L1057.3,433.7 L1058.6,433.7 L1059.9,433.7 L1061.2,433.7 L1062.6,433.7 L1063.9,433.7 L1065.2,433.7 L1066.5,433.7 L1067.8,433.7 L1069.1,433.7 L1070.4,433.7 L1071.7,433.7 L1073.0,433.7 L1074.3,433.7 L1075.6,433.7 L1076.9,433.7 L1078.2,433.7 L1079.5,433.7 L1080.8,433.7 L1082.1,433.7 L1083.4,433.7 L1084.7,433.7 L1086.0,433.7 L1087.3,433.7 L1088.7,433.7 L1090.0,433.7 L1091.3,433.7 L1092.6,433.7 L1093.9,433.7 L1095.2,433.7 L1096.5,433.7 L1097.8,433.7 L1099.1,433.7 L1100.4,433.7 L1101.7,433.7 L1103.0,433.7 L1104.3,433.7 L1105.6,433.7 L1106.9,433.7 L1108.2,433.7 L1109.5,433.7 L1110.8,433.7 L1112.1,433.7 L1113.5,433.7 L1114.8,433.7 L1116.1,433.7 L1117.4,433.7 L1118.7,433.7 L1120.0,433.7 L1121.3,433.7 L1122.6,433.7 L1123.9,433.7 L1125.2,433.7 L1126.5,433.7 L1127.8,433.7 L1129.1,433.7 L1130.4,433.7 L1131.7,433.7 L1133.0,433.7 L1134.3,433.7 L1135.6,433.7 L1136.9,433.7 L1138.2,433.7 L1139.5,433.7 L1140.9,433.7 L1142.2,433.7 L1143.5,433.7 L1144.8,433.7 L1146.1,433.7 L1147.4,433.7 L1148.7,433.7 L1150.0,433.7 L1151.3,433.7 L1152.6,433.7 L1153.9,433.7 L1155.2,433.7 L1156.5,433.7 L1157.8,433.7 L1159.1,433.7 L1160.4,433.7 L1161.7,433.7 L1163.0,433.7 L1164.3,433.7 L1165.7,433.7 L1167.0,433.7 L1168.3,433.7 L1169.6,433.7 L1170.9,433.7 L1172.2,433.7 L1173.5,433.7 L1174.8,433.7 L1176.1,433.7 L1177.4,433.7 L1178.7,433.7 L1180.0,433.7 L1181.3,433.7 L1182.6,433.7 L1183.9,433.7 L1185.2,433.7 L1186.5,433.7 L1187.8,433.7 L1189.1,433.7 L1190.4,433.7 L1191.8,433.7 L1193.1,433.7 L1194.4,433.7 L1195.7,433.7 L1197.0,433.7 L1198.3,433.7 L1199.6,433.7 L1200.9,433.7 L1202.2,433.7 L1203.5,433.7 L1204.8,433.7 L1206.1,433.7 L1207.4,433.7 L1208.7,433.7 L1210.0,433.7 L1211.3,433.7 L1212.6,433.7 L1213.9,433.7 L1215.2,433.7 L1216.5,433.7 L1217.8,433.7 L1219.2,433.7 L1220.5,433.7 L1221.8,433.7 L1223.1,433.7 L1224.4,433.7 L1225.7,433.7 L1227.0,433.7 L1228.3,433.7 L1229.6,433.7 L1230.9,433.7 L1232.2,433.7 L1233.5,433.7 L1234.8,433.7 L1236.1,433.7 L1237.4,433.7 L1238.7,433.7 L1240.0,433.7 L1241.3,433.7 L1242.6,433.7 L1244.0,433.7 L1245.3,433.7 L1246.6,433.7 L1247.9,433.7 L1249.2,433.7 L1250.5,433.7 L1251.8,433.7 L1253.1,433.7 L1254.4,433.7 L1255.7,433.7 L1257.0,433.7 L1258.3,433.7 L1259.6,433.7 L1260.9,433.7 L1262.2,433.7 L1263.5,433.7 L1264.8,433.7 L1266.1,433.7 L1267.4,433.7 L1268.7,433.7 L1270.0,433.7 L1271.4,433.7 L1272.7,433.7 L1274.0,433.7 L1275.3,433.7 L1276.6,433.7 L1277.9,433.7 L1279.2,433.7 L1280.5,433.7 L1281.8,433.7 L1283.1,433.7" fill="none" stroke="#cfe2ef" stroke-width="4" stroke-linejoin="round"/>
<path d="M849.8,433.7 L891.6,433.7 L891.6,433.7 L892.9,433.7 L894.2,433.7 L895.5,433.7 L896.8,433.7 L898.1,433.7 L899.4,433.7 L900.7,433.7 L902.0,433.7 L903.3,433.7 L904.6,433.7 L906.0,433.7 L907.3,433.7 L908.6,433.7 L909.9,433.7 L911.2,433.7 L912.5,433.7 L913.8,433.7 L915.1,433.7 L916.4,433.6 L917.7,433.6 L919.0,433.6 L920.3,433.6 L921.6,433.6 L922.9,433.5 L924.2,433.5 L925.5,433.4 L926.8,433.4 L928.1,433.3 L929.4,433.2 L930.8,433.1 L932.1,433.0 L933.4,432.8 L934.7,432.6 L936.0,432.4 L937.3,432.1 L938.6,431.8 L939.9,431.4 L941.2,431.0 L942.5,430.4 L943.8,429.8 L945.1,429.1 L946.4,428.3 L947.7,427.4 L949.0,426.3 L950.3,425.1 L951.6,423.7 L952.9,422.1 L954.2,420.3 L955.5,418.2 L956.9,416.0 L958.2,413.4 L959.5,410.6 L960.8,407.5 L962.1,404.1 L963.4,400.3 L964.7,396.2 L966.0,391.7 L967.3,386.8 L968.6,381.5 L969.9,375.8 L971.2,369.8 L972.5,363.3 L973.8,356.4 L975.1,349.2 L976.4,341.6 L977.7,333.7 L979.0,325.4 L980.3,316.8 L981.6,308.0 L983.0,299.0 L984.3,289.8 L985.6,280.5 L986.9,271.2 L988.2,261.9 L989.5,252.6 L990.8,243.5 L992.1,234.7 L993.4,226.1 L994.7,217.8 L996.0,210.0 L997.3,202.7 L998.6,196.0 L999.9,189.9 L1001.2,184.5 L1002.5,179.8 L1003.8,175.9 L1005.1,172.8 L1006.4,170.6 L1007.7,169.3 L1009.1,168.8 L1010.4,169.3 L1011.7,170.6 L1013.0,172.8 L1014.3,175.9 L1015.6,179.8 L1016.9,184.5 L1018.2,189.9 L1019.5,196.0 L1020.8,202.7 L1022.1,210.0 L1023.4,217.8 L1024.7,226.1 L1026.0,234.7 L1027.3,243.5 L1028.6,252.6 L1029.9,261.9 L1031.2,271.2 L1032.5,280.5 L1033.8,289.8 L1035.2,299.0 L1036.5,308.0 L1037.8,316.8 L1039.1,325.4 L1040.4,333.7 L1041.7,341.6 L1043.0,349.2 L1044.3,356.4 L1045.6,363.3 L1046.9,369.8 L1048.2,375.8 L1049.5,381.5 L1050.8,386.8 L1052.1,391.7 L1053.4,396.2 L1054.7,400.3 L1056.0,404.1 L1057.3,407.5 L1058.6,410.6 L1059.9,413.4 L1061.2,416.0 L1062.6,418.2 L1063.9,420.3 L1065.2,422.1 L1066.5,423.7 L1067.8,425.1 L1069.1,426.3 L1070.4,427.4 L1071.7,428.3 L1073.0,429.1 L1074.3,429.8 L1075.6,430.4 L1076.9,431.0 L1078.2,431.4 L1079.5,431.8 L1080.8,432.1 L1082.1,432.4 L1083.4,432.6 L1084.7,432.8 L1086.0,433.0 L1087.3,433.1 L1088.7,433.2 L1090.0,433.3 L1091.3,433.4 L1092.6,433.4 L1093.9,433.5 L1095.2,433.5 L1096.5,433.6 L1097.8,433.6 L1099.1,433.6 L1100.4,433.6 L1101.7,433.6 L1103.0,433.7 L1104.3,433.7 L1105.6,433.7 L1106.9,433.7 L1108.2,433.7 L1109.5,433.7 L1110.8,433.7 L1112.1,433.7 L1113.5,433.7 L1114.8,433.7 L1116.1,433.7 L1117.4,433.7 L1118.7,433.7 L1120.0,433.7 L1121.3,433.7 L1122.6,433.7 L1123.9,433.7 L1125.2,433.7 L1126.5,433.7 L1127.8,433.7 L1129.1,433.7 L1130.4,433.7 L1131.7,433.7 L1133.0,433.7 L1134.3,433.7 L1135.6,433.7 L1136.9,433.7 L1138.2,433.7 L1139.5,433.7 L1140.9,433.7 L1142.2,433.7 L1143.5,433.7 L1144.8,433.7 L1146.1,433.7 L1147.4,433.7 L1148.7,433.7 L1150.0,433.7 L1151.3,433.7 L1152.6,433.7 L1153.9,433.7 L1155.2,433.7 L1156.5,433.7 L1157.8,433.7 L1159.1,433.7 L1160.4,433.7 L1161.7,433.7 L1163.0,433.7 L1164.3,433.7 L1165.7,433.7 L1167.0,433.7 L1168.3,433.7 L1169.6,433.7 L1170.9,433.7 L1172.2,433.7 L1173.5,433.7 L1174.8,433.7 L1176.1,433.7 L1177.4,433.7 L1178.7,433.7 L1180.0,433.7 L1181.3,433.7 L1182.6,433.7 L1183.9,433.7 L1185.2,433.7 L1186.5,433.7 L1187.8,433.7 L1189.1,433.7 L1190.4,433.7 L1191.8,433.7 L1193.1,433.7 L1194.4,433.7 L1195.7,433.7 L1197.0,433.7 L1198.3,433.7 L1199.6,433.7 L1200.9,433.7 L1202.2,433.7 L1203.5,433.7 L1204.8,433.7 L1206.1,433.7 L1207.4,433.7 L1208.7,433.7 L1210.0,433.7 L1211.3,433.7 L1212.6,433.7 L1213.9,433.7 L1215.2,433.7 L1216.5,433.7 L1217.8,433.7 L1219.2,433.7 L1220.5,433.7 L1221.8,433.7 L1223.1,433.7 L1224.4,433.7 L1225.7,433.7 L1227.0,433.7 L1228.3,433.7 L1229.6,433.7 L1230.9,433.7 L1232.2,433.7 L1233.5,433.7 L1234.8,433.7 L1236.1,433.7 L1237.4,433.7 L1238.7,433.7 L1240.0,433.7 L1241.3,433.7 L1242.6,433.7 L1244.0,433.7 L1245.3,433.7 L1246.6,433.7 L1247.9,433.7 L1249.2,433.7 L1250.5,433.7 L1251.8,433.7 L1253.1,433.7 L1254.4,433.7 L1255.7,433.7 L1257.0,433.7 L1258.3,433.7 L1259.6,433.7 L1260.9,433.7 L1262.2,433.7 L1263.5,433.7 L1264.8,433.7 L1266.1,433.7 L1267.4,433.7 L1268.7,433.7 L1270.0,433.7 L1271.4,433.7 L1272.7,433.7 L1274.0,433.7 L1275.3,433.7 L1276.6,433.7 L1277.9,433.7 L1279.2,433.7 L1280.5,433.7 L1281.8,433.7 L1283.1,433.7" fill="none" stroke="#93c2df" stroke-width="4" stroke-linejoin="round"/>
<path d="M849.8,433.7 L891.6,433.7 L891.6,433.7 L892.9,433.7 L894.2,433.7 L895.5,433.7 L896.8,433.7 L898.1,433.7 L899.4,433.7 L900.7,433.7 L902.0,433.7 L903.3,433.7 L904.6,433.7 L906.0,433.7 L907.3,433.7 L908.6,433.7 L909.9,433.7 L911.2,433.7 L912.5,433.7 L913.8,433.7 L915.1,433.7 L916.4,433.7 L917.7,433.7 L919.0,433.7 L920.3,433.7 L921.6,433.7 L922.9,433.7 L924.2,433.7 L925.5,433.7 L926.8,433.7 L928.1,433.7 L929.4,433.7 L930.8,433.7 L932.1,433.7 L933.4,433.7 L934.7,433.7 L936.0,433.7 L937.3,433.6 L938.6,433.6 L939.9,433.6 L941.2,433.6 L942.5,433.6 L943.8,433.5 L945.1,433.5 L946.4,433.4 L947.7,433.3 L949.0,433.3 L950.3,433.2 L951.6,433.0 L952.9,432.9 L954.2,432.7 L955.5,432.5 L956.9,432.3 L958.2,432.0 L959.5,431.7 L960.8,431.3 L962.1,430.8 L963.4,430.2 L964.7,429.6 L966.0,428.9 L967.3,428.0 L968.6,427.0 L969.9,425.9 L971.2,424.7 L972.5,423.2 L973.8,421.6 L975.1,419.7 L976.4,417.6 L977.7,415.3 L979.0,412.7 L980.3,409.9 L981.6,406.7 L983.0,403.2 L984.3,399.4 L985.6,395.3 L986.9,390.7 L988.2,385.8 L989.5,380.6 L990.8,374.9 L992.1,368.9 L993.4,362.5 L994.7,355.7 L996.0,348.6 L997.3,341.1 L998.6,333.3 L999.9,325.2 L1001.2,316.9 L1002.5,308.3 L1003.8,299.6 L1005.1,290.8 L1006.4,281.9 L1007.7,272.9 L1009.1,264.1 L1010.4,255.3 L1011.7,246.7 L1013.0,238.4 L1014.3,230.4 L1015.6,222.7 L1016.9,215.5 L1018.2,208.9 L1019.5,202.8 L1020.8,197.3 L1022.1,192.6 L1023.4,188.6 L1024.7,185.3 L1026.0,182.9 L1027.3,181.2 L1028.6,180.5 L1029.9,180.6 L1031.2,181.5 L1032.5,183.3 L1033.8,185.9 L1035.2,189.3 L1036.5,193.5 L1037.8,198.4 L1039.1,204.0 L1040.4,210.2 L1041.7,216.9 L1043.0,224.2 L1044.3,231.9 L1045.6,240.0 L1046.9,248.4 L1048.2,257.0 L1049.5,265.8 L1050.8,274.7 L1052.1,283.6 L1053.4,292.5 L1054.7,301.4 L1056.0,310.1 L1057.3,318.6 L1058.6,326.9 L1059.9,334.9 L1061.2,342.6 L1062.6,350.0 L1063.9,357.1 L1065.2,363.8 L1066.5,370.1 L1067.8,376.1 L1069.1,381.7 L1070.4,386.9 L1071.7,391.7 L1073.0,396.1 L1074.3,400.2 L1075.6,404.0 L1076.9,407.4 L1078.2,410.5 L1079.5,413.3 L1080.8,415.8 L1082.1,418.1 L1083.4,420.1 L1084.7,421.9 L1086.0,423.5 L1087.3,424.9 L1088.7,426.2 L1090.0,427.2 L1091.3,428.2 L1092.6,429.0 L1093.9,429.7 L1095.2,430.4 L1096.5,430.9 L1097.8,431.3 L1099.1,431.7 L1100.4,432.1 L1101.7,432.3 L1103.0,432.6 L1104.3,432.8 L1105.6,432.9 L1106.9,433.1 L1108.2,433.2 L1109.5,433.3 L1110.8,433.4 L1112.1,433.4 L1113.5,433.5 L1114.8,433.5 L1116.1,433.6 L1117.4,433.6 L1118.7,433.6 L1120.0,433.6 L1121.3,433.6 L1122.6,433.7 L1123.9,433.7 L1125.2,433.7 L1126.5,433.7 L1127.8,433.7 L1129.1,433.7 L1130.4,433.7 L1131.7,433.7 L1133.0,433.7 L1134.3,433.7 L1135.6,433.7 L1136.9,433.7 L1138.2,433.7 L1139.5,433.7 L1140.9,433.7 L1142.2,433.7 L1143.5,433.7 L1144.8,433.7 L1146.1,433.7 L1147.4,433.7 L1148.7,433.7 L1150.0,433.7 L1151.3,433.7 L1152.6,433.7 L1153.9,433.7 L1155.2,433.7 L1156.5,433.7 L1157.8,433.7 L1159.1,433.7 L1160.4,433.7 L1161.7,433.7 L1163.0,433.7 L1164.3,433.7 L1165.7,433.7 L1167.0,433.7 L1168.3,433.7 L1169.6,433.7 L1170.9,433.7 L1172.2,433.7 L1173.5,433.7 L1174.8,433.7 L1176.1,433.7 L1177.4,433.7 L1178.7,433.7 L1180.0,433.7 L1181.3,433.7 L1182.6,433.7 L1183.9,433.7 L1185.2,433.7 L1186.5,433.7 L1187.8,433.7 L1189.1,433.7 L1190.4,433.7 L1191.8,433.7 L1193.1,433.7 L1194.4,433.7 L1195.7,433.7 L1197.0,433.7 L1198.3,433.7 L1199.6,433.7 L1200.9,433.7 L1202.2,433.7 L1203.5,433.7 L1204.8,433.7 L1206.1,433.7 L1207.4,433.7 L1208.7,433.7 L1210.0,433.7 L1211.3,433.7 L1212.6,433.7 L1213.9,433.7 L1215.2,433.7 L1216.5,433.7 L1217.8,433.7 L1219.2,433.7 L1220.5,433.7 L1221.8,433.7 L1223.1,433.7 L1224.4,433.7 L1225.7,433.7 L1227.0,433.7 L1228.3,433.7 L1229.6,433.7 L1230.9,433.7 L1232.2,433.7 L1233.5,433.7 L1234.8,433.7 L1236.1,433.7 L1237.4,433.7 L1238.7,433.7 L1240.0,433.7 L1241.3,433.7 L1242.6,433.7 L1244.0,433.7 L1245.3,433.7 L1246.6,433.7 L1247.9,433.7 L1249.2,433.7 L1250.5,433.7 L1251.8,433.7 L1253.1,433.7 L1254.4,433.7 L1255.7,433.7 L1257.0,433.7 L1258.3,433.7 L1259.6,433.7 L1260.9,433.7 L1262.2,433.7 L1263.5,433.7 L1264.8,433.7 L1266.1,433.7 L1267.4,433.7 L1268.7,433.7 L1270.0,433.7 L1271.4,433.7 L1272.7,433.7 L1274.0,433.7 L1275.3,433.7 L1276.6,433.7 L1277.9,433.7 L1279.2,433.7 L1280.5,433.7 L1281.8,433.7 L1283.1,433.7" fill="none" stroke="#4594c8" stroke-width="4" stroke-linejoin="round"/>
<path d="M849.8,433.7 L891.6,433.7 L891.6,433.7 L892.9,433.7 L894.2,433.7 L895.5,433.7 L896.8,433.7 L898.1,433.7 L899.4,433.7 L900.7,433.7 L902.0,433.7 L903.3,433.7 L904.6,433.7 L906.0,433.7 L907.3,433.7 L908.6,433.7 L909.9,433.7 L911.2,433.7 L912.5,433.7 L913.8,433.7 L915.1,433.7 L916.4,433.7 L917.7,433.7 L919.0,433.7 L920.3,433.7 L921.6,433.7 L922.9,433.7 L924.2,433.7 L925.5,433.7 L926.8,433.7 L928.1,433.7 L929.4,433.7 L930.8,433.7 L932.1,433.7 L933.4,433.7 L934.7,433.7 L936.0,433.7 L937.3,433.7 L938.6,433.7 L939.9,433.7 L941.2,433.7 L942.5,433.7 L943.8,433.7 L945.1,433.7 L946.4,433.7 L947.7,433.7 L949.0,433.7 L950.3,433.7 L951.6,433.7 L952.9,433.7 L954.2,433.7 L955.5,433.7 L956.9,433.6 L958.2,433.6 L959.5,433.6 L960.8,433.6 L962.1,433.6 L963.4,433.5 L964.7,433.5 L966.0,433.5 L967.3,433.4 L968.6,433.3 L969.9,433.2 L971.2,433.2 L972.5,433.0 L973.8,432.9 L975.1,432.7 L976.4,432.5 L977.7,432.3 L979.0,432.0 L980.3,431.7 L981.6,431.4 L983.0,430.9 L984.3,430.4 L985.6,429.8 L986.9,429.2 L988.2,428.4 L989.5,427.6 L990.8,426.6 L992.1,425.5 L993.4,424.2 L994.7,422.8 L996.0,421.2 L997.3,419.4 L998.6,417.4 L999.9,415.1 L1001.2,412.7 L1002.5,410.0 L1003.8,407.0 L1005.1,403.8 L1006.4,400.2 L1007.7,396.4 L1009.1,392.2 L1010.4,387.8 L1011.7,383.0 L1013.0,377.8 L1014.3,372.4 L1015.6,366.6 L1016.9,360.6 L1018.2,354.2 L1019.5,347.5 L1020.8,340.6 L1022.1,333.4 L1023.4,326.0 L1024.7,318.4 L1026.0,310.7 L1027.3,302.8 L1028.6,294.9 L1029.9,287.0 L1031.2,279.1 L1032.5,271.3 L1033.8,263.6 L1035.2,256.1 L1036.5,248.9 L1037.8,242.0 L1039.1,235.4 L1040.4,229.2 L1041.7,223.5 L1043.0,218.3 L1044.3,213.7 L1045.6,209.7 L1046.9,206.3 L1048.2,203.6 L1049.5,201.6 L1050.8,200.3 L1052.1,199.7 L1053.4,199.9 L1054.7,200.7 L1056.0,202.3 L1057.3,204.6 L1058.6,207.6 L1059.9,211.2 L1061.2,215.5 L1062.6,220.4 L1063.9,225.7 L1065.2,231.6 L1066.5,238.0 L1067.8,244.7 L1069.1,251.7 L1070.4,259.1 L1071.7,266.7 L1073.0,274.4 L1074.3,282.3 L1075.6,290.2 L1076.9,298.1 L1078.2,306.0 L1079.5,313.8 L1080.8,321.5 L1082.1,329.0 L1083.4,336.3 L1084.7,343.4 L1086.0,350.2 L1087.3,356.8 L1088.7,363.0 L1090.0,369.0 L1091.3,374.6 L1092.6,379.9 L1093.9,384.9 L1095.2,389.6 L1096.5,393.9 L1097.8,398.0 L1099.1,401.7 L1100.4,405.1 L1101.7,408.2 L1103.0,411.1 L1104.3,413.7 L1105.6,416.1 L1106.9,418.2 L1108.2,420.1 L1109.5,421.8 L1110.8,423.3 L1112.1,424.7 L1113.5,425.9 L1114.8,427.0 L1116.1,427.9 L1117.4,428.7 L1118.7,429.5 L1120.0,430.1 L1121.3,430.6 L1122.6,431.1 L1123.9,431.5 L1125.2,431.9 L1126.5,432.1 L1127.8,432.4 L1129.1,432.6 L1130.4,432.8 L1131.7,433.0 L1133.0,433.1 L1134.3,433.2 L1135.6,433.3 L1136.9,433.4 L1138.2,433.4 L1139.5,433.5 L1140.9,433.5 L1142.2,433.6 L1143.5,433.6 L1144.8,433.6 L1146.1,433.6 L1147.4,433.6 L1148.7,433.7 L1150.0,433.7 L1151.3,433.7 L1152.6,433.7 L1153.9,433.7 L1155.2,433.7 L1156.5,433.7 L1157.8,433.7 L1159.1,433.7 L1160.4,433.7 L1161.7,433.7 L1163.0,433.7 L1164.3,433.7 L1165.7,433.7 L1167.0,433.7 L1168.3,433.7 L1169.6,433.7 L1170.9,433.7 L1172.2,433.7 L1173.5,433.7 L1174.8,433.7 L1176.1,433.7 L1177.4,433.7 L1178.7,433.7 L1180.0,433.7 L1181.3,433.7 L1182.6,433.7 L1183.9,433.7 L1185.2,433.7 L1186.5,433.7 L1187.8,433.7 L1189.1,433.7 L1190.4,433.7 L1191.8,433.7 L1193.1,433.7 L1194.4,433.7 L1195.7,433.7 L1197.0,433.7 L1198.3,433.7 L1199.6,433.7 L1200.9,433.7 L1202.2,433.7 L1203.5,433.7 L1204.8,433.7 L1206.1,433.7 L1207.4,433.7 L1208.7,433.7 L1210.0,433.7 L1211.3,433.7 L1212.6,433.7 L1213.9,433.7 L1215.2,433.7 L1216.5,433.7 L1217.8,433.7 L1219.2,433.7 L1220.5,433.7 L1221.8,433.7 L1223.1,433.7 L1224.4,433.7 L1225.7,433.7 L1227.0,433.7 L1228.3,433.7 L1229.6,433.7 L1230.9,433.7 L1232.2,433.7 L1233.5,433.7 L1234.8,433.7 L1236.1,433.7 L1237.4,433.7 L1238.7,433.7 L1240.0,433.7 L1241.3,433.7 L1242.6,433.7 L1244.0,433.7 L1245.3,433.7 L1246.6,433.7 L1247.9,433.7 L1249.2,433.7 L1250.5,433.7 L1251.8,433.7 L1253.1,433.7 L1254.4,433.7 L1255.7,433.7 L1257.0,433.7 L1258.3,433.7 L1259.6,433.7 L1260.9,433.7 L1262.2,433.7 L1263.5,433.7 L1264.8,433.7 L1266.1,433.7 L1267.4,433.7 L1268.7,433.7 L1270.0,433.7 L1271.4,433.7 L1272.7,433.7 L1274.0,433.7 L1275.3,433.7 L1276.6,433.7 L1277.9,433.7 L1279.2,433.7 L1280.5,433.7 L1281.8,433.7 L1283.1,433.7" fill="none" stroke="#2468b0" stroke-width="4" stroke-linejoin="round"/>
<path d="M849.8,433.7 L891.6,433.7 L891.6,433.7 L892.9,433.7 L894.2,433.7 L895.5,433.7 L896.8,433.7 L898.1,433.7 L899.4,433.7 L900.7,433.7 L902.0,433.7 L903.3,433.7 L904.6,433.7 L906.0,433.7 L907.3,433.7 L908.6,433.7 L909.9,433.7 L911.2,433.7 L912.5,433.7 L913.8,433.7 L915.1,433.7 L916.4,433.7 L917.7,433.7 L919.0,433.7 L920.3,433.7 L921.6,433.7 L922.9,433.7 L924.2,433.7 L925.5,433.7 L926.8,433.7 L928.1,433.7 L929.4,433.7 L930.8,433.7 L932.1,433.7 L933.4,433.7 L934.7,433.7 L936.0,433.7 L937.3,433.7 L938.6,433.7 L939.9,433.7 L941.2,433.7 L942.5,433.7 L943.8,433.7 L945.1,433.7 L946.4,433.7 L947.7,433.7 L949.0,433.7 L950.3,433.7 L951.6,433.7 L952.9,433.7 L954.2,433.7 L955.5,433.7 L956.9,433.7 L958.2,433.7 L959.5,433.7 L960.8,433.7 L962.1,433.7 L963.4,433.7 L964.7,433.7 L966.0,433.7 L967.3,433.7 L968.6,433.7 L969.9,433.7 L971.2,433.7 L972.5,433.7 L973.8,433.7 L975.1,433.7 L976.4,433.7 L977.7,433.6 L979.0,433.6 L980.3,433.6 L981.6,433.6 L983.0,433.6 L984.3,433.5 L985.6,433.5 L986.9,433.5 L988.2,433.4 L989.5,433.3 L990.8,433.3 L992.1,433.2 L993.4,433.1 L994.7,433.0 L996.0,432.8 L997.3,432.6 L998.6,432.5 L999.9,432.2 L1001.2,432.0 L1002.5,431.6 L1003.8,431.3 L1005.1,430.9 L1006.4,430.4 L1007.7,429.9 L1009.1,429.2 L1010.4,428.5 L1011.7,427.7 L1013.0,426.8 L1014.3,425.8 L1015.6,424.7 L1016.9,423.4 L1018.2,422.0 L1019.5,420.4 L1020.8,418.7 L1022.1,416.7 L1023.4,414.6 L1024.7,412.3 L1026.0,409.7 L1027.3,406.9 L1028.6,403.9 L1029.9,400.6 L1031.2,397.0 L1032.5,393.2 L1033.8,389.1 L1035.2,384.8 L1036.5,380.2 L1037.8,375.3 L1039.1,370.1 L1040.4,364.7 L1041.7,359.0 L1043.0,353.0 L1044.3,346.9 L1045.6,340.5 L1046.9,333.9 L1048.2,327.2 L1049.5,320.3 L1050.8,313.4 L1052.1,306.3 L1053.4,299.3 L1054.7,292.2 L1056.0,285.2 L1057.3,278.2 L1058.6,271.4 L1059.9,264.8 L1061.2,258.4 L1062.6,252.3 L1063.9,246.4 L1065.2,241.0 L1066.5,235.9 L1067.8,231.2 L1069.1,227.0 L1070.4,223.4 L1071.7,220.2 L1073.0,217.6 L1074.3,215.6 L1075.6,214.2 L1076.9,213.4 L1078.2,213.2 L1079.5,213.7 L1080.8,214.7 L1082.1,216.4 L1083.4,218.6 L1084.7,221.4 L1086.0,224.8 L1087.3,228.7 L1088.7,233.0 L1090.0,237.9 L1091.3,243.1 L1092.6,248.7 L1093.9,254.7 L1095.2,260.9 L1096.5,267.4 L1097.8,274.1 L1099.1,281.0 L1100.4,288.0 L1101.7,295.0 L1103.0,302.1 L1104.3,309.2 L1105.6,316.2 L1106.9,323.1 L1108.2,329.9 L1109.5,336.6 L1110.8,343.1 L1112.1,349.4 L1113.5,355.4 L1114.8,361.3 L1116.1,366.9 L1117.4,372.2 L1118.7,377.3 L1120.0,382.1 L1121.3,386.6 L1122.6,390.8 L1123.9,394.8 L1125.2,398.5 L1126.5,401.9 L1127.8,405.1 L1129.1,408.0 L1130.4,410.7 L1131.7,413.2 L1133.0,415.5 L1134.3,417.5 L1135.6,419.4 L1136.9,421.1 L1138.2,422.6 L1139.5,423.9 L1140.9,425.2 L1142.2,426.3 L1143.5,427.2 L1144.8,428.1 L1146.1,428.8 L1147.4,429.5 L1148.7,430.1 L1150.0,430.6 L1151.3,431.0 L1152.6,431.4 L1153.9,431.8 L1155.2,432.1 L1156.5,432.3 L1157.8,432.5 L1159.1,432.7 L1160.4,432.9 L1161.7,433.0 L1163.0,433.1 L1164.3,433.2 L1165.7,433.3 L1167.0,433.4 L1168.3,433.4 L1169.6,433.5 L1170.9,433.5 L1172.2,433.6 L1173.5,433.6 L1174.8,433.6 L1176.1,433.6 L1177.4,433.6 L1178.7,433.6 L1180.0,433.7 L1181.3,433.7 L1182.6,433.7 L1183.9,433.7 L1185.2,433.7 L1186.5,433.7 L1187.8,433.7 L1189.1,433.7 L1190.4,433.7 L1191.8,433.7 L1193.1,433.7 L1194.4,433.7 L1195.7,433.7 L1197.0,433.7 L1198.3,433.7 L1199.6,433.7 L1200.9,433.7 L1202.2,433.7 L1203.5,433.7 L1204.8,433.7 L1206.1,433.7 L1207.4,433.7 L1208.7,433.7 L1210.0,433.7 L1211.3,433.7 L1212.6,433.7 L1213.9,433.7 L1215.2,433.7 L1216.5,433.7 L1217.8,433.7 L1219.2,433.7 L1220.5,433.7 L1221.8,433.7 L1223.1,433.7 L1224.4,433.7 L1225.7,433.7 L1227.0,433.7 L1228.3,433.7 L1229.6,433.7 L1230.9,433.7 L1232.2,433.7 L1233.5,433.7 L1234.8,433.7 L1236.1,433.7 L1237.4,433.7 L1238.7,433.7 L1240.0,433.7 L1241.3,433.7 L1242.6,433.7 L1244.0,433.7 L1245.3,433.7 L1246.6,433.7 L1247.9,433.7 L1249.2,433.7 L1250.5,433.7 L1251.8,433.7 L1253.1,433.7 L1254.4,433.7 L1255.7,433.7 L1257.0,433.7 L1258.3,433.7 L1259.6,433.7 L1260.9,433.7 L1262.2,433.7 L1263.5,433.7 L1264.8,433.7 L1266.1,433.7 L1267.4,433.7 L1268.7,433.7 L1270.0,433.7 L1271.4,433.7 L1272.7,433.7 L1274.0,433.7 L1275.3,433.7 L1276.6,433.7 L1277.9,433.7 L1279.2,433.7 L1280.5,433.7 L1281.8,433.7 L1283.1,433.7" fill="none" stroke="#0a3169" stroke-width="4" stroke-linejoin="round"/>
<path d="M891.6,305.2 L893.6,305.3 L895.5,305.5 L897.5,305.7 L899.4,306.1 L901.4,306.7 L903.3,307.3 L905.3,308.0 L907.3,308.8 L909.2,309.7 L911.2,310.8 L913.1,311.9 L915.1,313.0 L917.0,314.3 L919.0,315.6 L921.0,317.0 L922.9,318.5 L924.9,320.0 L926.8,321.6 L928.8,323.2 L930.8,324.8 L932.7,326.5 L934.7,328.2 L936.6,329.9 L938.6,331.7 L940.5,333.4 L942.5,335.2 L944.5,337.0 L946.4,338.7 L948.4,340.5 L950.3,342.3 L952.3,344.0 L954.2,345.8 L956.2,347.5 L958.2,349.2 L960.1,350.9 L962.1,352.6 L964.0,354.2 L966.0,355.8 L967.9,357.4 L969.9,359.0 L971.9,360.6 L973.8,362.1 L975.8,363.6 L977.7,365.0 L979.7,366.5 L981.6,367.9 L983.6,369.3 L985.6,370.6 L987.5,371.9 L989.5,373.2 L991.4,374.5 L993.4,375.7 L995.3,377.0 L997.3,378.1 L999.3,379.3 L1001.2,380.4 L1003.2,381.5 L1005.1,382.6 L1007.1,383.6 L1009.1,384.7 L1011.0,385.7 L1013.0,386.6 L1014.9,387.6 L1016.9,388.5 L1018.8,389.4 L1020.8,390.3 L1022.8,391.2 L1024.7,392.0 L1026.7,392.8 L1028.6,393.6 L1030.6,394.4 L1032.5,395.2 L1034.5,395.9 L1036.5,396.6 L1038.4,397.3 L1040.4,398.0 L1042.3,398.7 L1044.3,399.3 L1046.2,400.0 L1048.2,400.6 L1050.2,401.2 L1052.1,401.8 L1054.1,402.4 L1056.0,402.9 L1058.0,403.5 L1059.9,404.0 L1061.9,404.5 L1063.9,405.1 L1065.8,405.6 L1067.8,406.0 L1069.7,406.5 L1071.7,407.0 L1073.6,407.4 L1075.6,407.9 L1077.6,408.3 L1079.5,408.7 L1081.5,409.2 L1083.4,409.6 L1085.4,410.0 L1087.3,410.3 L1089.3,410.7 L1091.3,411.1 L1093.2,411.4 L1095.2,411.8 L1097.1,412.1 L1099.1,412.5 L1101.1,412.8 L1103.0,413.1 L1105.0,413.5 L1106.9,413.8 L1108.9,414.1 L1110.8,414.4 L1112.8,414.7 L1114.8,414.9 L1116.7,415.2 L1118.7,415.5 L1120.6,415.8 L1122.6,416.0 L1124.5,416.3 L1126.5,416.5 L1128.5,416.8 L1130.4,417.0 L1132.4,417.2 L1134.3,417.5 L1136.3,417.7 L1138.2,417.9 L1140.2,418.1 L1142.2,418.4 L1144.1,418.6 L1146.1,418.8 L1148.0,419.0 L1150.0,419.2 L1151.9,419.4 L1153.9,419.6 L1155.9,419.7 L1157.8,419.9 L1159.8,420.1 L1161.7,420.3 L1163.7,420.4 L1165.7,420.6 L1167.6,420.8 L1169.6,420.9 L1171.5,421.1 L1173.5,421.3 L1175.4,421.4 L1177.4,421.6 L1179.4,421.7 L1181.3,421.9 L1183.3,422.0 L1185.2,422.2 L1187.2,422.3 L1189.1,422.4 L1191.1,422.6 L1193.1,422.7 L1195.0,422.8 L1197.0,423.0 L1198.9,423.1 L1200.9,423.2 L1202.8,423.3 L1204.8,423.4 L1206.8,423.6 L1208.7,423.7 L1210.7,423.8 L1212.6,423.9 L1214.6,424.0 L1216.5,424.1 L1218.5,424.2 L1220.5,424.3 L1222.4,424.4 L1224.4,424.5 L1226.3,424.6 L1228.3,424.7 L1230.2,424.8 L1232.2,424.9 L1234.2,425.0 L1236.1,425.1 L1238.1,425.2 L1240.0,425.3 L1242.0,425.4 L1244.0,425.5 L1245.9,425.5 L1247.9,425.6 L1249.8,425.7 L1251.8,425.8 L1253.7,425.9 L1255.7,425.9 L1257.7,426.0 L1259.6,426.1 L1261.6,426.2 L1263.5,426.3 L1265.5,426.3 L1267.4,426.4 L1269.4,426.5 L1271.4,426.5 L1273.3,426.6 L1275.3,426.7 L1277.2,426.7 L1279.2,426.8 L1281.1,426.9 L1283.1,426.9" fill="none" stroke="#000" stroke-width="4.2" stroke-dasharray="9.5,6.5"/>
<line x1="891.6" y1="305.27" x2="891.6" y2="412.295" stroke="#000" stroke-width="4.2" stroke-dasharray="10,5.5"/>
<circle cx="891.6" cy="305.3" r="7.8" fill="#c2c2c2" stroke="#000" stroke-width="2.6" />
<circle cx="891.6" cy="412.9" r="7.8" fill="#cfe2ef" stroke="#000" stroke-width="2.6" />
<circle cx="867.0" cy="433.7" r="7.8" fill="#93c2df" stroke="#000" stroke-width="2.6" />
<circle cx="884.5" cy="433.7" r="7.8" fill="#4594c8" stroke="#000" stroke-width="2.6" />
<circle cx="901.7" cy="433.7" r="7.8" fill="#2468b0" stroke="#000" stroke-width="2.6" />
<circle cx="920.8" cy="433.7" r="7.8" fill="#0a3169" stroke="#000" stroke-width="2.6" />
<line x1="903.6" y1="83.5" x2="994.0" y2="83.5" stroke="#cfe2ef" stroke-width="4.2" />
<line x1="903.6" y1="77.0" x2="903.6" y2="90.0" stroke="#cfe2ef" stroke-width="4" />
<line x1="994.0" y1="77.0" x2="994.0" y2="90.0" stroke="#cfe2ef" stroke-width="4" />
<text x="949.0" y="66.0" font-size="18.5" text-anchor="middle" fill="#c9dcec" >M = 0.42</text>
<line x1="956.0" y1="115.0" x2="1068.0" y2="115.0" stroke="#9ecae1" stroke-width="4.2" />
<line x1="956.0" y1="108.5" x2="956.0" y2="121.5" stroke="#9ecae1" stroke-width="4" />
<line x1="1068.0" y1="108.5" x2="1068.0" y2="121.5" stroke="#9ecae1" stroke-width="4" />
<text x="1011.7" y="109.0" font-size="18.5" text-anchor="middle" fill="#97c3df" >M = 0.92</text>
<line x1="975.0" y1="144.7" x2="1090.7" y2="144.7" stroke="#4292c6" stroke-width="4.2" />
<line x1="975.0" y1="138.2" x2="975.0" y2="151.2" stroke="#4292c6" stroke-width="4" />
<line x1="1090.7" y1="138.2" x2="1090.7" y2="151.2" stroke="#4292c6" stroke-width="4" />
<text x="1031.0" y="140.0" font-size="18.5" text-anchor="middle" fill="#4a91c5" >M = 1.04</text>
<line x1="992.0" y1="176.4" x2="1117.5" y2="176.4" stroke="#2f78b9" stroke-width="4.2" />
<line x1="992.0" y1="169.9" x2="992.0" y2="182.9" stroke="#2f78b9" stroke-width="4" />
<line x1="1117.5" y1="169.9" x2="1117.5" y2="182.9" stroke="#2f78b9" stroke-width="4" />
<text x="1052.0" y="170.5" font-size="18.5" text-anchor="middle" fill="#3979ba" >M = 1.24</text>
<line x1="1014.6" y1="208.0" x2="1147.0" y2="208.0" stroke="#173f77" stroke-width="4.2" />
<line x1="1014.6" y1="201.5" x2="1014.6" y2="214.5" stroke="#173f77" stroke-width="4" />
<line x1="1147.0" y1="201.5" x2="1147.0" y2="214.5" stroke="#173f77" stroke-width="4" />
<text x="1082.6" y="203.0" font-size="18.5" text-anchor="middle" fill="#163c72" >M = 1.41</text>
<text x="1163.6" y="63.6" font-size="18.5" textLength="104.0" lengthAdjust="spacingAndGlyphs" >Evidence | H</text>
<text x="1269.1" y="70.6" font-size="11" >+</text>
<text x="1163.6" y="141.3" font-size="18.5" textLength="104.0" lengthAdjust="spacingAndGlyphs" >Evidence | H</text>
<text x="1269.1" y="148.3" font-size="11" >0</text>
<circle cx="1115.0" cy="96.0" r="21.0" fill="#fff" stroke="none" stroke-width="0" />
<path d="M1115.00,97.00 L1123.21,115.33 A21,21 0 1 0 1106.79,115.33 Z" fill="#cfe2ef" stroke="#000" stroke-width="3" stroke-linejoin="miter"/>
<circle cx="1115.0" cy="96.0" r="21.0" fill="none" stroke="#000" stroke-width="3" />
<circle cx="1166.8" cy="96.0" r="21.0" fill="#fff" stroke="none" stroke-width="0" />
<path d="M1166.80,96.00 L1167.24,117.00 A21,21 0 1 0 1166.36,117.00 Z" fill="#93c2df" stroke="#000" stroke-width="3" stroke-linejoin="miter"/>
<circle cx="1166.8" cy="96.0" r="21.0" fill="none" stroke="#000" stroke-width="3" />
<circle cx="1219.3" cy="96.0" r="21.0" fill="#fff" stroke="none" stroke-width="0" />
<path d="M1219.30,96.00 L1219.74,117.00 A21,21 0 1 0 1218.86,117.00 Z" fill="#4594c8" stroke="#000" stroke-width="3" stroke-linejoin="miter"/>
<circle cx="1219.3" cy="96.0" r="21.0" fill="none" stroke="#000" stroke-width="3" />
<circle cx="1272.9" cy="96.0" r="21.0" fill="#fff" stroke="none" stroke-width="0" />
<path d="M1272.90,96.00 L1273.34,117.00 A21,21 0 1 0 1272.46,117.00 Z" fill="#2468b0" stroke="#000" stroke-width="3" stroke-linejoin="miter"/>
<circle cx="1272.9" cy="96.0" r="21.0" fill="none" stroke="#000" stroke-width="3" />
<circle cx="1325.7" cy="96.0" r="21.0" fill="#fff" stroke="none" stroke-width="0" />
<path d="M1325.70,96.00 L1326.14,117.00 A21,21 0 1 0 1325.26,117.00 Z" fill="#0a3169" stroke="#000" stroke-width="3" stroke-linejoin="miter"/>
<circle cx="1325.7" cy="96.0" r="21.0" fill="none" stroke="#000" stroke-width="3" />
<rect x="851.0" y="40.0" width="500.0" height="411.5" fill="none" stroke="#000" stroke-width="3" />
<line x1="843.0" y1="433.7" x2="851.0" y2="433.7" stroke="#000" stroke-width="2.4" />
<text x="840.0" y="442.2" font-size="23.5" text-anchor="end" >0</text>
<line x1="843.0" y1="362.4" x2="851.0" y2="362.4" stroke="#000" stroke-width="2.4" />
<line x1="843.0" y1="291.0" x2="851.0" y2="291.0" stroke="#000" stroke-width="2.4" />
<text x="840.0" y="299.5" font-size="23.5" text-anchor="end" >1</text>
<line x1="843.0" y1="219.7" x2="851.0" y2="219.7" stroke="#000" stroke-width="2.4" />
<line x1="843.0" y1="148.3" x2="851.0" y2="148.3" stroke="#000" stroke-width="2.4" />
<text x="840.0" y="156.8" font-size="23.5" text-anchor="end" >2</text>
<line x1="843.0" y1="76.9" x2="851.0" y2="76.9" stroke="#000" stroke-width="2.4" />
<line x1="891.6" y1="451.5" x2="891.6" y2="459.5" stroke="#000" stroke-width="2.4" />
<text x="891.6" y="488.0" font-size="23.5" text-anchor="middle" >0</text>
<line x1="1022.1" y1="451.5" x2="1022.1" y2="459.5" stroke="#000" stroke-width="2.4" />
<text x="1022.1" y="488.0" font-size="23.5" text-anchor="middle" >1</text>
<line x1="1152.6" y1="451.5" x2="1152.6" y2="459.5" stroke="#000" stroke-width="2.4" />
<text x="1152.6" y="488.0" font-size="23.5" text-anchor="middle" >2</text>
<line x1="1283.1" y1="451.5" x2="1283.1" y2="459.5" stroke="#000" stroke-width="2.4" />
<text x="1283.1" y="488.0" font-size="23.5" text-anchor="middle" >3</text>
<text x="1085.0" y="516.0" font-size="27" text-anchor="middle" textLength="154.0" lengthAdjust="spacingAndGlyphs" >Effect size δ</text>
<text x="813.0" y="262.0" font-size="29" text-anchor="middle" textLength="97.0" lengthAdjust="spacingAndGlyphs" transform="rotate(-90 813.0 262.0)" >Density</text>
<text x="793.5" y="561.0" font-size="32" >E</text>
<line x1="975.3" y1="555.3" x2="1004" y2="555.3" stroke="#000" stroke-width="4.6" stroke-dasharray="8.2,10.6" stroke-linecap="round"/>
<text x="1013.0" y="563.7" font-size="22.3" >Prior</text>
<line x1="1100.0" y1="555.3" x2="1131.0" y2="555.3" stroke="#000" stroke-width="4.6" />
<text x="1140.0" y="563.7" font-size="22.3" >Posterior</text>
<path d="M865.9,966.2 L892.0,966.2 L892.0,860.0 L893.3,852.1 L894.6,844.0 L895.9,835.6 L897.2,827.1 L898.5,818.3 L899.8,809.5 L901.1,800.5 L902.4,791.5 L903.7,782.4 L905.0,773.4 L906.3,764.4 L907.6,755.6 L908.9,747.0 L910.2,738.7 L911.5,730.6 L912.8,722.9 L914.2,715.5 L915.5,708.7 L916.8,702.3 L918.1,696.4 L919.4,691.2 L920.7,686.6 L922.0,682.6 L923.3,679.3 L924.6,676.8 L925.9,675.0 L927.2,673.9 L928.5,673.6 L929.8,674.3 L931.1,676.1 L932.4,679.1 L933.7,683.1 L935.0,688.1 L936.3,694.1 L937.6,701.0 L938.9,708.8 L940.2,717.3 L941.5,726.5 L942.8,736.2 L944.1,746.4 L945.4,756.9 L946.7,767.8 L948.0,778.8 L949.3,789.8 L950.6,800.9 L951.9,811.9 L953.2,822.7 L954.5,833.3 L955.8,843.6 L957.1,853.5 L958.5,863.0 L959.8,872.1 L961.1,880.7 L962.4,888.9 L963.7,896.5 L965.0,903.6 L966.3,910.2 L967.6,916.3 L968.9,922.0 L970.2,927.1 L971.5,931.8 L972.8,936.0 L974.1,939.8 L975.4,943.2 L976.7,946.3 L978.0,949.0 L979.3,951.4 L980.6,953.5 L981.9,955.4 L983.2,957.0 L984.5,958.4 L985.8,959.6 L987.1,960.7 L988.4,961.6 L989.7,962.4 L991.0,963.0 L992.3,963.6 L993.6,964.0 L994.9,964.4 L996.2,964.7 L997.5,965.0 L998.8,965.2 L1000.1,965.4 L1001.5,965.6 L1002.8,965.7 L1004.1,965.8 L1005.4,965.9 L1006.7,965.9 L1008.0,966.0 L1009.3,966.0 L1010.6,966.1 L1011.9,966.1 L1013.2,966.1 L1014.5,966.1 L1015.8,966.2 L1017.1,966.2 L1018.4,966.2 L1019.7,966.2 L1021.0,966.2 L1022.3,966.2 L1023.6,966.2 L1024.9,966.2 L1026.2,966.2 L1027.5,966.2 L1028.8,966.2 L1030.1,966.2 L1031.4,966.2 L1032.7,966.2 L1034.0,966.2 L1035.3,966.2 L1036.6,966.2 L1037.9,966.2 L1039.2,966.2 L1040.5,966.2 L1041.8,966.2 L1043.1,966.2 L1044.5,966.2 L1045.8,966.2 L1047.1,966.2 L1048.4,966.2 L1049.7,966.2 L1051.0,966.2 L1052.3,966.2 L1053.6,966.2 L1054.9,966.2 L1056.2,966.2 L1057.5,966.2 L1058.8,966.2 L1060.1,966.2 L1061.4,966.2 L1062.7,966.2 L1064.0,966.2 L1065.3,966.2 L1066.6,966.2 L1067.9,966.2 L1069.2,966.2 L1070.5,966.2 L1071.8,966.2 L1073.1,966.2 L1074.4,966.2 L1075.7,966.2 L1077.0,966.2 L1078.3,966.2 L1079.6,966.2 L1080.9,966.2 L1082.2,966.2 L1083.5,966.2 L1084.8,966.2 L1086.1,966.2 L1087.5,966.2 L1088.8,966.2 L1090.1,966.2 L1091.4,966.2 L1092.7,966.2 L1094.0,966.2 L1095.3,966.2 L1096.6,966.2 L1097.9,966.2 L1099.2,966.2 L1100.5,966.2 L1101.8,966.2 L1103.1,966.2 L1104.4,966.2 L1105.7,966.2 L1107.0,966.2 L1108.3,966.2 L1109.6,966.2 L1110.9,966.2 L1112.2,966.2 L1113.5,966.2 L1114.8,966.2 L1116.1,966.2 L1117.4,966.2 L1118.7,966.2 L1120.0,966.2 L1121.3,966.2 L1122.6,966.2 L1123.9,966.2 L1125.2,966.2 L1126.5,966.2 L1127.8,966.2 L1129.1,966.2 L1130.4,966.2 L1131.8,966.2 L1133.1,966.2 L1134.4,966.2 L1135.7,966.2 L1137.0,966.2 L1138.3,966.2 L1139.6,966.2 L1140.9,966.2 L1142.2,966.2 L1143.5,966.2 L1144.8,966.2 L1146.1,966.2 L1147.4,966.2 L1148.7,966.2 L1150.0,966.2 L1151.3,966.2 L1152.6,966.2 L1153.9,966.2 L1155.2,966.2 L1156.5,966.2 L1157.8,966.2 L1159.1,966.2 L1160.4,966.2 L1161.7,966.2 L1163.0,966.2 L1164.3,966.2 L1165.6,966.2 L1166.9,966.2 L1168.2,966.2 L1169.5,966.2 L1170.8,966.2 L1172.1,966.2 L1173.4,966.2 L1174.8,966.2 L1176.1,966.2 L1177.4,966.2 L1178.7,966.2 L1180.0,966.2 L1181.3,966.2 L1182.6,966.2 L1183.9,966.2 L1185.2,966.2 L1186.5,966.2 L1187.8,966.2 L1189.1,966.2 L1190.4,966.2 L1191.7,966.2 L1193.0,966.2 L1194.3,966.2 L1195.6,966.2 L1196.9,966.2 L1198.2,966.2 L1199.5,966.2 L1200.8,966.2 L1202.1,966.2 L1203.4,966.2 L1204.7,966.2 L1206.0,966.2 L1207.3,966.2 L1208.6,966.2 L1209.9,966.2 L1211.2,966.2 L1212.5,966.2 L1213.8,966.2 L1215.1,966.2 L1216.4,966.2 L1217.8,966.2 L1219.1,966.2 L1220.4,966.2 L1221.7,966.2 L1223.0,966.2 L1224.3,966.2 L1225.6,966.2 L1226.9,966.2 L1228.2,966.2 L1229.5,966.2 L1230.8,966.2 L1232.1,966.2 L1233.4,966.2 L1234.7,966.2 L1236.0,966.2 L1237.3,966.2 L1238.6,966.2 L1239.9,966.2 L1241.2,966.2 L1242.5,966.2 L1243.8,966.2 L1245.1,966.2 L1246.4,966.2 L1247.7,966.2 L1249.0,966.2 L1250.3,966.2 L1251.6,966.2 L1252.9,966.2 L1254.2,966.2 L1255.5,966.2 L1256.8,966.2 L1258.1,966.2 L1259.4,966.2 L1260.7,966.2 L1262.1,966.2 L1263.4,966.2 L1264.7,966.2 L1266.0,966.2 L1267.3,966.2 L1268.6,966.2 L1269.9,966.2 L1271.2,966.2 L1272.5,966.2 L1273.8,966.2 L1275.1,966.2 L1276.4,966.2 L1277.7,966.2 L1279.0,966.2 L1280.3,966.2 L1281.6,966.2 L1282.9,966.2" fill="none" stroke="#fdd6da" stroke-width="4.3" stroke-linejoin="round"/>
<path d="M865.9,966.2 L892.0,966.2 L892.0,770.0 L893.3,758.5 L894.6,746.9 L895.9,735.6 L897.2,724.5 L898.5,713.8 L899.8,703.5 L901.1,693.8 L902.4,684.7 L903.7,676.3 L905.0,668.7 L906.3,661.9 L907.6,656.1 L908.9,651.3 L910.2,647.5 L911.5,644.8 L912.8,643.3 L914.2,642.8 L915.5,643.7 L916.8,646.2 L918.1,650.2 L919.4,655.6 L920.7,662.5 L922.0,670.6 L923.3,679.8 L924.6,690.1 L925.9,701.3 L927.2,713.3 L928.5,725.9 L929.8,739.0 L931.1,752.4 L932.4,766.0 L933.7,779.6 L935.0,793.1 L936.3,806.4 L937.6,819.4 L938.9,832.0 L940.2,844.1 L941.5,855.7 L942.8,866.6 L944.1,876.9 L945.4,886.5 L946.7,895.4 L948.0,903.6 L949.3,911.2 L950.6,918.0 L951.9,924.2 L953.2,929.8 L954.5,934.8 L955.8,939.2 L957.1,943.2 L958.5,946.6 L959.8,949.6 L961.1,952.2 L962.4,954.5 L963.7,956.4 L965.0,958.1 L966.3,959.5 L967.6,960.7 L968.9,961.7 L970.2,962.5 L971.5,963.2 L972.8,963.8 L974.1,964.3 L975.4,964.7 L976.7,965.0 L978.0,965.2 L979.3,965.4 L980.6,965.6 L981.9,965.7 L983.2,965.8 L984.5,965.9 L985.8,966.0 L987.1,966.0 L988.4,966.1 L989.7,966.1 L991.0,966.1 L992.3,966.1 L993.6,966.2 L994.9,966.2 L996.2,966.2 L997.5,966.2 L998.8,966.2 L1000.1,966.2 L1001.5,966.2 L1002.8,966.2 L1004.1,966.2 L1005.4,966.2 L1006.7,966.2 L1008.0,966.2 L1009.3,966.2 L1010.6,966.2 L1011.9,966.2 L1013.2,966.2 L1014.5,966.2 L1015.8,966.2 L1017.1,966.2 L1018.4,966.2 L1019.7,966.2 L1021.0,966.2 L1022.3,966.2 L1023.6,966.2 L1024.9,966.2 L1026.2,966.2 L1027.5,966.2 L1028.8,966.2 L1030.1,966.2 L1031.4,966.2 L1032.7,966.2 L1034.0,966.2 L1035.3,966.2 L1036.6,966.2 L1037.9,966.2 L1039.2,966.2 L1040.5,966.2 L1041.8,966.2 L1043.1,966.2 L1044.5,966.2 L1045.8,966.2 L1047.1,966.2 L1048.4,966.2 L1049.7,966.2 L1051.0,966.2 L1052.3,966.2 L1053.6,966.2 L1054.9,966.2 L1056.2,966.2 L1057.5,966.2 L1058.8,966.2 L1060.1,966.2 L1061.4,966.2 L1062.7,966.2 L1064.0,966.2 L1065.3,966.2 L1066.6,966.2 L1067.9,966.2 L1069.2,966.2 L1070.5,966.2 L1071.8,966.2 L1073.1,966.2 L1074.4,966.2 L1075.7,966.2 L1077.0,966.2 L1078.3,966.2 L1079.6,966.2 L1080.9,966.2 L1082.2,966.2 L1083.5,966.2 L1084.8,966.2 L1086.1,966.2 L1087.5,966.2 L1088.8,966.2 L1090.1,966.2 L1091.4,966.2 L1092.7,966.2 L1094.0,966.2 L1095.3,966.2 L1096.6,966.2 L1097.9,966.2 L1099.2,966.2 L1100.5,966.2 L1101.8,966.2 L1103.1,966.2 L1104.4,966.2 L1105.7,966.2 L1107.0,966.2 L1108.3,966.2 L1109.6,966.2 L1110.9,966.2 L1112.2,966.2 L1113.5,966.2 L1114.8,966.2 L1116.1,966.2 L1117.4,966.2 L1118.7,966.2 L1120.0,966.2 L1121.3,966.2 L1122.6,966.2 L1123.9,966.2 L1125.2,966.2 L1126.5,966.2 L1127.8,966.2 L1129.1,966.2 L1130.4,966.2 L1131.8,966.2 L1133.1,966.2 L1134.4,966.2 L1135.7,966.2 L1137.0,966.2 L1138.3,966.2 L1139.6,966.2 L1140.9,966.2 L1142.2,966.2 L1143.5,966.2 L1144.8,966.2 L1146.1,966.2 L1147.4,966.2 L1148.7,966.2 L1150.0,966.2 L1151.3,966.2 L1152.6,966.2 L1153.9,966.2 L1155.2,966.2 L1156.5,966.2 L1157.8,966.2 L1159.1,966.2 L1160.4,966.2 L1161.7,966.2 L1163.0,966.2 L1164.3,966.2 L1165.6,966.2 L1166.9,966.2 L1168.2,966.2 L1169.5,966.2 L1170.8,966.2 L1172.1,966.2 L1173.4,966.2 L1174.8,966.2 L1176.1,966.2 L1177.4,966.2 L1178.7,966.2 L1180.0,966.2 L1181.3,966.2 L1182.6,966.2 L1183.9,966.2 L1185.2,966.2 L1186.5,966.2 L1187.8,966.2 L1189.1,966.2 L1190.4,966.2 L1191.7,966.2 L1193.0,966.2 L1194.3,966.2 L1195.6,966.2 L1196.9,966.2 L1198.2,966.2 L1199.5,966.2 L1200.8,966.2 L1202.1,966.2 L1203.4,966.2 L1204.7,966.2 L1206.0,966.2 L1207.3,966.2 L1208.6,966.2 L1209.9,966.2 L1211.2,966.2 L1212.5,966.2 L1213.8,966.2 L1215.1,966.2 L1216.4,966.2 L1217.8,966.2 L1219.1,966.2 L1220.4,966.2 L1221.7,966.2 L1223.0,966.2 L1224.3,966.2 L1225.6,966.2 L1226.9,966.2 L1228.2,966.2 L1229.5,966.2 L1230.8,966.2 L1232.1,966.2 L1233.4,966.2 L1234.7,966.2 L1236.0,966.2 L1237.3,966.2 L1238.6,966.2 L1239.9,966.2 L1241.2,966.2 L1242.5,966.2 L1243.8,966.2 L1245.1,966.2 L1246.4,966.2 L1247.7,966.2 L1249.0,966.2 L1250.3,966.2 L1251.6,966.2 L1252.9,966.2 L1254.2,966.2 L1255.5,966.2 L1256.8,966.2 L1258.1,966.2 L1259.4,966.2 L1260.7,966.2 L1262.1,966.2 L1263.4,966.2 L1264.7,966.2 L1266.0,966.2 L1267.3,966.2 L1268.6,966.2 L1269.9,966.2 L1271.2,966.2 L1272.5,966.2 L1273.8,966.2 L1275.1,966.2 L1276.4,966.2 L1277.7,966.2 L1279.0,966.2 L1280.3,966.2 L1281.6,966.2 L1282.9,966.2" fill="none" stroke="#f8a3a3" stroke-width="4.3" stroke-linejoin="round"/>
<path d="M865.9,966.2 L892.0,966.2 L892.0,889.2 L893.3,881.5 L894.6,873.4 L895.9,864.9 L897.2,856.0 L898.5,846.7 L899.8,837.1 L901.1,827.3 L902.4,817.2 L903.7,807.0 L905.0,796.7 L906.3,786.4 L907.6,776.1 L908.9,765.9 L910.2,756.0 L911.5,746.4 L912.8,737.1 L914.2,728.3 L915.5,720.1 L916.8,712.5 L918.1,705.5 L919.4,699.4 L920.7,694.1 L922.0,689.7 L923.3,686.2 L924.6,683.6 L925.9,682.1 L927.2,681.6 L928.5,682.1 L929.8,683.8 L931.1,686.4 L932.4,690.2 L933.7,694.8 L935.0,700.5 L936.3,707.0 L937.6,714.3 L938.9,722.3 L940.2,731.0 L941.5,740.2 L942.8,749.9 L944.1,760.0 L945.4,770.3 L946.7,780.8 L948.0,791.5 L949.3,802.1 L950.6,812.7 L951.9,823.1 L953.2,833.4 L954.5,843.4 L955.8,853.0 L957.1,862.3 L958.5,871.2 L959.8,879.7 L961.1,887.7 L962.4,895.2 L963.7,902.3 L965.0,908.9 L966.3,915.0 L967.6,920.6 L968.9,925.7 L970.2,930.5 L971.5,934.7 L972.8,938.6 L974.1,942.1 L975.4,945.2 L976.7,948.0 L978.0,950.5 L979.3,952.7 L980.6,954.6 L981.9,956.3 L983.2,957.8 L984.5,959.1 L985.8,960.2 L987.1,961.1 L988.4,962.0 L989.7,962.7 L991.0,963.3 L992.3,963.8 L993.6,964.2 L994.9,964.6 L996.2,964.9 L997.5,965.1 L998.8,965.3 L1000.1,965.5 L1001.5,965.6 L1002.8,965.7 L1004.1,965.8 L1005.4,965.9 L1006.7,966.0 L1008.0,966.0 L1009.3,966.1 L1010.6,966.1 L1011.9,966.1 L1013.2,966.1 L1014.5,966.1 L1015.8,966.2 L1017.1,966.2 L1018.4,966.2 L1019.7,966.2 L1021.0,966.2 L1022.3,966.2 L1023.6,966.2 L1024.9,966.2 L1026.2,966.2 L1027.5,966.2 L1028.8,966.2 L1030.1,966.2 L1031.4,966.2 L1032.7,966.2 L1034.0,966.2 L1035.3,966.2 L1036.6,966.2 L1037.9,966.2 L1039.2,966.2 L1040.5,966.2 L1041.8,966.2 L1043.1,966.2 L1044.5,966.2 L1045.8,966.2 L1047.1,966.2 L1048.4,966.2 L1049.7,966.2 L1051.0,966.2 L1052.3,966.2 L1053.6,966.2 L1054.9,966.2 L1056.2,966.2 L1057.5,966.2 L1058.8,966.2 L1060.1,966.2 L1061.4,966.2 L1062.7,966.2 L1064.0,966.2 L1065.3,966.2 L1066.6,966.2 L1067.9,966.2 L1069.2,966.2 L1070.5,966.2 L1071.8,966.2 L1073.1,966.2 L1074.4,966.2 L1075.7,966.2 L1077.0,966.2 L1078.3,966.2 L1079.6,966.2 L1080.9,966.2 L1082.2,966.2 L1083.5,966.2 L1084.8,966.2 L1086.1,966.2 L1087.5,966.2 L1088.8,966.2 L1090.1,966.2 L1091.4,966.2 L1092.7,966.2 L1094.0,966.2 L1095.3,966.2 L1096.6,966.2 L1097.9,966.2 L1099.2,966.2 L1100.5,966.2 L1101.8,966.2 L1103.1,966.2 L1104.4,966.2 L1105.7,966.2 L1107.0,966.2 L1108.3,966.2 L1109.6,966.2 L1110.9,966.2 L1112.2,966.2 L1113.5,966.2 L1114.8,966.2 L1116.1,966.2 L1117.4,966.2 L1118.7,966.2 L1120.0,966.2 L1121.3,966.2 L1122.6,966.2 L1123.9,966.2 L1125.2,966.2 L1126.5,966.2 L1127.8,966.2 L1129.1,966.2 L1130.4,966.2 L1131.8,966.2 L1133.1,966.2 L1134.4,966.2 L1135.7,966.2 L1137.0,966.2 L1138.3,966.2 L1139.6,966.2 L1140.9,966.2 L1142.2,966.2 L1143.5,966.2 L1144.8,966.2 L1146.1,966.2 L1147.4,966.2 L1148.7,966.2 L1150.0,966.2 L1151.3,966.2 L1152.6,966.2 L1153.9,966.2 L1155.2,966.2 L1156.5,966.2 L1157.8,966.2 L1159.1,966.2 L1160.4,966.2 L1161.7,966.2 L1163.0,966.2 L1164.3,966.2 L1165.6,966.2 L1166.9,966.2 L1168.2,966.2 L1169.5,966.2 L1170.8,966.2 L1172.1,966.2 L1173.4,966.2 L1174.8,966.2 L1176.1,966.2 L1177.4,966.2 L1178.7,966.2 L1180.0,966.2 L1181.3,966.2 L1182.6,966.2 L1183.9,966.2 L1185.2,966.2 L1186.5,966.2 L1187.8,966.2 L1189.1,966.2 L1190.4,966.2 L1191.7,966.2 L1193.0,966.2 L1194.3,966.2 L1195.6,966.2 L1196.9,966.2 L1198.2,966.2 L1199.5,966.2 L1200.8,966.2 L1202.1,966.2 L1203.4,966.2 L1204.7,966.2 L1206.0,966.2 L1207.3,966.2 L1208.6,966.2 L1209.9,966.2 L1211.2,966.2 L1212.5,966.2 L1213.8,966.2 L1215.1,966.2 L1216.4,966.2 L1217.8,966.2 L1219.1,966.2 L1220.4,966.2 L1221.7,966.2 L1223.0,966.2 L1224.3,966.2 L1225.6,966.2 L1226.9,966.2 L1228.2,966.2 L1229.5,966.2 L1230.8,966.2 L1232.1,966.2 L1233.4,966.2 L1234.7,966.2 L1236.0,966.2 L1237.3,966.2 L1238.6,966.2 L1239.9,966.2 L1241.2,966.2 L1242.5,966.2 L1243.8,966.2 L1245.1,966.2 L1246.4,966.2 L1247.7,966.2 L1249.0,966.2 L1250.3,966.2 L1251.6,966.2 L1252.9,966.2 L1254.2,966.2 L1255.5,966.2 L1256.8,966.2 L1258.1,966.2 L1259.4,966.2 L1260.7,966.2 L1262.1,966.2 L1263.4,966.2 L1264.7,966.2 L1266.0,966.2 L1267.3,966.2 L1268.6,966.2 L1269.9,966.2 L1271.2,966.2 L1272.5,966.2 L1273.8,966.2 L1275.1,966.2 L1276.4,966.2 L1277.7,966.2 L1279.0,966.2 L1280.3,966.2 L1281.6,966.2 L1282.9,966.2" fill="none" stroke="#f46b6b" stroke-width="4.3" stroke-linejoin="round"/>
<path d="M865.9,966.2 L892.0,966.2 L892.0,926.8 L893.3,922.4 L894.6,917.6 L895.9,912.4 L897.2,906.9 L898.5,901.0 L899.8,894.7 L901.1,888.1 L902.4,881.1 L903.7,873.8 L905.0,866.1 L906.3,858.1 L907.6,849.9 L908.9,841.3 L910.2,832.6 L911.5,823.7 L912.8,814.6 L914.2,805.5 L915.5,796.3 L916.8,787.2 L918.1,778.1 L919.4,769.1 L920.7,760.4 L922.0,751.9 L923.3,743.7 L924.6,735.9 L925.9,728.6 L927.2,721.7 L928.5,715.4 L929.8,709.8 L931.1,704.8 L932.4,700.5 L933.7,696.9 L935.0,694.1 L936.3,692.2 L937.6,691.0 L938.9,690.7 L940.2,691.3 L941.5,693.0 L942.8,695.7 L944.1,699.3 L945.4,704.0 L946.7,709.5 L948.0,715.9 L949.3,723.0 L950.6,730.9 L951.9,739.3 L953.2,748.3 L954.5,757.7 L955.8,767.5 L957.1,777.5 L958.5,787.7 L959.8,798.0 L961.1,808.4 L962.4,818.6 L963.7,828.7 L965.0,838.6 L966.3,848.2 L967.6,857.5 L968.9,866.5 L970.2,875.1 L971.5,883.2 L972.8,890.9 L974.1,898.2 L975.4,905.0 L976.7,911.3 L978.0,917.2 L979.3,922.6 L980.6,927.5 L981.9,932.0 L983.2,936.1 L984.5,939.8 L985.8,943.2 L987.1,946.2 L988.4,948.9 L989.7,951.2 L991.0,953.3 L992.3,955.2 L993.6,956.8 L994.9,958.2 L996.2,959.4 L997.5,960.5 L998.8,961.4 L1000.1,962.2 L1001.5,962.8 L1002.8,963.4 L1004.1,963.9 L1005.4,964.3 L1006.7,964.6 L1008.0,964.9 L1009.3,965.2 L1010.6,965.4 L1011.9,965.5 L1013.2,965.6 L1014.5,965.8 L1015.8,965.8 L1017.1,965.9 L1018.4,966.0 L1019.7,966.0 L1021.0,966.1 L1022.3,966.1 L1023.6,966.1 L1024.9,966.1 L1026.2,966.1 L1027.5,966.2 L1028.8,966.2 L1030.1,966.2 L1031.4,966.2 L1032.7,966.2 L1034.0,966.2 L1035.3,966.2 L1036.6,966.2 L1037.9,966.2 L1039.2,966.2 L1040.5,966.2 L1041.8,966.2 L1043.1,966.2 L1044.5,966.2 L1045.8,966.2 L1047.1,966.2 L1048.4,966.2 L1049.7,966.2 L1051.0,966.2 L1052.3,966.2 L1053.6,966.2 L1054.9,966.2 L1056.2,966.2 L1057.5,966.2 L1058.8,966.2 L1060.1,966.2 L1061.4,966.2 L1062.7,966.2 L1064.0,966.2 L1065.3,966.2 L1066.6,966.2 L1067.9,966.2 L1069.2,966.2 L1070.5,966.2 L1071.8,966.2 L1073.1,966.2 L1074.4,966.2 L1075.7,966.2 L1077.0,966.2 L1078.3,966.2 L1079.6,966.2 L1080.9,966.2 L1082.2,966.2 L1083.5,966.2 L1084.8,966.2 L1086.1,966.2 L1087.5,966.2 L1088.8,966.2 L1090.1,966.2 L1091.4,966.2 L1092.7,966.2 L1094.0,966.2 L1095.3,966.2 L1096.6,966.2 L1097.9,966.2 L1099.2,966.2 L1100.5,966.2 L1101.8,966.2 L1103.1,966.2 L1104.4,966.2 L1105.7,966.2 L1107.0,966.2 L1108.3,966.2 L1109.6,966.2 L1110.9,966.2 L1112.2,966.2 L1113.5,966.2 L1114.8,966.2 L1116.1,966.2 L1117.4,966.2 L1118.7,966.2 L1120.0,966.2 L1121.3,966.2 L1122.6,966.2 L1123.9,966.2 L1125.2,966.2 L1126.5,966.2 L1127.8,966.2 L1129.1,966.2 L1130.4,966.2 L1131.8,966.2 L1133.1,966.2 L1134.4,966.2 L1135.7,966.2 L1137.0,966.2 L1138.3,966.2 L1139.6,966.2 L1140.9,966.2 L1142.2,966.2 L1143.5,966.2 L1144.8,966.2 L1146.1,966.2 L1147.4,966.2 L1148.7,966.2 L1150.0,966.2 L1151.3,966.2 L1152.6,966.2 L1153.9,966.2 L1155.2,966.2 L1156.5,966.2 L1157.8,966.2 L1159.1,966.2 L1160.4,966.2 L1161.7,966.2 L1163.0,966.2 L1164.3,966.2 L1165.6,966.2 L1166.9,966.2 L1168.2,966.2 L1169.5,966.2 L1170.8,966.2 L1172.1,966.2 L1173.4,966.2 L1174.8,966.2 L1176.1,966.2 L1177.4,966.2 L1178.7,966.2 L1180.0,966.2 L1181.3,966.2 L1182.6,966.2 L1183.9,966.2 L1185.2,966.2 L1186.5,966.2 L1187.8,966.2 L1189.1,966.2 L1190.4,966.2 L1191.7,966.2 L1193.0,966.2 L1194.3,966.2 L1195.6,966.2 L1196.9,966.2 L1198.2,966.2 L1199.5,966.2 L1200.8,966.2 L1202.1,966.2 L1203.4,966.2 L1204.7,966.2 L1206.0,966.2 L1207.3,966.2 L1208.6,966.2 L1209.9,966.2 L1211.2,966.2 L1212.5,966.2 L1213.8,966.2 L1215.1,966.2 L1216.4,966.2 L1217.8,966.2 L1219.1,966.2 L1220.4,966.2 L1221.7,966.2 L1223.0,966.2 L1224.3,966.2 L1225.6,966.2 L1226.9,966.2 L1228.2,966.2 L1229.5,966.2 L1230.8,966.2 L1232.1,966.2 L1233.4,966.2 L1234.7,966.2 L1236.0,966.2 L1237.3,966.2 L1238.6,966.2 L1239.9,966.2 L1241.2,966.2 L1242.5,966.2 L1243.8,966.2 L1245.1,966.2 L1246.4,966.2 L1247.7,966.2 L1249.0,966.2 L1250.3,966.2 L1251.6,966.2 L1252.9,966.2 L1254.2,966.2 L1255.5,966.2 L1256.8,966.2 L1258.1,966.2 L1259.4,966.2 L1260.7,966.2 L1262.1,966.2 L1263.4,966.2 L1264.7,966.2 L1266.0,966.2 L1267.3,966.2 L1268.6,966.2 L1269.9,966.2 L1271.2,966.2 L1272.5,966.2 L1273.8,966.2 L1275.1,966.2 L1276.4,966.2 L1277.7,966.2 L1279.0,966.2 L1280.3,966.2 L1281.6,966.2 L1282.9,966.2" fill="none" stroke="#f23e3e" stroke-width="4.3" stroke-linejoin="round"/>
<path d="M865.9,966.2 L892.0,966.2 L892.0,875.4 L893.3,867.1 L894.6,858.5 L895.9,849.5 L897.2,840.2 L898.5,830.7 L899.8,820.9 L901.1,810.9 L902.4,800.8 L903.7,790.7 L905.0,780.6 L906.3,770.5 L907.6,760.7 L908.9,751.0 L910.2,741.7 L911.5,732.8 L912.8,724.3 L914.2,716.4 L915.5,709.1 L916.8,702.6 L918.1,696.7 L919.4,691.7 L920.7,687.5 L922.0,684.3 L923.3,682.0 L924.6,680.6 L925.9,680.2 L927.2,680.9 L928.5,682.6 L929.8,685.4 L931.1,689.2 L932.4,694.0 L933.7,699.8 L935.0,706.4 L936.3,713.8 L937.6,721.9 L938.9,730.7 L940.2,740.0 L941.5,749.8 L942.8,760.0 L944.1,770.4 L945.4,781.0 L946.7,791.7 L948.0,802.4 L949.3,813.0 L950.6,823.5 L951.9,833.7 L953.2,843.7 L954.5,853.4 L955.8,862.7 L957.1,871.6 L958.5,880.1 L959.8,888.1 L961.1,895.6 L962.4,902.7 L963.7,909.2 L965.0,915.3 L966.3,920.9 L967.6,926.0 L968.9,930.7 L970.2,935.0 L971.5,938.8 L972.8,942.3 L974.1,945.4 L975.4,948.2 L976.7,950.7 L978.0,952.8 L979.3,954.8 L980.6,956.4 L981.9,957.9 L983.2,959.2 L984.5,960.3 L985.8,961.2 L987.1,962.0 L988.4,962.7 L989.7,963.3 L991.0,963.8 L992.3,964.2 L993.6,964.6 L994.9,964.9 L996.2,965.1 L997.5,965.3 L998.8,965.5 L1000.1,965.6 L1001.5,965.7 L1002.8,965.8 L1004.1,965.9 L1005.4,966.0 L1006.7,966.0 L1008.0,966.1 L1009.3,966.1 L1010.6,966.1 L1011.9,966.1 L1013.2,966.1 L1014.5,966.2 L1015.8,966.2 L1017.1,966.2 L1018.4,966.2 L1019.7,966.2 L1021.0,966.2 L1022.3,966.2 L1023.6,966.2 L1024.9,966.2 L1026.2,966.2 L1027.5,966.2 L1028.8,966.2 L1030.1,966.2 L1031.4,966.2 L1032.7,966.2 L1034.0,966.2 L1035.3,966.2 L1036.6,966.2 L1037.9,966.2 L1039.2,966.2 L1040.5,966.2 L1041.8,966.2 L1043.1,966.2 L1044.5,966.2 L1045.8,966.2 L1047.1,966.2 L1048.4,966.2 L1049.7,966.2 L1051.0,966.2 L1052.3,966.2 L1053.6,966.2 L1054.9,966.2 L1056.2,966.2 L1057.5,966.2 L1058.8,966.2 L1060.1,966.2 L1061.4,966.2 L1062.7,966.2 L1064.0,966.2 L1065.3,966.2 L1066.6,966.2 L1067.9,966.2 L1069.2,966.2 L1070.5,966.2 L1071.8,966.2 L1073.1,966.2 L1074.4,966.2 L1075.7,966.2 L1077.0,966.2 L1078.3,966.2 L1079.6,966.2 L1080.9,966.2 L1082.2,966.2 L1083.5,966.2 L1084.8,966.2 L1086.1,966.2 L1087.5,966.2 L1088.8,966.2 L1090.1,966.2 L1091.4,966.2 L1092.7,966.2 L1094.0,966.2 L1095.3,966.2 L1096.6,966.2 L1097.9,966.2 L1099.2,966.2 L1100.5,966.2 L1101.8,966.2 L1103.1,966.2 L1104.4,966.2 L1105.7,966.2 L1107.0,966.2 L1108.3,966.2 L1109.6,966.2 L1110.9,966.2 L1112.2,966.2 L1113.5,966.2 L1114.8,966.2 L1116.1,966.2 L1117.4,966.2 L1118.7,966.2 L1120.0,966.2 L1121.3,966.2 L1122.6,966.2 L1123.9,966.2 L1125.2,966.2 L1126.5,966.2 L1127.8,966.2 L1129.1,966.2 L1130.4,966.2 L1131.8,966.2 L1133.1,966.2 L1134.4,966.2 L1135.7,966.2 L1137.0,966.2 L1138.3,966.2 L1139.6,966.2 L1140.9,966.2 L1142.2,966.2 L1143.5,966.2 L1144.8,966.2 L1146.1,966.2 L1147.4,966.2 L1148.7,966.2 L1150.0,966.2 L1151.3,966.2 L1152.6,966.2 L1153.9,966.2 L1155.2,966.2 L1156.5,966.2 L1157.8,966.2 L1159.1,966.2 L1160.4,966.2 L1161.7,966.2 L1163.0,966.2 L1164.3,966.2 L1165.6,966.2 L1166.9,966.2 L1168.2,966.2 L1169.5,966.2 L1170.8,966.2 L1172.1,966.2 L1173.4,966.2 L1174.8,966.2 L1176.1,966.2 L1177.4,966.2 L1178.7,966.2 L1180.0,966.2 L1181.3,966.2 L1182.6,966.2 L1183.9,966.2 L1185.2,966.2 L1186.5,966.2 L1187.8,966.2 L1189.1,966.2 L1190.4,966.2 L1191.7,966.2 L1193.0,966.2 L1194.3,966.2 L1195.6,966.2 L1196.9,966.2 L1198.2,966.2 L1199.5,966.2 L1200.8,966.2 L1202.1,966.2 L1203.4,966.2 L1204.7,966.2 L1206.0,966.2 L1207.3,966.2 L1208.6,966.2 L1209.9,966.2 L1211.2,966.2 L1212.5,966.2 L1213.8,966.2 L1215.1,966.2 L1216.4,966.2 L1217.8,966.2 L1219.1,966.2 L1220.4,966.2 L1221.7,966.2 L1223.0,966.2 L1224.3,966.2 L1225.6,966.2 L1226.9,966.2 L1228.2,966.2 L1229.5,966.2 L1230.8,966.2 L1232.1,966.2 L1233.4,966.2 L1234.7,966.2 L1236.0,966.2 L1237.3,966.2 L1238.6,966.2 L1239.9,966.2 L1241.2,966.2 L1242.5,966.2 L1243.8,966.2 L1245.1,966.2 L1246.4,966.2 L1247.7,966.2 L1249.0,966.2 L1250.3,966.2 L1251.6,966.2 L1252.9,966.2 L1254.2,966.2 L1255.5,966.2 L1256.8,966.2 L1258.1,966.2 L1259.4,966.2 L1260.7,966.2 L1262.1,966.2 L1263.4,966.2 L1264.7,966.2 L1266.0,966.2 L1267.3,966.2 L1268.6,966.2 L1269.9,966.2 L1271.2,966.2 L1272.5,966.2 L1273.8,966.2 L1275.1,966.2 L1276.4,966.2 L1277.7,966.2 L1279.0,966.2 L1280.3,966.2 L1281.6,966.2 L1282.9,966.2" fill="none" stroke="#fa1c12" stroke-width="4.3" stroke-linejoin="round"/>
<path d="M892.0,860.3 L894.0,860.4 L895.9,860.5 L897.9,860.7 L899.8,861.1 L901.8,861.5 L903.7,862.0 L905.7,862.6 L907.6,863.3 L909.6,864.0 L911.5,864.9 L913.5,865.8 L915.5,866.8 L917.4,867.8 L919.4,868.9 L921.3,870.1 L923.3,871.3 L925.2,872.5 L927.2,873.8 L929.1,875.1 L931.1,876.5 L933.0,877.9 L935.0,879.3 L937.0,880.7 L938.9,882.1 L940.9,883.6 L942.8,885.0 L944.8,886.5 L946.7,887.9 L948.7,889.4 L950.6,890.8 L952.6,892.3 L954.5,893.7 L956.5,895.1 L958.5,896.6 L960.4,897.9 L962.4,899.3 L964.3,900.7 L966.3,902.0 L968.2,903.3 L970.2,904.6 L972.1,905.9 L974.1,907.2 L976.0,908.4 L978.0,909.6 L980.0,910.8 L981.9,912.0 L983.9,913.1 L985.8,914.2 L987.8,915.3 L989.7,916.4 L991.7,917.4 L993.6,918.4 L995.6,919.4 L997.5,920.4 L999.5,921.4 L1001.5,922.3 L1003.4,923.2 L1005.4,924.1 L1007.3,924.9 L1009.3,925.8 L1011.2,926.6 L1013.2,927.4 L1015.1,928.2 L1017.1,929.0 L1019.0,929.7 L1021.0,930.4 L1023.0,931.1 L1024.9,931.8 L1026.9,932.5 L1028.8,933.2 L1030.8,933.8 L1032.7,934.4 L1034.7,935.0 L1036.6,935.6 L1038.6,936.2 L1040.5,936.8 L1042.5,937.3 L1044.5,937.9 L1046.4,938.4 L1048.4,938.9 L1050.3,939.4 L1052.3,939.9 L1054.2,940.4 L1056.2,940.8 L1058.1,941.3 L1060.1,941.7 L1062.0,942.2 L1064.0,942.6 L1066.0,943.0 L1067.9,943.4 L1069.9,943.8 L1071.8,944.2 L1073.8,944.6 L1075.7,944.9 L1077.7,945.3 L1079.6,945.6 L1081.6,946.0 L1083.5,946.3 L1085.5,946.6 L1087.5,946.9 L1089.4,947.3 L1091.4,947.6 L1093.3,947.9 L1095.3,948.2 L1097.2,948.4 L1099.2,948.7 L1101.1,949.0 L1103.1,949.3 L1105.0,949.5 L1107.0,949.8 L1108.9,950.0 L1110.9,950.3 L1112.9,950.5 L1114.8,950.7 L1116.8,951.0 L1118.7,951.2 L1120.7,951.4 L1122.6,951.6 L1124.6,951.8 L1126.5,952.0 L1128.5,952.2 L1130.4,952.4 L1132.4,952.6 L1134.4,952.8 L1136.3,953.0 L1138.3,953.2 L1140.2,953.4 L1142.2,953.6 L1144.1,953.7 L1146.1,953.9 L1148.0,954.1 L1150.0,954.2 L1151.9,954.4 L1153.9,954.5 L1155.9,954.7 L1157.8,954.8 L1159.8,955.0 L1161.7,955.1 L1163.7,955.3 L1165.6,955.4 L1167.6,955.6 L1169.5,955.7 L1171.5,955.8 L1173.4,956.0 L1175.4,956.1 L1177.4,956.2 L1179.3,956.3 L1181.3,956.4 L1183.2,956.6 L1185.2,956.7 L1187.1,956.8 L1189.1,956.9 L1191.0,957.0 L1193.0,957.1 L1194.9,957.2 L1196.9,957.3 L1198.9,957.4 L1200.8,957.5 L1202.8,957.6 L1204.7,957.7 L1206.7,957.8 L1208.6,957.9 L1210.6,958.0 L1212.5,958.1 L1214.5,958.2 L1216.4,958.3 L1218.4,958.4 L1220.4,958.5 L1222.3,958.6 L1224.3,958.6 L1226.2,958.7 L1228.2,958.8 L1230.1,958.9 L1232.1,959.0 L1234.0,959.0 L1236.0,959.1 L1237.9,959.2 L1239.9,959.3 L1241.9,959.3 L1243.8,959.4 L1245.8,959.5 L1247.7,959.5 L1249.7,959.6 L1251.6,959.7 L1253.6,959.7 L1255.5,959.8 L1257.5,959.9 L1259.4,959.9 L1261.4,960.0 L1263.4,960.1 L1265.3,960.1 L1267.3,960.2 L1269.2,960.2 L1271.2,960.3 L1273.1,960.4 L1275.1,960.4 L1277.0,960.5 L1279.0,960.5 L1280.9,960.6 L1282.9,960.6" fill="none" stroke="#000" stroke-width="4.2" stroke-dasharray="9.5,6.5"/>
<circle cx="882.7" cy="860.4" r="7.8" fill="#c2c2c2" stroke="#000" stroke-width="2.6" />
<circle cx="902.2" cy="860.4" r="7.8" fill="#fdd6da" stroke="#000" stroke-width="2.6" />
<circle cx="892.0" cy="769.8" r="7.8" fill="#f8a3a3" stroke="#000" stroke-width="2.6" />
<circle cx="892.0" cy="875.6" r="7.8" fill="#fa1c12" stroke="#000" stroke-width="2.6" />
<circle cx="892.0" cy="888.6" r="7.8" fill="#f46b6b" stroke="#000" stroke-width="2.6" />
<circle cx="892.0" cy="927.4" r="7.8" fill="#f23e3e" stroke="#000" stroke-width="2.6" />
<rect x="891.4" y="571.2" width="72.5" height="16.0" fill="#fff" stroke="none" stroke-width="0" />
<line x1="893.4" y1="589.4" x2="960.3" y2="589.4" stroke="#f8a3a3" stroke-width="4.2" />
<line x1="893.4" y1="582.9" x2="893.4" y2="595.9" stroke="#f8a3a3" stroke-width="4" />
<line x1="960.3" y1="582.9" x2="960.3" y2="595.9" stroke="#f8a3a3" stroke-width="4" />
<text x="927.7" y="585.2" font-size="18.5" text-anchor="middle" fill="#f3a5a5" >M = 0.21</text>
<rect x="894.3" y="593.4" width="72.5" height="16.0" fill="#fff" stroke="none" stroke-width="0" />
<line x1="896.0" y1="613.3" x2="973.3" y2="613.3" stroke="#f46b6b" stroke-width="4.2" />
<line x1="896.0" y1="606.8" x2="896.0" y2="619.8" stroke="#f46b6b" stroke-width="4" />
<line x1="973.3" y1="606.8" x2="973.3" y2="619.8" stroke="#f46b6b" stroke-width="4" />
<text x="930.6" y="607.4" font-size="18.5" text-anchor="middle" fill="#e46464" >M = 0.29</text>
<rect x="896.5" y="618.6" width="72.5" height="16.0" fill="#fff" stroke="none" stroke-width="0" />
<line x1="896.0" y1="638.1" x2="970.8" y2="638.1" stroke="#fdd6da" stroke-width="4.2" />
<line x1="896.0" y1="631.6" x2="896.0" y2="644.6" stroke="#fdd6da" stroke-width="4" />
<line x1="970.8" y1="631.6" x2="970.8" y2="644.6" stroke="#fdd6da" stroke-width="4" />
<text x="932.8" y="632.6" font-size="18.5" text-anchor="middle" fill="#f8cfd3" >M = 0.27</text>
<line x1="896.0" y1="660.4" x2="971.6" y2="660.4" stroke="#fa1c12" stroke-width="4.2" />
<line x1="896.0" y1="653.9" x2="896.0" y2="666.9" stroke="#fa1c12" stroke-width="4" />
<line x1="971.6" y1="653.9" x2="971.6" y2="666.9" stroke="#fa1c12" stroke-width="4" />
<text x="938.1" y="656.2" font-size="18.5" text-anchor="middle" fill="#d54848" >M = 0.27</text>
<line x1="900.2" y1="681.8" x2="985.0" y2="681.8" stroke="#f23e3e" stroke-width="4.2" />
<line x1="900.2" y1="675.3" x2="900.2" y2="688.3" stroke="#f23e3e" stroke-width="4" />
<line x1="985.0" y1="675.3" x2="985.0" y2="688.3" stroke="#f23e3e" stroke-width="4" />
<text x="946.0" y="678.4" font-size="18.5" text-anchor="middle" fill="#e25555" >M = 0.36</text>
<text x="1153.8" y="602.5" font-size="18.5" textLength="104.0" lengthAdjust="spacingAndGlyphs" >Evidence | H</text>
<text x="1259.3" y="609.5" font-size="11" >+</text>
<text x="1155.0" y="682.4" font-size="18.5" textLength="104.0" lengthAdjust="spacingAndGlyphs" >Evidence | H</text>
<text x="1260.5" y="689.4" font-size="11" >0</text>
<circle cx="1089.5" cy="637.4" r="22.0" fill="#fff" stroke="none" stroke-width="0" />
<path d="M1067.50,637.40 A22,22 0 0 1 1111.50,637.40 L1089.50,637.40 Z" fill="#fdd6da" stroke="#000" stroke-width="3" stroke-linejoin="miter"/>
<circle cx="1089.5" cy="637.4" r="22.0" fill="none" stroke="#000" stroke-width="3" />
<circle cx="1145.0" cy="637.7" r="22.0" fill="#fff" stroke="none" stroke-width="0" />
<path d="M1125.23,628.06 A22,22 0 0 1 1164.77,628.06 L1145.00,637.70 Z" fill="#f8a3a3" stroke="#000" stroke-width="3" stroke-linejoin="miter"/>
<circle cx="1145.0" cy="637.7" r="22.0" fill="none" stroke="#000" stroke-width="3" />
<circle cx="1201.9" cy="637.4" r="22.0" fill="#fff" stroke="none" stroke-width="0" />
<path d="M1180.23,641.22 A22,22 0 1 1 1223.57,641.22 L1201.90,634.40 Z" fill="#f46b6b" stroke="#000" stroke-width="3" stroke-linejoin="miter"/>
<circle cx="1201.9" cy="637.4" r="22.0" fill="none" stroke="#000" stroke-width="3" />
<circle cx="1257.4" cy="637.4" r="22.0" fill="#fff" stroke="none" stroke-width="0" />
<path d="M1240.92,651.98 A22,22 0 1 1 1273.88,651.98 L1257.40,634.40 Z" fill="#f23e3e" stroke="#000" stroke-width="3" stroke-linejoin="miter"/>
<circle cx="1257.4" cy="637.4" r="22.0" fill="none" stroke="#000" stroke-width="3" />
<circle cx="1316.6" cy="637.0" r="22.0" fill="#fff" stroke="none" stroke-width="0" />
<path d="M1294.72,639.30 A22,22 0 1 1 1338.48,639.30 L1316.60,637.00 Z" fill="#fa1c12" stroke="#000" stroke-width="3" stroke-linejoin="miter"/>
<circle cx="1316.6" cy="637.0" r="22.0" fill="none" stroke="#000" stroke-width="3" />
<rect x="852.0" y="572.0" width="499.4" height="413.0" fill="none" stroke="#000" stroke-width="3" />
<line x1="844.0" y1="966.2" x2="852.0" y2="966.2" stroke="#000" stroke-width="2.4" />
<text x="841.0" y="974.7" font-size="23.5" text-anchor="end" >0</text>
<line x1="844.0" y1="848.6" x2="852.0" y2="848.6" stroke="#000" stroke-width="2.4" />
<text x="841.0" y="857.1" font-size="23.5" text-anchor="end" >1</text>
<line x1="844.0" y1="731.0" x2="852.0" y2="731.0" stroke="#000" stroke-width="2.4" />
<text x="841.0" y="739.5" font-size="23.5" text-anchor="end" >2</text>
<line x1="844.0" y1="613.4" x2="852.0" y2="613.4" stroke="#000" stroke-width="2.4" />
<text x="841.0" y="621.9" font-size="23.5" text-anchor="end" >3</text>
<line x1="892.0" y1="985.0" x2="892.0" y2="993.0" stroke="#000" stroke-width="2.4" />
<text x="892.0" y="1020.0" font-size="23.5" text-anchor="middle" >0</text>
<line x1="1022.3" y1="985.0" x2="1022.3" y2="993.0" stroke="#000" stroke-width="2.4" />
<text x="1022.3" y="1020.0" font-size="23.5" text-anchor="middle" >1</text>
<line x1="1152.6" y1="985.0" x2="1152.6" y2="993.0" stroke="#000" stroke-width="2.4" />
<text x="1152.6" y="1020.0" font-size="23.5" text-anchor="middle" >2</text>
<line x1="1282.9" y1="985.0" x2="1282.9" y2="993.0" stroke="#000" stroke-width="2.4" />
<text x="1282.9" y="1020.0" font-size="23.5" text-anchor="middle" >3</text>
<text x="1085.0" y="1048.0" font-size="27" text-anchor="middle" textLength="154.0" lengthAdjust="spacingAndGlyphs" >Effect size δ</text>
<text x="811.3" y="780.5" font-size="29" text-anchor="middle" textLength="105.0" lengthAdjust="spacingAndGlyphs" transform="rotate(-90 811.3 780.5)" >Density</text>
<text x="1365.0" y="28.0" font-size="32" >C</text>
<line x1="1418.0" y1="39.5" x2="1460.0" y2="39.5" stroke="#000" stroke-width="4.5" />
<text x="1467.7" y="44.5" font-size="22" textLength="115.6" lengthAdjust="spacingAndGlyphs" >default prior</text>
<line x1="1606.7" y1="39.5" x2="1649.2" y2="39.5" stroke="#000" stroke-width="5" stroke-dasharray="4.6,13.4" stroke-linecap="round"/>
<text x="1656.0" y="44.5" font-size="22" textLength="95.6" lengthAdjust="spacingAndGlyphs" >wide prior</text>
<line x1="1775.8" y1="39.5" x2="1818" y2="39.5" stroke="#111" stroke-width="5" stroke-dasharray="1.1,1.35"/>
<text x="1826.0" y="44.5" font-size="22" textLength="138.5" lengthAdjust="spacingAndGlyphs" >ultrawide prior</text>
<line x1="1449.4" y1="72.8" x2="1975" y2="72.8" stroke="#bdbdbd" stroke-width="3" stroke-dasharray="0.1,5.8" stroke-linecap="round"/>
<line x1="1449.4" y1="123.9" x2="1975" y2="123.9" stroke="#bdbdbd" stroke-width="3" stroke-dasharray="0.1,5.8" stroke-linecap="round"/>
<line x1="1449.4" y1="175.0" x2="1975" y2="175.0" stroke="#bdbdbd" stroke-width="3" stroke-dasharray="0.1,5.8" stroke-linecap="round"/>
<line x1="1449.4" y1="226.2" x2="1975" y2="226.2" stroke="#bdbdbd" stroke-width="3" stroke-dasharray="0.1,5.8" stroke-linecap="round"/>
<line x1="1449.4" y1="277.3" x2="1975" y2="277.3" stroke="#bdbdbd" stroke-width="3" stroke-dasharray="0.1,5.8" stroke-linecap="round"/>
<line x1="1449.4" y1="379.5" x2="1975" y2="379.5" stroke="#bdbdbd" stroke-width="3" stroke-dasharray="0.1,5.8" stroke-linecap="round"/>
<line x1="1449.4" y1="430.6" x2="1975" y2="430.6" stroke="#bdbdbd" stroke-width="3" stroke-dasharray="0.1,5.8" stroke-linecap="round"/>
<path d="M1463.8,327.5 L1478.4,321.1 L1493.0,314.8 L1507.6,310.2 L1522.2,312.7 L1536.9,315.2 L1551.5,317.8 L1566.1,320.2 L1580.8,322.6 L1595.4,325.0 L1610.0,324.2 L1624.6,323.4 L1639.2,322.5 L1653.9,321.3 L1668.5,320.1 L1683.1,320.5 L1697.8,321.2 L1712.4,320.9 L1727.0,320.4 L1741.6,319.9 L1756.2,317.8 L1770.9,315.6 L1785.5,313.9 L1800.1,312.5 L1814.8,310.7 L1829.4,308.8 L1844.0,309.3 L1858.6,309.9 L1873.2,307.8 L1887.9,311.8 L1902.5,313.6 L1917.1,315.0" fill="none" stroke="#cfe2ef" stroke-width="3" stroke-linejoin="round"/>
<path d="M1465.2,327.8 L1479.9,322.1 L1494.5,316.3 L1509.1,312.4 L1523.8,314.7 L1538.4,318.1 L1553.0,318.9 L1567.6,322.7 L1582.2,326.7 L1596.9,328.3 L1611.5,328.1 L1626.1,325.4 L1640.8,325.5 L1655.4,323.7 L1670.0,323.2 L1684.6,323.7 L1699.2,323.0 L1713.9,323.2 L1728.5,322.9 L1743.1,323.9 L1757.8,321.4 L1772.4,317.8 L1787.0,317.7 L1801.6,314.6 L1816.2,313.9 L1830.9,310.9 L1845.5,311.1 L1860.1,313.8 L1874.8,310.1 L1889.4,314.1 L1904.0,317.8 L1918.6,318.9" fill="none" stroke="#cfe2ef" stroke-width="3.1" stroke-dasharray="7,7" stroke-linejoin="round"/>
<path d="M1467.8,326.9 L1482.4,323.2 L1497.0,316.2 L1511.6,312.6 L1526.2,314.3 L1540.9,319.7 L1555.5,322.1 L1570.1,326.0 L1584.8,328.8 L1599.4,329.4 L1614.0,328.8 L1628.6,327.4 L1643.2,326.5 L1657.9,325.0 L1672.5,324.5 L1687.1,325.9 L1701.8,324.7 L1716.4,326.4 L1731.0,324.9 L1745.6,324.4 L1760.2,323.7 L1774.9,320.6 L1789.5,318.4 L1804.1,317.4 L1818.8,316.3 L1833.4,312.5 L1848.0,315.8 L1862.6,313.5 L1877.2,313.5 L1891.9,317.8 L1906.5,317.2 L1921.1,320.8" fill="none" stroke="#cfe2ef" stroke-width="3.2" stroke-dasharray="1.1,1.3" stroke-linejoin="round"/>
<path d="M1463.8,328.8 L1478.4,324.3 L1493.0,319.9 L1507.6,316.7 L1522.2,313.7 L1536.9,313.1 L1551.5,312.4 L1566.1,311.2 L1580.8,309.8 L1595.4,306.6 L1610.0,303.3 L1624.6,300.1 L1639.2,297.6 L1653.9,295.2 L1668.5,292.8 L1683.1,290.3 L1697.8,287.9 L1712.4,285.8 L1727.0,283.8 L1741.6,281.0 L1756.2,278.2 L1770.9,274.4 L1785.5,270.2 L1800.1,262.8 L1814.8,255.1 L1829.4,250.2 L1844.0,247.7 L1858.6,245.2 L1873.2,242.8 L1887.9,240.4 L1902.5,237.7 L1917.1,235.1" fill="none" stroke="#93c2df" stroke-width="3" stroke-linejoin="round"/>
<path d="M1465.2,328.4 L1479.9,325.0 L1494.5,319.7 L1509.1,317.1 L1523.8,314.9 L1538.4,316.7 L1553.0,314.6 L1567.6,315.3 L1582.2,314.9 L1596.9,311.6 L1611.5,307.0 L1626.1,303.7 L1640.8,301.7 L1655.4,299.8 L1670.0,295.8 L1684.6,294.9 L1699.2,292.6 L1713.9,290.7 L1728.5,286.7 L1743.1,286.1 L1757.8,281.2 L1772.4,278.0 L1787.0,274.5 L1801.6,267.8 L1816.2,258.7 L1830.9,255.2 L1845.5,251.8 L1860.1,248.8 L1874.8,246.4 L1889.4,243.6 L1904.0,240.7 L1918.6,238.2" fill="none" stroke="#93c2df" stroke-width="3.1" stroke-dasharray="7,7" stroke-linejoin="round"/>
<path d="M1467.8,329.3 L1482.4,326.7 L1497.0,320.6 L1511.6,318.0 L1526.2,318.7 L1540.9,317.5 L1555.5,317.3 L1570.1,316.5 L1584.8,317.1 L1599.4,314.6 L1614.0,310.2 L1628.6,306.8 L1643.2,303.3 L1657.9,303.4 L1672.5,298.3 L1687.1,297.3 L1701.8,295.9 L1716.4,291.7 L1731.0,291.5 L1745.6,289.4 L1760.2,285.6 L1774.9,282.3 L1789.5,276.0 L1804.1,269.6 L1818.8,261.1 L1833.4,258.2 L1848.0,254.1 L1862.6,252.1 L1877.2,251.3 L1891.9,248.4 L1906.5,246.2 L1921.1,241.9 L1935.7,240.4 L1950.3,238.8" fill="none" stroke="#93c2df" stroke-width="3.2" stroke-dasharray="1.1,1.3" stroke-linejoin="round"/>
<path d="M1463.8,327.5 L1478.4,323.7 L1493.0,319.9 L1507.6,316.7 L1522.2,313.7 L1536.9,312.4 L1551.5,311.0 L1566.1,308.6 L1580.8,306.0 L1595.4,300.5 L1610.0,295.0 L1624.6,292.6 L1639.2,290.1 L1653.9,286.5 L1668.5,282.9 L1683.1,284.7 L1697.8,280.8 L1712.4,276.6 L1727.0,272.6 L1741.6,276.1 L1756.2,271.2 L1770.9,269.1 L1785.5,263.0 L1800.1,254.9 L1814.8,248.9 L1829.4,242.8 L1844.0,240.2 L1858.6,233.2 L1873.2,222.6 L1887.9,211.6 L1902.5,208.3 L1917.1,206.3" fill="none" stroke="#4594c8" stroke-width="3" stroke-linejoin="round"/>
<path d="M1465.2,327.5 L1479.9,325.0 L1494.5,321.3 L1509.1,318.5 L1523.8,316.4 L1538.4,315.3 L1553.0,315.2 L1567.6,315.0 L1582.2,313.1 L1596.9,306.8 L1611.5,301.0 L1626.1,298.2 L1640.8,295.1 L1655.4,292.0 L1670.0,289.6 L1684.6,291.6 L1699.2,286.4 L1713.9,283.3 L1728.5,279.3 L1743.1,282.6 L1757.8,277.6 L1772.4,275.7 L1787.0,268.6 L1801.6,261.4 L1816.2,254.3 L1830.9,248.7 L1845.5,246.8 L1860.1,239.6 L1874.8,228.1 L1889.4,218.7 L1904.0,214.7 L1918.6,212.5" fill="none" stroke="#4594c8" stroke-width="3.1" stroke-dasharray="7,7" stroke-linejoin="round"/>
<path d="M1467.8,326.0 L1482.4,325.1 L1497.0,321.6 L1511.6,321.0 L1526.2,318.6 L1540.9,319.6 L1555.5,318.9 L1570.1,318.2 L1584.8,315.5 L1599.4,310.9 L1614.0,305.7 L1628.6,303.5 L1643.2,299.7 L1657.9,297.6 L1672.5,294.0 L1687.1,295.3 L1701.8,292.2 L1716.4,288.0 L1731.0,282.7 L1745.6,286.2 L1760.2,280.2 L1774.9,280.1 L1789.5,274.3 L1804.1,264.9 L1818.8,259.4 L1833.4,253.4 L1848.0,250.9 L1862.6,242.2 L1877.2,233.4 L1891.9,221.8 L1906.5,218.8 L1921.1,216.1 L1935.7,212.8 L1950.3,209.6" fill="none" stroke="#4594c8" stroke-width="3.2" stroke-dasharray="1.1,1.3" stroke-linejoin="round"/>
<path d="M1463.8,325.0 L1478.4,319.9 L1493.0,314.9 L1507.6,312.4 L1522.2,309.9 L1536.9,308.0 L1551.5,302.9 L1566.1,306.0 L1580.8,302.1 L1595.4,294.0 L1610.0,285.8 L1624.6,277.7 L1639.2,273.8 L1653.9,270.0 L1668.5,266.3 L1683.1,267.4 L1697.8,259.6 L1712.4,251.3 L1727.0,242.8 L1741.6,252.5 L1756.2,253.8 L1770.9,246.4 L1785.5,239.1 L1800.1,229.2 L1814.8,219.2 L1829.4,209.2 L1844.0,204.7 L1858.6,200.4 L1873.2,191.2 L1887.9,181.4 L1902.5,180.0 L1917.1,173.9" fill="none" stroke="#2468b0" stroke-width="3" stroke-linejoin="round"/>
<path d="M1465.2,325.3 L1479.9,321.3 L1494.5,316.7 L1509.1,315.1 L1523.8,311.8 L1538.4,310.9 L1553.0,307.2 L1567.6,311.6 L1582.2,307.4 L1596.9,300.4 L1611.5,292.1 L1626.1,282.6 L1640.8,279.7 L1655.4,275.3 L1670.0,271.2 L1684.6,272.6 L1699.2,265.1 L1713.9,256.6 L1728.5,248.1 L1743.1,257.4 L1757.8,259.7 L1772.4,252.2 L1787.0,245.4 L1801.6,235.5 L1816.2,224.6 L1830.9,216.1 L1845.5,209.5 L1860.1,206.2 L1874.8,196.6 L1889.4,187.2 L1904.0,185.1 L1918.6,180.7" fill="none" stroke="#2468b0" stroke-width="3.1" stroke-dasharray="7,7" stroke-linejoin="round"/>
<path d="M1467.8,324.6 L1482.4,319.8 L1497.0,317.8 L1511.6,314.9 L1526.2,315.0 L1540.9,313.7 L1555.5,310.6 L1570.1,316.1 L1584.8,313.0 L1599.4,303.7 L1614.0,296.8 L1628.6,288.1 L1643.2,283.4 L1657.9,278.9 L1672.5,276.6 L1687.1,277.6 L1701.8,271.0 L1716.4,262.7 L1731.0,253.1 L1745.6,262.1 L1760.2,264.9 L1774.9,254.9 L1789.5,247.9 L1804.1,239.4 L1818.8,229.6 L1833.4,218.1 L1848.0,215.1 L1862.6,211.6 L1877.2,200.8 L1891.9,191.2 L1906.5,189.2 L1921.1,183.3 L1935.7,179.8 L1950.3,176.4" fill="none" stroke="#2468b0" stroke-width="3.2" stroke-dasharray="1.1,1.3" stroke-linejoin="round"/>
<path d="M1463.8,318.8 L1478.4,314.9 L1493.0,311.3 L1507.6,313.2 L1522.2,307.5 L1536.9,306.6 L1551.5,300.4 L1566.1,303.4 L1580.8,298.4 L1595.4,292.3 L1610.0,283.8 L1624.6,275.2 L1639.2,271.0 L1653.9,263.7 L1668.5,255.1 L1683.1,259.8 L1697.8,252.1 L1712.4,243.8 L1727.0,235.3 L1741.6,237.2 L1756.2,227.5 L1770.9,221.4 L1785.5,215.3 L1800.1,204.9 L1814.8,194.6 L1829.4,184.2 L1844.0,180.2 L1858.6,169.8 L1873.2,158.3 L1887.9,146.7 L1902.5,143.9 L1917.1,137.7" fill="none" stroke="#0a3169" stroke-width="3" stroke-linejoin="round"/>
<path d="M1465.2,319.9 L1479.9,314.9 L1494.5,312.9 L1509.1,314.9 L1523.8,308.7 L1538.4,307.2 L1553.0,303.0 L1567.6,305.1 L1582.2,300.2 L1596.9,293.8 L1611.5,286.9 L1626.1,277.2 L1640.8,272.5 L1655.4,265.6 L1670.0,256.2 L1684.6,262.1 L1699.2,254.0 L1713.9,245.3 L1728.5,238.0 L1743.1,240.0 L1757.8,228.3 L1772.4,223.5 L1787.0,216.8 L1801.6,208.0 L1816.2,197.2 L1830.9,185.6 L1845.5,181.7 L1860.1,171.0 L1874.8,161.4 L1889.4,148.2 L1904.0,146.1 L1918.6,139.6" fill="none" stroke="#0a3169" stroke-width="3.1" stroke-dasharray="7,7" stroke-linejoin="round"/>
<path d="M1467.8,319.2 L1482.4,315.7 L1497.0,313.1 L1511.6,313.5 L1526.2,310.3 L1540.9,308.5 L1555.5,303.5 L1570.1,306.4 L1584.8,301.8 L1599.4,296.4 L1614.0,287.6 L1628.6,278.8 L1643.2,275.7 L1657.9,267.9 L1672.5,257.8 L1687.1,263.0 L1701.8,256.0 L1716.4,249.1 L1731.0,240.5 L1745.6,241.4 L1760.2,230.0 L1774.9,226.2 L1789.5,219.1 L1804.1,209.1 L1818.8,199.2 L1833.4,188.6 L1848.0,184.2 L1862.6,175.0 L1877.2,161.9 L1891.9,150.4 L1906.5,148.9 L1921.1,140.8 L1935.7,136.6" fill="none" stroke="#0a3169" stroke-width="3.2" stroke-dasharray="1.1,1.3" stroke-linejoin="round"/>
<line x1="1443.4" y1="328.4" x2="1972.0" y2="328.4" stroke="#000" stroke-width="3" />
<line x1="1443.4" y1="71.7" x2="1443.4" y2="449.0" stroke="#000" stroke-width="2.6" />
<line x1="1442.2" y1="447.8" x2="1972.0" y2="447.8" stroke="#000" stroke-width="2.6" />
<line x1="1437.4" y1="72.8" x2="1443.4" y2="72.8" stroke="#000" stroke-width="2.6" />
<line x1="1437.4" y1="123.9" x2="1443.4" y2="123.9" stroke="#000" stroke-width="2.6" />
<line x1="1437.4" y1="175.0" x2="1443.4" y2="175.0" stroke="#000" stroke-width="2.6" />
<line x1="1437.4" y1="226.2" x2="1443.4" y2="226.2" stroke="#000" stroke-width="2.6" />
<line x1="1437.4" y1="277.3" x2="1443.4" y2="277.3" stroke="#000" stroke-width="2.6" />
<line x1="1437.4" y1="328.4" x2="1443.4" y2="328.4" stroke="#000" stroke-width="2.6" />
<line x1="1437.4" y1="379.5" x2="1443.4" y2="379.5" stroke="#000" stroke-width="2.6" />
<line x1="1437.4" y1="430.6" x2="1443.4" y2="430.6" stroke="#000" stroke-width="2.6" />
<line x1="1456.4" y1="447.8" x2="1456.4" y2="454.8" stroke="#000" stroke-width="2.6" />
<text x="1456.4" y="479.0" font-size="23.5" text-anchor="middle" >0</text>
<line x1="1529.9" y1="447.8" x2="1529.9" y2="454.8" stroke="#000" stroke-width="2.6" />
<text x="1529.9" y="479.0" font-size="23.5" text-anchor="middle" >5</text>
<line x1="1603.3" y1="447.8" x2="1603.3" y2="454.8" stroke="#000" stroke-width="2.6" />
<text x="1603.3" y="479.0" font-size="23.5" text-anchor="middle" >10</text>
<line x1="1676.8" y1="447.8" x2="1676.8" y2="454.8" stroke="#000" stroke-width="2.6" />
<text x="1676.8" y="479.0" font-size="23.5" text-anchor="middle" >15</text>
<line x1="1750.2" y1="447.8" x2="1750.2" y2="454.8" stroke="#000" stroke-width="2.6" />
<text x="1750.2" y="479.0" font-size="23.5" text-anchor="middle" >20</text>
<line x1="1823.7" y1="447.8" x2="1823.7" y2="454.8" stroke="#000" stroke-width="2.6" />
<text x="1823.7" y="479.0" font-size="23.5" text-anchor="middle" >25</text>
<line x1="1897.1" y1="447.8" x2="1897.1" y2="454.8" stroke="#000" stroke-width="2.6" />
<text x="1897.1" y="479.0" font-size="23.5" text-anchor="middle" >30</text>
<line x1="1970.6" y1="447.8" x2="1970.6" y2="454.8" stroke="#000" stroke-width="2.6" />
<text x="1970.6" y="479.0" font-size="23.5" text-anchor="middle" >35</text>
<text x="1400.5" y="76.3" font-size="23" >10</text>
<text x="1425.6" y="68.3" font-size="13.5" >10</text>
<text x="1400.5" y="127.4" font-size="23" >10</text>
<text x="1425.6" y="119.4" font-size="13.5" >8</text>
<text x="1400.5" y="178.5" font-size="23" >10</text>
<text x="1425.6" y="170.5" font-size="13.5" >6</text>
<text x="1400.5" y="229.7" font-size="23" >10</text>
<text x="1425.6" y="221.7" font-size="13.5" >4</text>
<text x="1400.5" y="280.8" font-size="23" >10</text>
<text x="1425.6" y="272.8" font-size="13.5" >2</text>
<text x="1400.5" y="383.0" font-size="23" >10</text>
<text x="1425.6" y="375.0" font-size="13.5" >-2</text>
<text x="1400.5" y="434.1" font-size="23" >10</text>
<text x="1425.6" y="426.1" font-size="13.5" >-4</text>
<text x="1434.0" y="336.9" font-size="23.5" text-anchor="end" >1</text>
<line x1="1973.2" y1="74.8" x2="1973.2" y2="318.6" stroke="#000" stroke-width="2.6" />
<line x1="1973.2" y1="337.2" x2="1973.2" y2="429.9" stroke="#000" stroke-width="2.6" />
<path d="M1973.2,62.8 L1983.7,81.8 L1973.2,77.8 L1962.7,81.8 Z" fill="#000" stroke="none" stroke-width="0" />
<path d="M1973.2,441.9 L1983.7,422.9 L1973.2,426.9 L1962.7,422.9 Z" fill="#000" stroke="none" stroke-width="0" />
<line x1="1962.7" y1="318.6" x2="1983.7" y2="318.6" stroke="#000" stroke-width="3.2" />
<line x1="1962.7" y1="337.2" x2="1983.7" y2="337.2" stroke="#000" stroke-width="3.2" />
<text x="1784.0" y="298.0" font-size="23.5" textLength="162.0" lengthAdjust="spacingAndGlyphs" >Evidence for H</text>
<text x="1949.0" y="307.5" font-size="15" >+</text>
<text x="1786.0" y="359.0" font-size="23.5" textLength="160.0" lengthAdjust="spacingAndGlyphs" >Evidence for H</text>
<text x="1949.0" y="368.0" font-size="15" >0</text>
<text x="1717.6" y="507.0" font-size="28" text-anchor="middle" textLength="284.0" lengthAdjust="spacingAndGlyphs" >Number of participants</text>
<g transform="rotate(-90 1395 291)"><text x="1395" y="291" font-size="29">BF</text><text x="1433.1" y="300" font-size="17">+0</text></g>
<text x="1382.0" y="569.6" font-size="32" >F</text>
<line x1="1432.0" y1="582.8" x2="1474.0" y2="582.8" stroke="#000" stroke-width="4.5" />
<text x="1482.0" y="589.5" font-size="22" textLength="115.6" lengthAdjust="spacingAndGlyphs" >default prior</text>
<line x1="1621.5" y1="582.8" x2="1663" y2="582.8" stroke="#000" stroke-width="5" stroke-dasharray="4.6,13.4" stroke-linecap="round"/>
<text x="1670.0" y="589.5" font-size="22" textLength="95.6" lengthAdjust="spacingAndGlyphs" >wide prior</text>
<line x1="1790" y1="582.8" x2="1831.5" y2="582.8" stroke="#111" stroke-width="5" stroke-dasharray="1.1,1.35"/>
<text x="1840.0" y="589.5" font-size="22" textLength="138.5" lengthAdjust="spacingAndGlyphs" >ultrawide prior</text>
<line x1="1463.3" y1="616.4" x2="1990" y2="616.4" stroke="#bdbdbd" stroke-width="3" stroke-dasharray="0.1,5.8" stroke-linecap="round"/>
<line x1="1463.3" y1="692.4" x2="1990" y2="692.4" stroke="#bdbdbd" stroke-width="3" stroke-dasharray="0.1,5.8" stroke-linecap="round"/>
<line x1="1463.3" y1="831.2" x2="1990" y2="831.2" stroke="#bdbdbd" stroke-width="3" stroke-dasharray="0.1,5.8" stroke-linecap="round"/>
<line x1="1463.3" y1="907.2" x2="1990" y2="907.2" stroke="#bdbdbd" stroke-width="3" stroke-dasharray="0.1,5.8" stroke-linecap="round"/>
<line x1="1463.3" y1="976.6" x2="1990" y2="976.6" stroke="#bdbdbd" stroke-width="3" stroke-dasharray="0.1,5.8" stroke-linecap="round"/>
<path d="M1466.2,755.0 L1481.7,775.0 L1497.2,773.8 L1512.7,755.0 L1528.2,777.5 L1543.6,777.5 L1559.1,787.5 L1574.6,787.5 L1590.0,785.0 L1605.5,760.0 L1621.0,745.0 L1636.5,795.0 L1652.0,787.5 L1667.4,800.0 L1682.9,820.0 L1698.4,797.5 L1713.8,791.2 L1729.3,775.0 L1744.8,775.0 L1760.3,766.2 L1775.8,790.0 L1791.2,782.5 L1806.7,777.5 L1822.2,780.0 L1837.7,775.0 L1853.1,781.2 L1868.6,787.5 L1884.1,787.5 L1899.5,777.5 L1915.0,765.0 L1930.5,761.2 L1946.0,760.0" fill="none" stroke="#fbbcc2" stroke-width="3" stroke-linejoin="round"/>
<path d="M1466.2,757.3 L1481.7,777.2 L1497.2,784.3 L1512.7,770.7 L1528.2,798.6 L1543.6,796.9 L1559.1,804.9 L1574.6,805.6 L1590.0,805.6 L1605.5,778.1 L1621.0,762.4 L1636.5,814.1 L1652.0,807.3 L1667.4,820.2 L1682.9,837.2 L1698.4,819.2 L1713.8,810.3 L1729.3,796.7 L1744.8,792.1 L1760.3,789.0 L1775.8,810.5 L1791.2,805.4 L1806.7,800.4 L1822.2,802.0 L1837.7,792.6 L1853.1,800.3 L1868.6,805.9 L1884.1,809.2 L1899.5,795.7 L1915.0,783.3 L1930.5,778.9 L1946.0,777.7" fill="none" stroke="#fbbcc2" stroke-width="3.1" stroke-dasharray="7,7" stroke-linejoin="round"/>
<path d="M1466.2,758.5 L1481.7,788.8 L1497.2,792.7 L1512.7,786.9 L1528.2,817.2 L1543.6,817.7 L1559.1,826.5 L1574.6,828.6 L1590.0,822.9 L1605.5,798.1 L1621.0,785.1 L1636.5,832.6 L1652.0,827.0 L1667.4,843.6 L1682.9,856.2 L1698.4,834.3 L1713.8,833.6 L1729.3,811.5 L1744.8,813.0 L1760.3,809.1 L1775.8,830.8 L1791.2,820.3 L1806.7,814.0 L1822.2,818.2 L1837.7,813.4 L1853.1,823.7 L1868.6,831.3 L1884.1,829.8 L1899.5,820.7 L1915.0,808.4 L1930.5,804.3 L1946.0,803.4" fill="none" stroke="#fbbcc2" stroke-width="3.2" stroke-dasharray="1.1,1.3" stroke-linejoin="round"/>
<path d="M1466.2,755.0 L1481.7,787.5 L1497.2,770.0 L1512.7,755.0 L1528.2,815.0 L1543.6,797.5 L1559.1,787.5 L1574.6,800.0 L1590.0,822.5 L1605.5,818.8 L1621.0,810.0 L1636.5,820.0 L1652.0,815.0 L1667.4,822.5 L1682.9,835.0 L1698.4,832.5 L1713.8,825.0 L1729.3,830.0 L1744.8,830.0 L1760.3,831.2 L1775.8,827.5 L1791.2,835.0 L1806.7,820.0 L1822.2,797.5 L1837.7,795.0 L1853.1,797.5 L1868.6,780.0 L1884.1,775.0 L1899.5,780.0 L1915.0,757.5 L1930.5,743.8 L1946.0,745.5" fill="none" stroke="#f8a3a3" stroke-width="3" stroke-linejoin="round"/>
<path d="M1466.2,755.7 L1481.7,795.3 L1497.2,779.1 L1512.7,767.8 L1528.2,835.4 L1543.6,815.3 L1559.1,805.0 L1574.6,820.3 L1590.0,843.7 L1605.5,836.1 L1621.0,829.7 L1636.5,841.2 L1652.0,836.6 L1667.4,841.8 L1682.9,857.3 L1698.4,850.5 L1713.8,846.3 L1729.3,851.6 L1744.8,852.3 L1760.3,851.2 L1775.8,845.1 L1791.2,852.3 L1806.7,840.2 L1822.2,815.5 L1837.7,815.8 L1853.1,815.0 L1868.6,801.7 L1884.1,793.3 L1899.5,797.1 L1915.0,775.6 L1930.5,763.5 L1946.0,765.9" fill="none" stroke="#f8a3a3" stroke-width="3.1" stroke-dasharray="7,7" stroke-linejoin="round"/>
<path d="M1466.2,754.1 L1481.7,794.9 L1497.2,789.9 L1512.7,788.6 L1528.2,855.3 L1543.6,841.0 L1559.1,823.7 L1574.6,843.9 L1590.0,865.6 L1605.5,859.1 L1621.0,850.2 L1636.5,860.3 L1652.0,858.3 L1667.4,859.0 L1682.9,876.1 L1698.4,872.8 L1713.8,863.4 L1729.3,871.8 L1744.8,871.8 L1760.3,868.1 L1775.8,869.1 L1791.2,874.6 L1806.7,859.9 L1822.2,838.6 L1837.7,831.4 L1853.1,838.3 L1868.6,819.0 L1884.1,818.0 L1899.5,817.8 L1915.0,800.1 L1930.5,785.6 L1946.0,786.5" fill="none" stroke="#f8a3a3" stroke-width="3.2" stroke-dasharray="1.1,1.3" stroke-linejoin="round"/>
<path d="M1466.2,755.0 L1481.7,757.5 L1497.2,747.5 L1512.7,757.5 L1528.2,820.0 L1543.6,797.5 L1559.1,785.0 L1574.6,800.0 L1590.0,820.0 L1605.5,820.0 L1621.0,815.0 L1636.5,817.5 L1652.0,816.2 L1667.4,830.0 L1682.9,835.0 L1698.4,835.0 L1713.8,827.5 L1729.3,830.0 L1744.8,840.0 L1760.3,855.0 L1775.8,852.5 L1791.2,845.0 L1806.7,835.0 L1822.2,820.0 L1837.7,805.0 L1853.1,805.0 L1868.6,802.5 L1884.1,800.0 L1899.5,797.5 L1915.0,793.8 L1930.5,795.0 L1946.0,797.0" fill="none" stroke="#f46b6b" stroke-width="3" stroke-linejoin="round"/>
<path d="M1466.2,757.8 L1481.7,760.1 L1497.2,756.4 L1512.7,771.0 L1528.2,840.6 L1543.6,817.5 L1559.1,804.1 L1574.6,822.0 L1590.0,839.4 L1605.5,838.3 L1621.0,833.7 L1636.5,837.3 L1652.0,836.9 L1667.4,850.4 L1682.9,854.6 L1698.4,853.1 L1713.8,846.9 L1729.3,849.0 L1744.8,858.0 L1760.3,875.3 L1775.8,870.6 L1791.2,866.3 L1806.7,856.0 L1822.2,837.8 L1837.7,825.8 L1853.1,824.0 L1868.6,822.2 L1884.1,820.6 L1899.5,819.1 L1915.0,816.1 L1930.5,816.4 L1946.0,815.3" fill="none" stroke="#f46b6b" stroke-width="3.1" stroke-dasharray="7,7" stroke-linejoin="round"/>
<path d="M1466.2,755.3 L1481.7,766.2 L1497.2,763.7 L1512.7,787.9 L1528.2,859.8 L1543.6,840.4 L1559.1,823.6 L1574.6,842.7 L1590.0,860.1 L1605.5,856.8 L1621.0,856.7 L1636.5,855.8 L1652.0,856.5 L1667.4,866.6 L1682.9,871.1 L1698.4,878.4 L1713.8,863.8 L1729.3,867.2 L1744.8,877.3 L1760.3,891.8 L1775.8,895.1 L1791.2,889.0 L1806.7,876.2 L1822.2,859.2 L1837.7,848.1 L1853.1,845.0 L1868.6,839.6 L1884.1,841.5 L1899.5,836.4 L1915.0,831.9 L1930.5,833.6 L1946.0,836.1" fill="none" stroke="#f46b6b" stroke-width="3.2" stroke-dasharray="1.1,1.3" stroke-linejoin="round"/>
<path d="M1466.2,755.0 L1481.7,743.8 L1497.2,725.0 L1512.7,717.5 L1528.2,753.8 L1543.6,770.0 L1559.1,761.2 L1574.6,781.2 L1590.0,781.2 L1605.5,752.5 L1621.0,726.2 L1636.5,761.2 L1652.0,747.5 L1667.4,772.5 L1682.9,805.0 L1698.4,798.8 L1713.8,792.5 L1729.3,802.5 L1744.8,807.5 L1760.3,808.8 L1775.8,797.5 L1791.2,782.5 L1806.7,760.0 L1822.2,730.0 L1837.7,711.2 L1853.1,728.8 L1868.6,723.8 L1884.1,703.8 L1899.5,702.5 L1915.0,698.8 L1930.5,693.8 L1946.0,689.5" fill="none" stroke="#f23e3e" stroke-width="3" stroke-linejoin="round"/>
<path d="M1466.2,754.8 L1481.7,748.0 L1497.2,732.8 L1512.7,734.7 L1528.2,770.8 L1543.6,790.0 L1559.1,783.6 L1574.6,798.7 L1590.0,801.6 L1605.5,773.2 L1621.0,743.5 L1636.5,780.5 L1652.0,768.7 L1667.4,792.2 L1682.9,826.4 L1698.4,816.7 L1713.8,810.9 L1729.3,820.2 L1744.8,827.5 L1760.3,831.3 L1775.8,818.0 L1791.2,804.1 L1806.7,779.3 L1822.2,751.5 L1837.7,728.9 L1853.1,747.5 L1868.6,744.8 L1884.1,725.1 L1899.5,722.0 L1915.0,716.3 L1930.5,712.4 L1946.0,707.8" fill="none" stroke="#f23e3e" stroke-width="3.1" stroke-dasharray="7,7" stroke-linejoin="round"/>
<path d="M1466.2,753.2 L1481.7,756.2 L1497.2,742.6 L1512.7,750.6 L1528.2,796.8 L1543.6,806.4 L1559.1,800.3 L1574.6,821.2 L1590.0,817.4 L1605.5,791.9 L1621.0,769.5 L1636.5,798.1 L1652.0,788.3 L1667.4,809.5 L1682.9,845.6 L1698.4,841.9 L1713.8,830.1 L1729.3,838.6 L1744.8,844.2 L1760.3,849.1 L1775.8,833.6 L1791.2,819.2 L1806.7,800.0 L1822.2,773.4 L1837.7,750.6 L1853.1,767.9 L1868.6,764.9 L1884.1,740.5 L1899.5,743.1 L1915.0,736.1 L1930.5,734.6 L1946.0,733.2" fill="none" stroke="#f23e3e" stroke-width="3.2" stroke-dasharray="1.1,1.3" stroke-linejoin="round"/>
<path d="M1466.2,755.0 L1481.7,743.8 L1497.2,733.8 L1512.7,740.0 L1528.2,790.0 L1543.6,796.2 L1559.1,795.0 L1574.6,807.5 L1590.0,822.5 L1605.5,790.0 L1621.0,770.0 L1636.5,811.2 L1652.0,810.0 L1667.4,811.2 L1682.9,827.5 L1698.4,822.5 L1713.8,811.2 L1729.3,818.8 L1744.8,815.0 L1760.3,815.0 L1775.8,810.0 L1791.2,802.5 L1806.7,787.5 L1822.2,767.5 L1837.7,743.8 L1853.1,775.0 L1868.6,772.5 L1884.1,775.0 L1899.5,762.5 L1915.0,755.0 L1930.5,751.2 L1946.0,747.0" fill="none" stroke="#fa1c12" stroke-width="3" stroke-linejoin="round"/>
<path d="M1466.2,752.3 L1481.7,749.1 L1497.2,744.4 L1512.7,752.9 L1528.2,808.6 L1543.6,819.2 L1559.1,818.0 L1574.6,825.2 L1590.0,843.7 L1605.5,812.7 L1621.0,788.4 L1636.5,831.9 L1652.0,827.3 L1667.4,830.4 L1682.9,848.5 L1698.4,843.0 L1713.8,832.9 L1729.3,836.3 L1744.8,834.1 L1760.3,837.2 L1775.8,830.5 L1791.2,822.2 L1806.7,806.9 L1822.2,790.4 L1837.7,764.2 L1853.1,792.1 L1868.6,794.3 L1884.1,794.0 L1899.5,782.1 L1915.0,773.3 L1930.5,770.9 L1946.0,765.9" fill="none" stroke="#fa1c12" stroke-width="3.1" stroke-dasharray="7,7" stroke-linejoin="round"/>
<path d="M1466.2,751.7 L1481.7,754.8 L1497.2,750.6 L1512.7,772.3 L1528.2,826.2 L1543.6,838.5 L1559.1,837.5 L1574.6,847.5 L1590.0,864.2 L1605.5,828.0 L1621.0,811.9 L1636.5,850.7 L1652.0,847.8 L1667.4,855.0 L1682.9,866.7 L1698.4,861.5 L1713.8,854.1 L1729.3,857.7 L1744.8,856.3 L1760.3,852.4 L1775.8,852.7 L1791.2,840.6 L1806.7,823.9 L1822.2,811.3 L1837.7,781.1 L1853.1,818.6 L1868.6,816.4 L1884.1,815.9 L1899.5,798.6 L1915.0,791.5 L1930.5,788.9 L1946.0,786.1" fill="none" stroke="#fa1c12" stroke-width="3.2" stroke-dasharray="1.1,1.3" stroke-linejoin="round"/>
<line x1="1457.3" y1="761.8" x2="1986.0" y2="761.8" stroke="#000" stroke-width="3" />
<line x1="1457.3" y1="615.0" x2="1457.3" y2="992.8" stroke="#000" stroke-width="2.6" />
<line x1="1456.1" y1="991.6" x2="1986.0" y2="991.6" stroke="#000" stroke-width="2.6" />
<line x1="1451.3" y1="616.4" x2="1457.3" y2="616.4" stroke="#000" stroke-width="2.6" />
<line x1="1451.3" y1="692.4" x2="1457.3" y2="692.4" stroke="#000" stroke-width="2.6" />
<line x1="1451.3" y1="761.8" x2="1457.3" y2="761.8" stroke="#000" stroke-width="2.6" />
<line x1="1451.3" y1="831.2" x2="1457.3" y2="831.2" stroke="#000" stroke-width="2.6" />
<line x1="1451.3" y1="907.2" x2="1457.3" y2="907.2" stroke="#000" stroke-width="2.6" />
<line x1="1451.3" y1="976.6" x2="1457.3" y2="976.6" stroke="#000" stroke-width="2.6" />
<line x1="1470.5" y1="991.6" x2="1470.5" y2="998.6" stroke="#000" stroke-width="2.6" />
<text x="1470.5" y="1022.5" font-size="23.5" text-anchor="middle" >0</text>
<line x1="1544.0" y1="991.6" x2="1544.0" y2="998.6" stroke="#000" stroke-width="2.6" />
<text x="1544.0" y="1022.5" font-size="23.5" text-anchor="middle" >5</text>
<line x1="1617.6" y1="991.6" x2="1617.6" y2="998.6" stroke="#000" stroke-width="2.6" />
<text x="1617.6" y="1022.5" font-size="23.5" text-anchor="middle" >10</text>
<line x1="1691.2" y1="991.6" x2="1691.2" y2="998.6" stroke="#000" stroke-width="2.6" />
<text x="1691.2" y="1022.5" font-size="23.5" text-anchor="middle" >15</text>
<line x1="1764.7" y1="991.6" x2="1764.7" y2="998.6" stroke="#000" stroke-width="2.6" />
<text x="1764.7" y="1022.5" font-size="23.5" text-anchor="middle" >20</text>
<line x1="1838.2" y1="991.6" x2="1838.2" y2="998.6" stroke="#000" stroke-width="2.6" />
<text x="1838.2" y="1022.5" font-size="23.5" text-anchor="middle" >25</text>
<line x1="1911.8" y1="991.6" x2="1911.8" y2="998.6" stroke="#000" stroke-width="2.6" />
<text x="1911.8" y="1022.5" font-size="23.5" text-anchor="middle" >30</text>
<line x1="1985.3" y1="991.6" x2="1985.3" y2="998.6" stroke="#000" stroke-width="2.6" />
<text x="1985.3" y="1022.5" font-size="23.5" text-anchor="middle" >35</text>
<text x="1449.0" y="624.9" font-size="23.5" text-anchor="end" >10</text>
<text x="1449.0" y="700.9" font-size="23.5" text-anchor="end" >3</text>
<text x="1449.0" y="770.3" font-size="23.5" text-anchor="end" >1</text>
<text x="1449.0" y="839.7" font-size="23.5" text-anchor="end" >1/3</text>
<text x="1449.0" y="985.1" font-size="23.5" text-anchor="end" >1/30</text>
<text x="1409.0" y="915.7" font-size="23" >10</text>
<text x="1434.1" y="907.7" font-size="13.5" >-1</text>
<line x1="1988.0" y1="619.5" x2="1988.0" y2="750.0" stroke="#000" stroke-width="2.6" />
<line x1="1988.0" y1="772.3" x2="1988.0" y2="973.0" stroke="#000" stroke-width="2.6" />
<path d="M1988.0,607.5 L1998.5,626.5 L1988.0,622.5 L1977.5,626.5 Z" fill="#000" stroke="none" stroke-width="0" />
<path d="M1988.0,985.0 L1998.5,966.0 L1988.0,970.0 L1977.5,966.0 Z" fill="#000" stroke="none" stroke-width="0" />
<line x1="1977.5" y1="750.0" x2="1998.5" y2="750.0" stroke="#000" stroke-width="3.2" />
<line x1="1977.5" y1="772.3" x2="1998.5" y2="772.3" stroke="#000" stroke-width="3.2" />
<text x="1808.4" y="665.0" font-size="23.5" textLength="162.0" lengthAdjust="spacingAndGlyphs" >Evidence for H</text>
<text x="1973.4" y="674.5" font-size="15" >+</text>
<text x="1811.0" y="945.5" font-size="23.5" textLength="160.0" lengthAdjust="spacingAndGlyphs" >Evidence for H</text>
<text x="1974.0" y="954.5" font-size="15" >0</text>
<text x="1732.0" y="1051.0" font-size="28" text-anchor="middle" textLength="284.0" lengthAdjust="spacingAndGlyphs" >Number of participants</text>
<g transform="rotate(-90 1398 787)"><text x="1398" y="787" font-size="29">BF</text><text x="1436.1" y="796" font-size="17">+0</text></g>
<text x="16.0" y="1096.5" font-size="32.5" >G</text>
<text x="370.5" y="1105.5" font-size="27.5" text-anchor="middle" textLength="521.8" lengthAdjust="spacingAndGlyphs" >Difference in M-ratio between asynchronies</text>
<line x1="288.5" y1="1135" x2="288.5" y2="1521" stroke="#b0b0b0" stroke-width="2" stroke-dasharray="3,3"/>
<g fill="#6aaed6" stroke="#1a1a1a" stroke-width="1.2"><rect x="140.15" y="1519.56" width="6.45" height="1.94"/><rect x="146.60" y="1520.39" width="6.45" height="1.11"/><rect x="153.05" y="1520.95" width="6.45" height="0.55"/><rect x="159.50" y="1520.95" width="6.45" height="0.55"/><rect x="165.95" y="1520.67" width="6.45" height="0.83"/><rect x="172.40" y="1519.84" width="6.45" height="1.66"/><rect x="178.85" y="1520.39" width="6.45" height="1.11"/><rect x="185.30" y="1520.67" width="6.45" height="0.83"/><rect x="191.75" y="1518.46" width="6.45" height="3.04"/><rect x="198.20" y="1520.12" width="6.45" height="1.38"/><rect x="204.65" y="1518.46" width="6.45" height="3.04"/><rect x="211.10" y="1517.07" width="6.45" height="4.43"/><rect x="217.55" y="1515.41" width="6.45" height="6.09"/><rect x="224.00" y="1511.82" width="6.45" height="9.68"/><rect x="230.45" y="1506.56" width="6.45" height="14.94"/><rect x="236.90" y="1499.65" width="6.45" height="21.85"/><rect x="243.35" y="1496.61" width="6.45" height="24.89"/><rect x="249.80" y="1488.58" width="6.45" height="32.92"/><rect x="256.25" y="1492.46" width="6.45" height="29.04"/><rect x="262.70" y="1466.46" width="6.45" height="55.04"/><rect x="269.15" y="1467.01" width="6.45" height="54.49"/><rect x="275.60" y="1455.39" width="6.45" height="66.11"/><rect x="282.05" y="1436.58" width="6.45" height="84.92"/><rect x="288.50" y="1426.63" width="6.45" height="94.87"/><rect x="294.95" y="1420.82" width="6.45" height="100.68"/><rect x="301.40" y="1394.82" width="6.45" height="126.68"/><rect x="307.85" y="1382.65" width="6.45" height="138.85"/><rect x="314.30" y="1375.46" width="6.45" height="146.04"/><rect x="320.75" y="1347.52" width="6.45" height="173.98"/><rect x="327.20" y="1315.71" width="6.45" height="205.79"/><rect x="333.65" y="1297.45" width="6.45" height="224.05"/><rect x="340.10" y="1281.96" width="6.45" height="239.54"/><rect x="346.55" y="1260.39" width="6.45" height="261.11"/><rect x="353.00" y="1246.28" width="6.45" height="275.22"/><rect x="359.45" y="1225.54" width="6.45" height="295.96"/><rect x="365.90" y="1212.54" width="6.45" height="308.96"/><rect x="372.35" y="1208.39" width="6.45" height="313.11"/><rect x="378.80" y="1189.03" width="6.45" height="332.47"/><rect x="385.25" y="1205.62" width="6.45" height="315.88"/><rect x="391.70" y="1187.37" width="6.45" height="334.13"/><rect x="398.15" y="1199.81" width="6.45" height="321.69"/><rect x="404.60" y="1185.71" width="6.45" height="335.79"/><rect x="411.05" y="1195.94" width="6.45" height="325.56"/><rect x="417.50" y="1215.58" width="6.45" height="305.92"/><rect x="423.95" y="1239.64" width="6.45" height="281.86"/><rect x="430.40" y="1236.33" width="6.45" height="285.17"/><rect x="436.85" y="1276.16" width="6.45" height="245.34"/><rect x="443.30" y="1283.07" width="6.45" height="238.43"/><rect x="449.75" y="1286.39" width="6.45" height="235.11"/><rect x="456.20" y="1308.52" width="6.45" height="212.98"/><rect x="462.65" y="1350.84" width="6.45" height="170.66"/><rect x="469.10" y="1364.11" width="6.45" height="157.39"/><rect x="475.55" y="1386.24" width="6.45" height="135.26"/><rect x="482.00" y="1402.84" width="6.45" height="118.66"/><rect x="488.45" y="1411.69" width="6.45" height="109.81"/><rect x="494.90" y="1430.50" width="6.45" height="91.00"/><rect x="501.35" y="1437.14" width="6.45" height="84.36"/><rect x="507.80" y="1450.14" width="6.45" height="71.36"/><rect x="514.25" y="1454.29" width="6.45" height="67.21"/><rect x="520.70" y="1466.46" width="6.45" height="55.04"/><rect x="527.15" y="1480.56" width="6.45" height="40.94"/><rect x="533.60" y="1489.69" width="6.45" height="31.81"/><rect x="540.05" y="1501.58" width="6.45" height="19.92"/><rect x="546.50" y="1510.71" width="6.45" height="10.79"/><rect x="552.95" y="1511.82" width="6.45" height="9.68"/><rect x="559.40" y="1515.69" width="6.45" height="5.81"/><rect x="565.85" y="1517.90" width="6.45" height="3.60"/><rect x="572.30" y="1520.39" width="6.45" height="1.11"/><rect x="578.75" y="1519.84" width="6.45" height="1.66"/></g>
<line x1="272.7" y1="1510.0" x2="495.2" y2="1510.0" stroke="#000" stroke-width="6.5" />
<line x1="136.5" y1="1186.0" x2="174.3" y2="1186.0" stroke="#000" stroke-width="6.5" />
<text x="182.0" y="1193.5" font-size="24.5" fill="#262626" textLength="82.5" lengthAdjust="spacingAndGlyphs" >95% CI</text>
<rect x="103.7" y="1134.3" width="506.4" height="387.2" fill="none" stroke="#262626" stroke-width="2.8" />
<line x1="97.5" y1="1521.5" x2="103.7" y2="1521.5" stroke="#262626" stroke-width="2.6" />
<text x="92.0" y="1529.5" font-size="23.5" text-anchor="end" fill="#262626" >0</text>
<line x1="97.5" y1="1466.2" x2="103.7" y2="1466.2" stroke="#262626" stroke-width="2.6" />
<text x="92.0" y="1474.2" font-size="23.5" text-anchor="end" fill="#262626" >200</text>
<line x1="97.5" y1="1410.9" x2="103.7" y2="1410.9" stroke="#262626" stroke-width="2.6" />
<text x="92.0" y="1418.9" font-size="23.5" text-anchor="end" fill="#262626" >400</text>
<line x1="97.5" y1="1355.5" x2="103.7" y2="1355.5" stroke="#262626" stroke-width="2.6" />
<text x="92.0" y="1363.5" font-size="23.5" text-anchor="end" fill="#262626" >600</text>
<line x1="97.5" y1="1300.2" x2="103.7" y2="1300.2" stroke="#262626" stroke-width="2.6" />
<text x="92.0" y="1308.2" font-size="23.5" text-anchor="end" fill="#262626" >800</text>
<line x1="97.5" y1="1244.9" x2="103.7" y2="1244.9" stroke="#262626" stroke-width="2.6" />
<text x="92.0" y="1252.9" font-size="23.5" text-anchor="end" fill="#262626" >1000</text>
<line x1="97.5" y1="1189.6" x2="103.7" y2="1189.6" stroke="#262626" stroke-width="2.6" />
<text x="92.0" y="1197.6" font-size="23.5" text-anchor="end" fill="#262626" >1200</text>
<line x1="97.5" y1="1134.3" x2="103.7" y2="1134.3" stroke="#262626" stroke-width="2.6" />
<text x="92.0" y="1142.3" font-size="23.5" text-anchor="end" fill="#262626" >1400</text>
<line x1="159.5" y1="1521.5" x2="159.5" y2="1527.0" stroke="#262626" stroke-width="2.6" />
<text x="158.5" y="1558.0" font-size="23.5" text-anchor="middle" fill="#262626" >-0.2</text>
<line x1="224.0" y1="1521.5" x2="224.0" y2="1527.0" stroke="#262626" stroke-width="2.6" />
<text x="223.0" y="1558.0" font-size="23.5" text-anchor="middle" fill="#262626" >-0.1</text>
<line x1="288.5" y1="1521.5" x2="288.5" y2="1527.0" stroke="#262626" stroke-width="2.6" />
<text x="287.5" y="1558.0" font-size="23.5" text-anchor="middle" fill="#262626" >0</text>
<line x1="353.0" y1="1521.5" x2="353.0" y2="1527.0" stroke="#262626" stroke-width="2.6" />
<text x="352.0" y="1558.0" font-size="23.5" text-anchor="middle" fill="#262626" >0.1</text>
<line x1="417.5" y1="1521.5" x2="417.5" y2="1527.0" stroke="#262626" stroke-width="2.6" />
<text x="416.5" y="1558.0" font-size="23.5" text-anchor="middle" fill="#262626" >0.2</text>
<line x1="482.0" y1="1521.5" x2="482.0" y2="1527.0" stroke="#262626" stroke-width="2.6" />
<text x="481.0" y="1558.0" font-size="23.5" text-anchor="middle" fill="#262626" >0.3</text>
<line x1="546.5" y1="1521.5" x2="546.5" y2="1527.0" stroke="#262626" stroke-width="2.6" />
<text x="545.5" y="1558.0" font-size="23.5" text-anchor="middle" fill="#262626" >0.4</text>
<text x="355.5" y="1594.0" font-size="27" text-anchor="middle" fill="#262626" >β</text>
<text x="26.0" y="1321.5" font-size="28.5" text-anchor="middle" fill="#262626" textLength="173.0" lengthAdjust="spacingAndGlyphs" transform="rotate(-90 26.0 1321.5)" >Sample count</text>
<text x="719.5" y="1093.0" font-size="32" >H</text>
<text x="1235.0" y="1094.4" font-size="25" text-anchor="middle" fill="#262626" textLength="243.8" lengthAdjust="spacingAndGlyphs" >Pairwise comparisons</text>
<text x="856.0" y="1146.2" font-size="22" fill="#262626" textLength="124.7" lengthAdjust="spacingAndGlyphs" >18 vs. 31 ms</text>
<text x="1072.5" y="1146.2" font-size="22" fill="#262626" textLength="124.7" lengthAdjust="spacingAndGlyphs" >31 vs. 52 ms</text>
<text x="1292.5" y="1146.2" font-size="22" fill="#262626" textLength="124.7" lengthAdjust="spacingAndGlyphs" >52 vs. 88 ms</text>
<text x="1512.4" y="1146.2" font-size="22" fill="#262626" textLength="136.9" lengthAdjust="spacingAndGlyphs" >88 vs. 150 ms</text>
<text x="1354.5" y="1202.0" font-size="27" text-anchor="middle" >*</text>
<line x1="813.2" y1="1280.0" x2="1729" y2="1280.0" stroke="#a8a8a8" stroke-width="2.6" stroke-dasharray="0.1,5.4" stroke-linecap="round"/>
<line x1="813.2" y1="1442.0" x2="1729" y2="1442.0" stroke="#a8a8a8" stroke-width="2.6" stroke-dasharray="0.1,5.4" stroke-linecap="round"/>
<path d="M892.0,1182.4 L892.0,1182.4 L893.6,1213.8 L897.0,1236.2 L904.8,1254.1 L913.8,1265.3 L914.9,1269.8 L938.4,1281.0 L954.1,1292.2 L978.7,1309.0 L1019.1,1323.5 L1023.5,1331.4 L1037.0,1337.0 L1043.7,1343.7 L1042.6,1357.1 L1043.7,1370.6 L1037.0,1378.4 L1016.8,1386.3 L978.7,1405.3 L960.8,1412.0 L927.2,1431.1 L922.7,1440.0 L909.3,1451.2 L904.8,1460.2 L895.8,1473.6 L893.6,1491.5 L892.0,1511.7 L892.0,1511.7 Z" fill="#d4d4d4" stroke="none" stroke-width="0" />
<path d="M1132.2,1236.2 L1132.2,1236.2 L1132.8,1260.8 L1135.5,1274.2 L1144.5,1287.7 L1160.2,1298.9 L1184.8,1307.8 L1200.5,1312.3 L1218.4,1323.5 L1252.0,1332.5 L1276.7,1345.9 L1282.3,1358.3 L1276.7,1362.7 L1263.2,1371.7 L1238.6,1376.2 L1222.9,1384.0 L1191.5,1395.2 L1182.6,1400.8 L1162.4,1408.7 L1149.0,1417.6 L1142.3,1425.5 L1137.8,1431.1 L1135.5,1440.0 L1132.2,1472.5 L1132.2,1472.5 Z" fill="#d4d4d4" stroke="none" stroke-width="0" />
<path d="M1347.3,1247.3 L1347.3,1247.3 L1350.4,1259.9 L1357.8,1269.3 L1365.1,1274.6 L1368.3,1277.7 L1383.0,1283.0 L1416.6,1291.4 L1441.8,1295.6 L1470.1,1300.8 L1472.2,1305.0 L1494.3,1311.3 L1499.5,1315.5 L1490.1,1317.6 L1499.5,1318.7 L1500.6,1321.8 L1488.0,1326.0 L1446.0,1336.5 L1404.0,1346.0 L1372.5,1352.3 L1357.8,1358.6 L1349.4,1369.1 L1346.2,1379.6 L1347.3,1391.1 L1347.3,1391.1 Z" fill="#d4d4d4" stroke="none" stroke-width="0" />
<path d="M1566.7,1294.5 L1566.7,1294.5 L1569.9,1302.9 L1575.1,1308.2 L1582.5,1312.4 L1614.0,1320.8 L1656.0,1329.2 L1689.6,1335.5 L1698.0,1339.7 L1717.9,1343.9 L1698.0,1348.1 L1664.4,1352.3 L1635.0,1358.6 L1593.0,1367.0 L1576.2,1375.4 L1569.9,1385.9 L1566.7,1402.7 L1566.7,1402.7 Z" fill="#d4d4d4" stroke="none" stroke-width="0" />
<line x1="813.2" y1="1361.0" x2="1729" y2="1361.0" stroke="#000" stroke-width="2.6" stroke-dasharray="0.1,5.6" stroke-linecap="round"/>
<line x1="900.3" y1="1268.0" x2="900.3" y2="1446.9" stroke="#000" stroke-width="5" />
<path d="M892.0,1182.4 C892.3,1187.6 892.8,1204.8 893.6,1213.8 C894.4,1222.7 895.1,1229.4 897.0,1236.2 C898.8,1242.9 902.0,1249.2 904.8,1254.1 C907.6,1258.9 912.1,1262.7 913.8,1265.3 C915.4,1267.9 910.8,1267.2 914.9,1269.8 C919.0,1272.4 931.9,1277.2 938.4,1281.0 C944.9,1284.7 947.4,1287.5 954.1,1292.2 C960.8,1296.8 967.9,1303.7 978.7,1309.0 C989.6,1314.2 1011.6,1319.8 1019.1,1323.5 C1026.5,1327.3 1020.5,1329.1 1023.5,1331.4 C1026.5,1333.6 1033.6,1334.9 1037.0,1337.0 C1040.3,1339.0 1042.8,1340.3 1043.7,1343.7 C1044.6,1347.1 1042.6,1352.7 1042.6,1357.1 C1042.6,1361.6 1044.6,1367.0 1043.7,1370.6 C1042.8,1374.1 1041.5,1375.8 1037.0,1378.4 C1032.5,1381.0 1026.5,1381.8 1016.8,1386.3 C1007.1,1390.7 988.1,1401.0 978.7,1405.3 C969.4,1409.6 969.4,1407.7 960.8,1412.0 C952.2,1416.3 933.6,1426.4 927.2,1431.1 C920.9,1435.7 925.7,1436.7 922.7,1440.0 C919.7,1443.4 912.3,1447.9 909.3,1451.2 C906.3,1454.6 907.0,1456.4 904.8,1460.2 C902.6,1463.9 897.7,1468.4 895.8,1473.6 C894.0,1478.8 894.2,1485.2 893.6,1491.5 C893.0,1497.9 892.3,1508.3 892.0,1511.7" fill="none" stroke="#1a70b8" stroke-width="3.8" stroke-linejoin="round"/>
<line x1="1139.4" y1="1294.4" x2="1139.4" y2="1415.4" stroke="#000" stroke-width="5" />
<path d="M1132.2,1236.2 C1132.3,1240.3 1132.3,1254.5 1132.8,1260.8 C1133.4,1267.2 1133.6,1269.8 1135.5,1274.2 C1137.5,1278.7 1140.4,1283.6 1144.5,1287.7 C1148.6,1291.8 1153.5,1295.5 1160.2,1298.9 C1166.9,1302.2 1178.1,1305.6 1184.8,1307.8 C1191.5,1310.1 1194.9,1309.7 1200.5,1312.3 C1206.1,1314.9 1209.8,1320.2 1218.4,1323.5 C1227.0,1326.9 1242.3,1328.8 1252.0,1332.5 C1261.7,1336.2 1271.6,1341.6 1276.7,1345.9 C1281.7,1350.2 1282.3,1355.5 1282.3,1358.3 C1282.3,1361.1 1279.8,1360.5 1276.7,1362.7 C1273.5,1365.0 1269.6,1369.5 1263.2,1371.7 C1256.9,1373.9 1245.3,1374.1 1238.6,1376.2 C1231.9,1378.2 1230.7,1380.8 1222.9,1384.0 C1215.1,1387.2 1198.3,1392.4 1191.5,1395.2 C1184.8,1398.0 1187.4,1398.6 1182.6,1400.8 C1177.7,1403.1 1168.0,1405.9 1162.4,1408.7 C1156.8,1411.5 1152.3,1414.8 1149.0,1417.6 C1145.6,1420.4 1144.1,1423.2 1142.3,1425.5 C1140.4,1427.7 1138.9,1428.6 1137.8,1431.1 C1136.7,1433.5 1136.5,1433.1 1135.5,1440.0 C1134.6,1446.9 1132.7,1467.1 1132.2,1472.5" fill="none" stroke="#1a70b8" stroke-width="3.8" stroke-linejoin="round"/>
<line x1="1355.3" y1="1276.7" x2="1355.3" y2="1353.3" stroke="#000" stroke-width="5" />
<path d="M1347.3,1247.3 C1347.8,1249.4 1348.7,1256.2 1350.4,1259.9 C1352.2,1263.6 1355.3,1266.9 1357.8,1269.3 C1360.2,1271.8 1363.4,1273.2 1365.1,1274.6 C1366.9,1276.0 1365.3,1276.3 1368.3,1277.7 C1371.3,1279.1 1374.9,1280.7 1383.0,1283.0 C1391.0,1285.3 1406.8,1289.3 1416.6,1291.4 C1426.4,1293.5 1432.9,1294.0 1441.8,1295.6 C1450.7,1297.2 1465.1,1299.3 1470.1,1300.8 C1475.2,1302.4 1468.2,1303.3 1472.2,1305.0 C1476.3,1306.8 1489.7,1309.6 1494.3,1311.3 C1498.8,1313.1 1500.2,1314.5 1499.5,1315.5 C1498.8,1316.6 1490.1,1317.1 1490.1,1317.6 C1490.1,1318.2 1497.8,1318.0 1499.5,1318.7 C1501.3,1319.4 1502.5,1320.6 1500.6,1321.8 C1498.7,1323.1 1497.1,1323.6 1488.0,1326.0 C1478.9,1328.5 1460.0,1333.2 1446.0,1336.5 C1432.0,1339.9 1416.2,1343.4 1404.0,1346.0 C1391.7,1348.6 1380.2,1350.2 1372.5,1352.3 C1364.8,1354.4 1361.6,1355.8 1357.8,1358.6 C1353.9,1361.4 1351.3,1365.6 1349.4,1369.1 C1347.5,1372.6 1346.6,1375.9 1346.2,1379.6 C1345.9,1383.3 1347.1,1389.2 1347.3,1391.1" fill="none" stroke="#1a70b8" stroke-width="3.8" stroke-linejoin="round"/>
<line x1="1575.1" y1="1314.5" x2="1575.1" y2="1371.2" stroke="#000" stroke-width="5" />
<path d="M1566.7,1294.5 C1567.3,1295.9 1568.5,1300.7 1569.9,1302.9 C1571.3,1305.2 1573.0,1306.6 1575.1,1308.2 C1577.2,1309.8 1576.0,1310.3 1582.5,1312.4 C1589.0,1314.5 1601.7,1318.0 1614.0,1320.8 C1626.2,1323.6 1643.4,1326.7 1656.0,1329.2 C1668.6,1331.6 1682.6,1333.7 1689.6,1335.5 C1696.6,1337.2 1693.3,1338.3 1698.0,1339.7 C1702.7,1341.1 1717.9,1342.5 1717.9,1343.9 C1717.9,1345.3 1706.9,1346.7 1698.0,1348.1 C1689.1,1349.5 1674.9,1350.5 1664.4,1352.3 C1653.9,1354.0 1646.9,1356.1 1635.0,1358.6 C1623.1,1361.0 1602.8,1364.2 1593.0,1367.0 C1583.2,1369.8 1580.0,1372.2 1576.2,1375.4 C1572.3,1378.5 1571.5,1381.3 1569.9,1385.9 C1568.3,1390.4 1567.3,1399.9 1566.7,1402.7" fill="none" stroke="#1a70b8" stroke-width="3.8" stroke-linejoin="round"/>
<line x1="810.2" y1="1116.7" x2="810.2" y2="1522.0" stroke="#262626" stroke-width="2.4" />
<line x1="803.2" y1="1118.0" x2="810.2" y2="1118.0" stroke="#262626" stroke-width="2.4" />
<text x="799.2" y="1126.0" font-size="23" text-anchor="end" fill="#262626" >1.5</text>
<line x1="803.2" y1="1199.0" x2="810.2" y2="1199.0" stroke="#262626" stroke-width="2.4" />
<text x="799.2" y="1207.0" font-size="23" text-anchor="end" fill="#262626" >1</text>
<line x1="803.2" y1="1280.0" x2="810.2" y2="1280.0" stroke="#262626" stroke-width="2.4" />
<text x="799.2" y="1288.0" font-size="23" text-anchor="end" fill="#262626" >0.5</text>
<line x1="803.2" y1="1361.0" x2="810.2" y2="1361.0" stroke="#262626" stroke-width="2.4" />
<text x="799.2" y="1369.0" font-size="23" text-anchor="end" fill="#262626" >0</text>
<line x1="803.2" y1="1442.0" x2="810.2" y2="1442.0" stroke="#262626" stroke-width="2.4" />
<text x="799.2" y="1450.0" font-size="23" text-anchor="end" fill="#262626" >-0.5</text>
<line x1="803.2" y1="1523.0" x2="810.2" y2="1523.0" stroke="#262626" stroke-width="2.4" />
<text x="799.2" y="1531.0" font-size="23" text-anchor="end" fill="#262626" >-1</text>
<line x1="1480.0" y1="1470.7" x2="1514.5" y2="1470.7" stroke="#000" stroke-width="6" />
<text x="1521.4" y="1479.7" font-size="24.5" fill="#262626" textLength="82.2" lengthAdjust="spacingAndGlyphs" >95% CI</text>
<text x="740.5" y="1337.7" font-size="25.5" text-anchor="middle" fill="#262626" textLength="449.4" lengthAdjust="spacingAndGlyphs" transform="rotate(-90 740.5 1337.7)" >Difference in M-ratio between conditions</text>
</svg></body></html>
